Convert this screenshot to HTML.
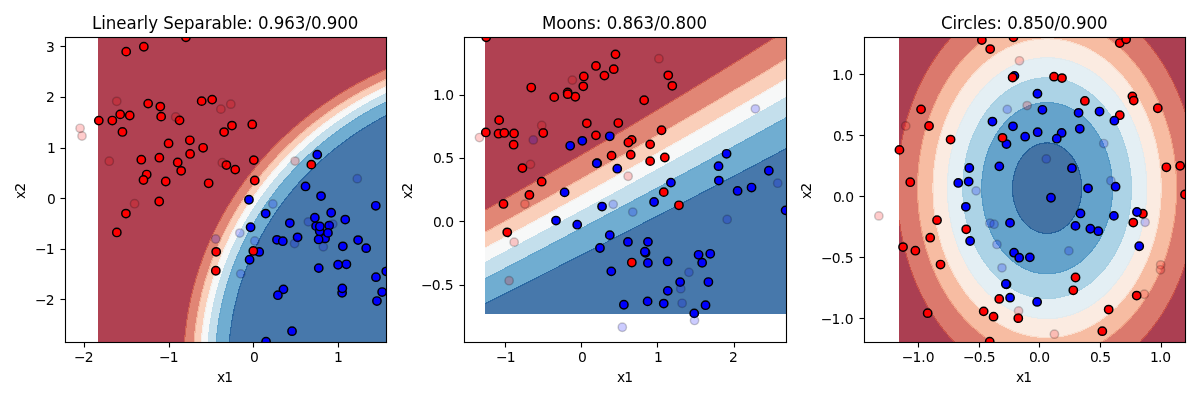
<!DOCTYPE html>
<html lang="en">
<head>
<meta charset="utf-8">
<title>Gaussian Naive Bayes decision boundaries</title>
<style>
html,body{margin:0;padding:0;background:#fff;overflow:hidden}
body{width:1200px;height:400px}
svg{display:block}
</style>
</head>
<body>
<svg width="1200" height="400" viewBox="0 0 1200 400">
<rect x="0" y="0" width="1200" height="400" fill="#fff"/>
<defs>
<clipPath id="c0"><rect x="65" y="37" width="321" height="305"/></clipPath>
<clipPath id="c1"><rect x="464" y="37" width="322" height="305"/></clipPath>
<clipPath id="c2"><rect x="864" y="37" width="321" height="305"/></clipPath>
</defs>
<g clip-path="url(#c0)">
<g shape-rendering="crispEdges" stroke-width="1.2" stroke-linejoin="round">
<path opacity=".8" fill="#9d1227" stroke="#9d1227" d="M100.25 341.72L101.7 341.72L103.14 341.72L104.58 341.72L106.03 341.72L107.47 341.72L108.92 341.72L110.36 341.72L111.81 341.72L113.25 341.72L114.7 341.72L116.14 341.72L117.58 341.72L119.03 341.72L120.47 341.72L121.92 341.72L123.36 341.72L124.81 341.72L126.25 341.72L127.7 341.72L129.14 341.72L130.58 341.72L132.03 341.72L133.47 341.72L134.92 341.72L136.36 341.72L137.81 341.72L139.25 341.72L140.7 341.72L142.14 341.72L143.58 341.72L145.03 341.72L146.47 341.72L147.92 341.72L149.36 341.72L150.81 341.72L152.25 341.72L153.7 341.72L155.14 341.72L156.58 341.72L158.03 341.72L159.47 341.72L160.92 341.72L162.36 341.72L163.81 341.72L165.25 341.72L166.7 341.72L168.14 341.72L169.58 341.72L171.03 341.72L172.47 341.72L173.92 341.72L175.36 341.72L176.81 341.72L178.25 341.72L179.7 341.72L181.14 341.72L182.58 341.72L184.03 341.72L184.54 341.72L184.65 340.19L184.78 338.66L184.91 337.13L185.05 335.6L185.2 334.07L185.36 332.54L185.47 331.5L185.52 331.02L185.69 329.49L185.86 327.96L186.04 326.43L186.24 324.9L186.44 323.37L186.66 321.84L186.88 320.31L186.92 320.09L187.11 318.78L187.33 317.25L187.57 315.72L187.83 314.19L188.09 312.66L188.36 311.16L188.37 311.13L188.63 309.6L188.91 308.07L189.2 306.54L189.51 305.01L189.81 303.59L189.83 303.48L190.13 301.95L190.45 300.42L190.79 298.89L191.14 297.36L191.25 296.9L191.49 295.83L191.84 294.3L192.21 292.78L192.59 291.25L192.7 290.84L192.97 289.72L193.36 288.19L193.76 286.66L194.14 285.29L194.18 285.13L194.59 283.6L195.01 282.07L195.46 280.54L195.58 280.12L195.9 279.01L196.34 277.48L196.81 275.95L197.03 275.27L197.28 274.42L197.76 272.89L198.25 271.36L198.47 270.7L198.75 269.83L199.25 268.3L199.77 266.77L199.92 266.36L200.29 265.24L200.82 263.71L201.36 262.23L201.38 262.18L201.91 260.65L202.48 259.12L202.81 258.27L203.05 257.59L203.62 256.07L204.23 254.54L204.25 254.48L204.81 253.01L205.42 251.48L205.7 250.82L206.04 249.95L206.66 248.42L207.14 247.3L207.31 246.89L207.94 245.36L208.58 243.9L208.61 243.83L209.26 242.3L209.95 240.77L210.03 240.6L210.62 239.24L211.33 237.71L211.47 237.4L212.03 236.18L212.75 234.65L212.92 234.3L213.47 233.12L214.21 231.59L214.36 231.28L214.95 230.06L215.71 228.53L215.81 228.35L216.47 227L217.25 225.49L217.26 225.47L218.03 223.94L218.7 222.7L218.84 222.41L219.64 220.88L220.14 219.97L220.46 219.35L221.3 217.83L221.58 217.31L222.13 216.3L223 214.77L223.03 214.71L223.85 213.24L224.47 212.16L224.73 211.71L225.62 210.18L225.92 209.67L226.51 208.65L227.36 207.23L227.43 207.12L228.34 205.59L228.81 204.84L229.27 204.06L230.23 202.53L230.25 202.5L231.17 201L231.7 200.19L232.14 199.47L233.14 197.94L233.14 197.94L234.12 196.41L234.58 195.71L235.12 194.88L236.03 193.54L236.15 193.35L237.18 191.82L237.47 191.39L238.21 190.29L238.92 189.28L239.27 188.76L240.35 187.23L240.36 187.22L241.43 185.7L241.81 185.18L242.52 184.17L243.25 183.17L243.63 182.64L244.69 181.21L244.76 181.12L245.9 179.59L246.14 179.26L247.04 178.06L247.58 177.35L248.21 176.53L249.03 175.47L249.39 175L250.47 173.62L250.59 173.47L251.8 171.94L251.92 171.79L253.02 170.41L253.36 169.98L254.25 168.88L254.81 168.2L255.5 167.35L256.25 166.45L256.77 165.82L257.69 164.73L258.06 164.29L259.14 163.02L259.36 162.76L260.58 161.35L260.68 161.23L262.02 159.7L262.03 159.69L263.37 158.17L263.47 158.05L264.73 156.64L264.92 156.43L266.11 155.11L266.36 154.84L267.51 153.58L267.81 153.26L268.93 152.05L269.25 151.71L270.36 150.52L270.69 150.17L271.82 148.99L272.14 148.66L273.29 147.46L273.58 147.16L274.78 145.93L275.03 145.68L276.29 144.4L276.47 144.22L277.82 142.88L277.92 142.78L279.36 141.36L279.38 141.35L280.81 139.95L280.94 139.82L282.25 138.55L282.53 138.29L283.69 137.17L284.13 136.76L285.14 135.81L285.76 135.23L286.58 134.46L287.42 133.7L288.03 133.13L289.09 132.17L289.47 131.82L290.8 130.64L290.92 130.53L292.36 129.24L292.52 129.11L293.81 127.97L294.25 127.58L295.25 126.71L296.02 126.05L296.69 125.47L297.81 124.52L298.14 124.24L299.58 123.03L299.64 122.99L301.03 121.82L301.47 121.46L302.47 120.63L303.34 119.93L303.92 119.46L305.24 118.4L305.36 118.3L306.81 117.15L307.16 116.87L308.25 116L309.1 115.34L309.69 114.88L311.09 113.81L311.14 113.78L312.58 112.66L313.09 112.28L314.03 111.57L315.13 110.75L315.47 110.5L316.92 109.43L317.2 109.22L318.36 108.37L319.3 107.69L319.81 107.33L321.25 106.3L321.44 106.16L322.69 105.26L323.6 104.64L324.14 104.26L325.58 103.26L325.81 103.11L327.03 102.26L328.05 101.58L328.47 101.28L329.92 100.31L330.32 100.05L331.36 99.35L332.64 98.52L332.81 98.41L334.25 97.46L334.99 96.99L335.69 96.53L337.14 95.61L337.39 95.46L338.58 94.69L339.82 93.93L340.03 93.8L341.47 92.9L342.3 92.4L342.92 92.02L344.36 91.14L344.83 90.87L345.81 90.27L347.25 89.43L347.41 89.34L348.69 88.57L350.03 87.81L350.14 87.75L351.58 86.9L352.7 86.28L353.03 86.09L354.47 85.27L355.43 84.75L355.92 84.47L357.36 83.68L358.21 83.22L358.81 82.89L360.25 82.11L361.06 81.69L361.69 81.34L363.14 80.58L363.96 80.16L364.58 79.83L366.03 79.08L366.93 78.63L367.47 78.35L368.92 77.61L369.96 77.1L370.36 76.9L371.81 76.18L373.07 75.57L373.25 75.49L374.69 74.77L376.14 74.1L376.26 74.04L377.58 73.4L379.03 72.73L379.52 72.51L380.47 72.06L381.92 71.4L382.86 70.98L383.36 70.75L384.81 70.1L386.25 69.48L386.25 69.45L386.25 67.93L386.25 66.4L386.25 64.87L386.25 63.34L386.25 61.81L386.25 60.28L386.25 58.75L386.25 57.22L386.25 55.69L386.25 54.16L386.25 52.63L386.25 51.1L386.25 49.57L386.25 48.04L386.25 46.51L386.25 44.98L386.25 43.45L386.25 41.92L386.25 40.39L386.25 38.86L386.25 37.33L384.81 37.33L383.36 37.33L381.92 37.33L380.47 37.33L379.03 37.33L377.58 37.33L376.14 37.33L374.69 37.33L373.25 37.33L371.81 37.33L370.36 37.33L368.92 37.33L367.47 37.33L366.03 37.33L364.58 37.33L363.14 37.33L361.69 37.33L360.25 37.33L358.81 37.33L357.36 37.33L355.92 37.33L354.47 37.33L353.03 37.33L351.58 37.33L350.14 37.33L348.69 37.33L347.25 37.33L345.81 37.33L344.36 37.33L342.92 37.33L341.47 37.33L340.03 37.33L338.58 37.33L337.14 37.33L335.69 37.33L334.25 37.33L332.81 37.33L331.36 37.33L329.92 37.33L328.47 37.33L327.03 37.33L325.58 37.33L324.14 37.33L322.69 37.33L321.25 37.33L319.81 37.33L318.36 37.33L316.92 37.33L315.47 37.33L314.03 37.33L312.58 37.33L311.14 37.33L309.69 37.33L308.25 37.33L306.81 37.33L305.36 37.33L303.92 37.33L302.47 37.33L301.03 37.33L299.58 37.33L298.14 37.33L296.69 37.33L295.25 37.33L293.81 37.33L292.36 37.33L290.92 37.33L289.47 37.33L288.03 37.33L286.58 37.33L285.14 37.33L283.69 37.33L282.25 37.33L280.81 37.33L279.36 37.33L277.92 37.33L276.47 37.33L275.03 37.33L273.58 37.33L272.14 37.33L270.69 37.33L269.25 37.33L267.81 37.33L266.36 37.33L264.92 37.33L263.47 37.33L262.03 37.33L260.58 37.33L259.14 37.33L257.69 37.33L256.25 37.33L254.81 37.33L253.36 37.33L251.92 37.33L250.47 37.33L249.03 37.33L247.58 37.33L246.14 37.33L244.69 37.33L243.25 37.33L241.81 37.33L240.36 37.33L238.92 37.33L237.47 37.33L236.03 37.33L234.58 37.33L233.14 37.33L231.7 37.33L230.25 37.33L228.81 37.33L227.36 37.33L225.92 37.33L224.47 37.33L223.03 37.33L221.58 37.33L220.14 37.33L218.7 37.33L217.25 37.33L215.81 37.33L214.36 37.33L212.92 37.33L211.47 37.33L210.03 37.33L208.58 37.33L207.14 37.33L205.7 37.33L204.25 37.33L202.81 37.33L201.36 37.33L199.92 37.33L198.47 37.33L197.03 37.33L195.58 37.33L194.14 37.33L192.7 37.33L191.25 37.33L189.81 37.33L188.36 37.33L186.92 37.33L185.47 37.33L184.03 37.33L182.58 37.33L181.14 37.33L179.7 37.33L178.25 37.33L176.81 37.33L175.36 37.33L173.92 37.33L172.47 37.33L171.03 37.33L169.58 37.33L168.14 37.33L166.7 37.33L165.25 37.33L163.81 37.33L162.36 37.33L160.92 37.33L159.47 37.33L158.03 37.33L156.58 37.33L155.14 37.33L153.7 37.33L152.25 37.33L150.81 37.33L149.36 37.33L147.92 37.33L146.47 37.33L145.03 37.33L143.58 37.33L142.14 37.33L140.7 37.33L139.25 37.33L137.81 37.33L136.36 37.33L134.92 37.33L133.47 37.33L132.03 37.33L130.58 37.33L129.14 37.33L127.7 37.33L126.25 37.33L124.81 37.33L123.36 37.33L121.92 37.33L120.47 37.33L119.03 37.33L117.58 37.33L116.14 37.33L114.7 37.33L113.25 37.33L111.81 37.33L110.36 37.33L108.92 37.33L107.47 37.33L106.03 37.33L104.58 37.33L103.14 37.33L101.7 37.33L100.25 37.33L98.81 37.33L98.81 38.86L98.81 40.39L98.81 41.92L98.81 43.45L98.81 44.98L98.81 46.51L98.81 48.04L98.81 49.57L98.81 51.1L98.81 52.63L98.81 54.16L98.81 55.69L98.81 57.22L98.81 58.75L98.81 60.28L98.81 61.81L98.81 63.34L98.81 64.87L98.81 66.4L98.81 67.93L98.81 69.45L98.81 70.98L98.81 72.51L98.81 74.04L98.81 75.57L98.81 77.1L98.81 78.63L98.81 80.16L98.81 81.69L98.81 83.22L98.81 84.75L98.81 86.28L98.81 87.81L98.81 89.34L98.81 90.87L98.81 92.4L98.81 93.93L98.81 95.46L98.81 96.99L98.81 98.52L98.81 100.05L98.81 101.58L98.81 103.11L98.81 104.64L98.81 106.16L98.81 107.69L98.81 109.22L98.81 110.75L98.81 112.28L98.81 113.81L98.81 115.34L98.81 116.87L98.81 118.4L98.81 119.93L98.81 121.46L98.81 122.99L98.81 124.52L98.81 126.05L98.81 127.58L98.81 129.11L98.81 130.64L98.81 132.17L98.81 133.7L98.81 135.23L98.81 136.76L98.81 138.29L98.81 139.82L98.81 141.35L98.81 142.88L98.81 144.4L98.81 145.93L98.81 147.46L98.81 148.99L98.81 150.52L98.81 152.05L98.81 153.58L98.81 155.11L98.81 156.64L98.81 158.17L98.81 159.7L98.81 161.23L98.81 162.76L98.81 164.29L98.81 165.82L98.81 167.35L98.81 168.88L98.81 170.41L98.81 171.94L98.81 173.47L98.81 175L98.81 176.53L98.81 178.06L98.81 179.59L98.81 181.12L98.81 182.64L98.81 184.17L98.81 185.7L98.81 187.23L98.81 188.76L98.81 190.29L98.81 191.82L98.81 193.35L98.81 194.88L98.81 196.41L98.81 197.94L98.81 199.47L98.81 201L98.81 202.53L98.81 204.06L98.81 205.59L98.81 207.12L98.81 208.65L98.81 210.18L98.81 211.71L98.81 213.24L98.81 214.77L98.81 216.3L98.81 217.83L98.81 219.35L98.81 220.88L98.81 222.41L98.81 223.94L98.81 225.47L98.81 227L98.81 228.53L98.81 230.06L98.81 231.59L98.81 233.12L98.81 234.65L98.81 236.18L98.81 237.71L98.81 239.24L98.81 240.77L98.81 242.3L98.81 243.83L98.81 245.36L98.81 246.89L98.81 248.42L98.81 249.95L98.81 251.48L98.81 253.01L98.81 254.54L98.81 256.07L98.81 257.59L98.81 259.12L98.81 260.65L98.81 262.18L98.81 263.71L98.81 265.24L98.81 266.77L98.81 268.3L98.81 269.83L98.81 271.36L98.81 272.89L98.81 274.42L98.81 275.95L98.81 277.48L98.81 279.01L98.81 280.54L98.81 282.07L98.81 283.6L98.81 285.13L98.81 286.66L98.81 288.19L98.81 289.72L98.81 291.25L98.81 292.78L98.81 294.3L98.81 295.83L98.81 297.36L98.81 298.89L98.81 300.42L98.81 301.95L98.81 303.48L98.81 305.01L98.81 306.54L98.81 308.07L98.81 309.6L98.81 311.13L98.81 312.66L98.81 314.19L98.81 315.72L98.81 317.25L98.81 318.78L98.81 320.31L98.81 321.84L98.81 323.37L98.81 324.9L98.81 326.43L98.81 327.96L98.81 329.49L98.81 331.02L98.81 332.54L98.81 334.07L98.81 335.6L98.81 337.13L98.81 338.66L98.81 340.19L98.81 341.72Z"/>
<path opacity=".8" fill="#da6853" stroke="#da6853" d="M185.47 341.72L186.92 341.72L188.36 341.72L189.81 341.72L191.25 341.72L192.7 341.72L194.14 341.72L194.17 341.72L194.28 340.19L194.41 338.66L194.54 337.13L194.68 335.6L194.83 334.07L194.99 332.54L195.16 331.02L195.34 329.49L195.52 327.96L195.58 327.47L195.71 326.43L195.91 324.9L196.12 323.37L196.33 321.84L196.56 320.31L196.79 318.78L197.03 317.31L197.04 317.25L197.28 315.72L197.54 314.19L197.8 312.66L198.08 311.13L198.37 309.6L198.47 309.06L198.66 308.07L198.96 306.54L199.26 305.01L199.58 303.48L199.91 301.95L199.92 301.94L200.24 300.42L200.58 298.89L200.94 297.36L201.3 295.83L201.36 295.59L201.67 294.3L202.04 292.78L202.43 291.25L202.81 289.81L202.83 289.72L203.23 288.19L203.64 286.66L204.07 285.13L204.25 284.48L204.5 283.6L204.93 282.07L205.38 280.54L205.7 279.51L205.84 279.01L206.3 277.48L206.78 275.95L207.14 274.83L207.27 274.42L207.76 272.89L208.26 271.36L208.58 270.41L208.78 269.83L209.29 268.3L209.83 266.77L210.03 266.21L210.37 265.24L210.91 263.71L211.47 262.2L211.48 262.18L212.04 260.65L212.62 259.12L212.92 258.36L213.21 257.59L213.8 256.07L214.36 254.68L214.42 254.54L215.03 253.01L215.66 251.48L215.81 251.13L216.29 249.95L216.94 248.42L217.25 247.7L217.6 246.89L218.26 245.36L218.7 244.39L218.94 243.83L219.62 242.3L220.14 241.18L220.32 240.77L221.03 239.24L221.58 238.06L221.75 237.71L222.47 236.18L223.03 235.04L223.21 234.65L223.96 233.12L224.47 232.1L224.72 231.59L225.49 230.06L225.92 229.23L226.27 228.53L227.07 227L227.36 226.44L227.87 225.47L228.69 223.94L228.81 223.72L229.51 222.41L230.25 221.06L230.35 220.88L231.19 219.35L231.7 218.47L232.05 217.83L232.93 216.3L233.14 215.93L233.8 214.77L234.58 213.44L234.7 213.24L235.61 211.71L236.03 211.01L236.52 210.18L237.46 208.65L237.47 208.63L238.4 207.12L238.92 206.29L239.35 205.59L240.32 204.06L240.36 204L241.3 202.53L241.81 201.75L242.29 201L243.25 199.54L243.3 199.47L244.31 197.94L244.69 197.37L245.34 196.41L246.14 195.25L246.39 194.88L247.45 193.35L247.58 193.16L248.51 191.82L249.03 191.1L249.6 190.29L250.47 189.08L250.7 188.76L251.81 187.23L251.92 187.09L252.93 185.7L253.36 185.13L254.07 184.17L254.81 183.2L255.23 182.64L256.25 181.31L256.4 181.12L257.58 179.59L257.69 179.44L258.78 178.06L259.14 177.6L259.99 176.53L260.58 175.79L261.22 175L262.03 174L262.47 173.47L263.47 172.25L263.73 171.94L264.92 170.51L265.01 170.41L266.3 168.88L266.36 168.8L267.61 167.35L267.81 167.12L268.93 165.82L269.25 165.45L270.27 164.29L270.69 163.81L271.63 162.76L272.14 162.19L273.01 161.23L273.58 160.59L274.4 159.7L275.03 159.02L275.81 158.17L276.47 157.46L277.24 156.64L277.92 155.93L278.69 155.11L279.36 154.41L280.16 153.58L280.81 152.91L281.65 152.05L282.25 151.44L283.15 150.52L283.69 149.98L284.68 148.99L285.14 148.54L286.23 147.46L286.58 147.11L287.79 145.93L288.03 145.71L289.38 144.4L289.47 144.32L290.92 142.95L290.99 142.88L292.36 141.59L292.62 141.35L293.81 140.24L294.27 139.82L295.25 138.92L295.95 138.29L296.69 137.61L297.65 136.76L298.14 136.31L299.37 135.23L299.58 135.04L301.03 133.78L301.12 133.7L302.47 132.52L302.88 132.17L303.92 131.28L304.68 130.64L305.36 130.06L306.5 129.11L306.81 128.86L308.25 127.66L308.35 127.58L309.69 126.48L310.22 126.05L311.14 125.31L312.13 124.52L312.58 124.15L314.03 123.02L314.06 122.99L315.47 121.88L316.02 121.46L316.92 120.76L318.01 119.93L318.36 119.66L319.81 118.57L320.03 118.4L321.25 117.48L322.08 116.87L322.69 116.41L324.14 115.36L324.17 115.34L325.58 114.31L326.28 113.81L327.03 113.27L328.43 112.28L328.47 112.26L329.92 111.24L330.62 110.75L331.36 110.23L332.81 109.25L332.84 109.22L334.25 108.26L335.1 107.69L335.69 107.29L337.14 106.34L337.4 106.16L338.58 105.38L339.74 104.64L340.03 104.45L341.47 103.51L342.12 103.11L342.92 102.59L344.36 101.69L344.54 101.58L345.81 100.78L347.01 100.05L347.25 99.9L348.69 99.01L349.53 98.52L350.14 98.14L351.58 97.28L352.09 96.99L353.03 96.43L354.47 95.59L354.7 95.46L355.92 94.75L357.36 93.93L357.37 93.93L358.81 93.11L360.09 92.4L360.25 92.31L361.69 91.5L362.87 90.87L363.14 90.72L364.58 89.93L365.71 89.34L366.03 89.17L367.47 88.4L368.61 87.81L368.92 87.65L370.36 86.89L371.57 86.28L371.81 86.16L373.25 85.42L374.61 84.75L374.69 84.71L376.14 83.98L377.58 83.29L377.72 83.22L379.03 82.58L380.47 81.89L380.9 81.69L381.92 81.21L383.36 80.53L384.17 80.16L384.81 79.87L386.25 79.2L386.25 78.63L386.25 77.1L386.25 75.57L386.25 74.04L386.25 72.51L386.25 70.98L386.25 69.48L384.81 70.1L383.36 70.75L382.86 70.98L381.92 71.4L380.47 72.06L379.52 72.51L379.03 72.73L377.58 73.4L376.26 74.04L376.14 74.1L374.69 74.77L373.25 75.49L373.07 75.57L371.81 76.18L370.36 76.9L369.96 77.1L368.92 77.61L367.47 78.35L366.93 78.63L366.03 79.08L364.58 79.83L363.96 80.16L363.14 80.58L361.69 81.34L361.06 81.69L360.25 82.11L358.81 82.89L358.21 83.22L357.36 83.68L355.92 84.47L355.43 84.75L354.47 85.27L353.03 86.09L352.7 86.28L351.58 86.9L350.14 87.75L350.03 87.81L348.69 88.57L347.41 89.34L347.25 89.43L345.81 90.27L344.83 90.87L344.36 91.14L342.92 92.02L342.3 92.4L341.47 92.9L340.03 93.8L339.82 93.93L338.58 94.69L337.39 95.46L337.14 95.61L335.69 96.53L334.99 96.99L334.25 97.46L332.81 98.41L332.64 98.52L331.36 99.35L330.32 100.05L329.92 100.31L328.47 101.28L328.05 101.58L327.03 102.26L325.81 103.11L325.58 103.26L324.14 104.26L323.6 104.64L322.69 105.26L321.44 106.16L321.25 106.3L319.81 107.33L319.3 107.69L318.36 108.37L317.2 109.22L316.92 109.43L315.47 110.5L315.13 110.75L314.03 111.57L313.09 112.28L312.58 112.66L311.14 113.78L311.09 113.81L309.69 114.88L309.1 115.34L308.25 116L307.16 116.87L306.81 117.15L305.36 118.3L305.24 118.4L303.92 119.46L303.34 119.93L302.47 120.63L301.47 121.46L301.03 121.82L299.64 122.99L299.58 123.03L298.14 124.24L297.81 124.52L296.69 125.47L296.02 126.05L295.25 126.71L294.25 127.58L293.81 127.97L292.52 129.11L292.36 129.24L290.92 130.53L290.8 130.64L289.47 131.82L289.09 132.17L288.03 133.13L287.42 133.7L286.58 134.46L285.76 135.23L285.14 135.81L284.13 136.76L283.69 137.17L282.53 138.29L282.25 138.55L280.94 139.82L280.81 139.95L279.38 141.35L279.36 141.36L277.92 142.78L277.82 142.88L276.47 144.22L276.29 144.4L275.03 145.68L274.78 145.93L273.58 147.16L273.29 147.46L272.14 148.66L271.82 148.99L270.69 150.17L270.36 150.52L269.25 151.71L268.93 152.05L267.81 153.26L267.51 153.58L266.36 154.84L266.11 155.11L264.92 156.43L264.73 156.64L263.47 158.05L263.37 158.17L262.03 159.69L262.02 159.7L260.68 161.23L260.58 161.35L259.36 162.76L259.14 163.02L258.06 164.29L257.69 164.73L256.77 165.82L256.25 166.45L255.5 167.35L254.81 168.2L254.25 168.88L253.36 169.98L253.02 170.41L251.92 171.79L251.8 171.94L250.59 173.47L250.47 173.62L249.39 175L249.03 175.47L248.21 176.53L247.58 177.35L247.04 178.06L246.14 179.26L245.9 179.59L244.76 181.12L244.69 181.21L243.63 182.64L243.25 183.17L242.52 184.17L241.81 185.18L241.43 185.7L240.36 187.22L240.35 187.23L239.27 188.76L238.92 189.28L238.21 190.29L237.47 191.39L237.18 191.82L236.15 193.35L236.03 193.54L235.12 194.88L234.58 195.71L234.12 196.41L233.14 197.94L233.14 197.94L232.14 199.47L231.7 200.19L231.17 201L230.25 202.5L230.23 202.53L229.27 204.06L228.81 204.84L228.34 205.59L227.43 207.12L227.36 207.23L226.51 208.65L225.92 209.67L225.62 210.18L224.73 211.71L224.47 212.16L223.85 213.24L223.03 214.71L223 214.77L222.13 216.3L221.58 217.31L221.3 217.83L220.46 219.35L220.14 219.97L219.64 220.88L218.84 222.41L218.7 222.7L218.03 223.94L217.26 225.47L217.25 225.49L216.47 227L215.81 228.35L215.71 228.53L214.95 230.06L214.36 231.28L214.21 231.59L213.47 233.12L212.92 234.3L212.75 234.65L212.03 236.18L211.47 237.4L211.33 237.71L210.62 239.24L210.03 240.6L209.95 240.77L209.26 242.3L208.61 243.83L208.58 243.9L207.94 245.36L207.31 246.89L207.14 247.3L206.66 248.42L206.04 249.95L205.7 250.82L205.42 251.48L204.81 253.01L204.25 254.48L204.23 254.54L203.62 256.07L203.05 257.59L202.81 258.27L202.48 259.12L201.91 260.65L201.38 262.18L201.36 262.23L200.82 263.71L200.29 265.24L199.92 266.36L199.77 266.77L199.25 268.3L198.75 269.83L198.47 270.7L198.25 271.36L197.76 272.89L197.28 274.42L197.03 275.27L196.81 275.95L196.34 277.48L195.9 279.01L195.58 280.12L195.46 280.54L195.01 282.07L194.59 283.6L194.18 285.13L194.14 285.29L193.76 286.66L193.36 288.19L192.97 289.72L192.7 290.84L192.59 291.25L192.21 292.78L191.84 294.3L191.49 295.83L191.25 296.9L191.14 297.36L190.79 298.89L190.45 300.42L190.13 301.95L189.83 303.48L189.81 303.59L189.51 305.01L189.2 306.54L188.91 308.07L188.63 309.6L188.37 311.13L188.36 311.16L188.09 312.66L187.83 314.19L187.57 315.72L187.33 317.25L187.11 318.78L186.92 320.09L186.88 320.31L186.66 321.84L186.44 323.37L186.24 324.9L186.04 326.43L185.86 327.96L185.69 329.49L185.52 331.02L185.47 331.5L185.36 332.54L185.2 334.07L185.05 335.6L184.91 337.13L184.78 338.66L184.65 340.19L184.54 341.72Z"/>
<path opacity=".8" fill="#f9c4a9" stroke="#f9c4a9" d="M195.58 341.72L197.03 341.72L198.47 341.72L199.92 341.72L201.35 341.72L201.36 341.53L201.47 340.19L201.59 338.66L201.73 337.13L201.88 335.6L202.03 334.07L202.19 332.54L202.36 331.02L202.54 329.49L202.73 327.96L202.81 327.35L202.92 326.43L203.13 324.9L203.34 323.37L203.56 321.84L203.79 320.31L204.03 318.78L204.25 317.41L204.28 317.25L204.53 315.72L204.79 314.19L205.07 312.66L205.35 311.13L205.64 309.6L205.7 309.31L205.94 308.07L206.24 306.54L206.56 305.01L206.88 303.48L207.14 302.3L207.21 301.95L207.56 300.42L207.91 298.89L208.27 297.36L208.58 296.04L208.63 295.83L209.01 294.3L209.4 292.78L209.79 291.25L210.03 290.35L210.2 289.72L210.61 288.19L211.03 286.66L211.46 285.13L211.47 285.09L211.9 283.6L212.35 282.07L212.81 280.54L212.92 280.19L213.28 279.01L213.75 277.48L214.24 275.95L214.36 275.57L214.74 274.42L215.24 272.89L215.76 271.36L215.81 271.21L216.28 269.83L216.81 268.3L217.25 267.07L217.36 266.77L217.91 265.24L218.47 263.71L218.7 263.11L219.04 262.18L219.62 260.65L220.14 259.32L220.22 259.12L220.82 257.59L221.43 256.07L221.58 255.68L222.05 254.54L222.68 253.01L223.03 252.18L223.32 251.48L223.97 249.95L224.47 248.79L224.64 248.42L225.31 246.89L225.92 245.52L225.99 245.36L226.68 243.83L227.36 242.36L227.39 242.3L228.1 240.77L228.81 239.28L228.83 239.24L229.56 237.71L230.25 236.3L230.31 236.18L231.06 234.65L231.7 233.4L231.83 233.12L232.61 231.59L233.14 230.57L233.4 230.06L234.2 228.53L234.58 227.82L235.02 227L235.84 225.47L236.03 225.13L236.68 223.94L237.47 222.51L237.52 222.41L238.38 220.88L238.92 219.94L239.25 219.35L240.13 217.83L240.36 217.44L241.03 216.3L241.81 214.98L241.94 214.77L242.85 213.24L243.25 212.58L243.78 211.71L244.69 210.23L244.73 210.18L245.68 208.65L246.14 207.93L246.65 207.12L247.58 205.67L247.63 205.59L248.63 204.06L249.03 203.45L249.64 202.53L250.47 201.27L250.66 201L251.69 199.47L251.92 199.14L252.74 197.94L253.36 197.04L253.8 196.41L254.81 194.98L254.87 194.88L255.96 193.35L256.25 192.95L257.06 191.82L257.69 190.96L258.18 190.29L259.14 188.99L259.31 188.76L260.46 187.23L260.58 187.07L261.62 185.7L262.03 185.17L262.79 184.17L263.47 183.3L263.98 182.64L264.92 181.46L265.19 181.12L266.36 179.65L266.41 179.59L267.65 178.06L267.81 177.86L268.9 176.53L269.25 176.1L270.17 175L270.69 174.37L271.46 173.47L272.14 172.66L272.76 171.94L273.58 170.98L274.08 170.41L275.03 169.32L275.41 168.88L276.47 167.68L276.77 167.35L277.92 166.07L278.14 165.82L279.36 164.47L279.53 164.29L280.81 162.9L280.94 162.76L282.25 161.35L282.36 161.23L283.69 159.82L283.81 159.7L285.14 158.31L285.27 158.17L286.58 156.82L286.75 156.64L288.03 155.34L288.26 155.11L289.47 153.89L289.78 153.58L290.92 152.45L291.32 152.05L292.36 151.04L292.89 150.52L293.81 149.64L294.47 148.99L295.25 148.25L296.08 147.46L296.69 146.89L297.71 145.93L298.14 145.54L299.37 144.4L299.58 144.2L301.03 142.89L301.04 142.88L302.47 141.59L302.74 141.35L303.92 140.3L304.46 139.82L305.36 139.03L306.21 138.29L306.81 137.77L307.98 136.76L308.25 136.53L309.69 135.3L309.78 135.23L311.14 134.09L311.61 133.7L312.58 132.89L313.46 132.17L314.03 131.7L315.34 130.64L315.47 130.53L316.92 129.37L317.25 129.11L318.36 128.23L319.18 127.58L319.81 127.09L321.15 126.05L321.25 125.97L322.69 124.87L323.15 124.52L324.14 123.77L325.18 122.99L325.58 122.69L327.03 121.62L327.24 121.46L328.47 120.56L329.33 119.93L329.92 119.51L331.36 118.47L331.46 118.4L332.81 117.45L333.63 116.87L334.25 116.43L335.69 115.43L335.83 115.34L337.14 114.44L338.06 113.81L338.58 113.46L340.03 112.49L340.34 112.28L341.47 111.53L342.66 110.75L342.92 110.58L344.36 109.65L345.02 109.22L345.81 108.72L347.25 107.8L347.42 107.69L348.69 106.89L349.87 106.16L350.14 106L351.58 105.11L352.36 104.64L353.03 104.23L354.47 103.36L354.9 103.11L355.92 102.5L357.36 101.65L357.49 101.58L358.81 100.81L360.14 100.05L360.25 99.98L361.69 99.16L362.84 98.52L363.14 98.35L364.58 97.54L365.59 96.99L366.03 96.75L367.47 95.96L368.41 95.46L368.92 95.19L370.36 94.42L371.29 93.93L371.81 93.66L373.25 92.91L374.24 92.4L374.69 92.16L376.14 91.43L377.25 90.87L377.58 90.7L379.03 89.99L380.35 89.34L380.47 89.28L381.92 88.57L383.36 87.88L383.51 87.81L384.81 87.2L386.25 86.52L386.25 86.28L386.25 84.75L386.25 83.22L386.25 81.69L386.25 80.16L386.25 79.2L384.81 79.87L384.17 80.16L383.36 80.53L381.92 81.21L380.9 81.69L380.47 81.89L379.03 82.58L377.72 83.22L377.58 83.29L376.14 83.98L374.69 84.71L374.61 84.75L373.25 85.42L371.81 86.16L371.57 86.28L370.36 86.89L368.92 87.65L368.61 87.81L367.47 88.4L366.03 89.17L365.71 89.34L364.58 89.93L363.14 90.72L362.87 90.87L361.69 91.5L360.25 92.31L360.09 92.4L358.81 93.11L357.37 93.93L357.36 93.93L355.92 94.75L354.7 95.46L354.47 95.59L353.03 96.43L352.09 96.99L351.58 97.28L350.14 98.14L349.53 98.52L348.69 99.01L347.25 99.9L347.01 100.05L345.81 100.78L344.54 101.58L344.36 101.69L342.92 102.59L342.12 103.11L341.47 103.51L340.03 104.45L339.74 104.64L338.58 105.38L337.4 106.16L337.14 106.34L335.69 107.29L335.1 107.69L334.25 108.26L332.84 109.22L332.81 109.25L331.36 110.23L330.62 110.75L329.92 111.24L328.47 112.26L328.43 112.28L327.03 113.27L326.28 113.81L325.58 114.31L324.17 115.34L324.14 115.36L322.69 116.41L322.08 116.87L321.25 117.48L320.03 118.4L319.81 118.57L318.36 119.66L318.01 119.93L316.92 120.76L316.02 121.46L315.47 121.88L314.06 122.99L314.03 123.02L312.58 124.15L312.13 124.52L311.14 125.31L310.22 126.05L309.69 126.48L308.35 127.58L308.25 127.66L306.81 128.86L306.5 129.11L305.36 130.06L304.68 130.64L303.92 131.28L302.88 132.17L302.47 132.52L301.12 133.7L301.03 133.78L299.58 135.04L299.37 135.23L298.14 136.31L297.65 136.76L296.69 137.61L295.95 138.29L295.25 138.92L294.27 139.82L293.81 140.24L292.62 141.35L292.36 141.59L290.99 142.88L290.92 142.95L289.47 144.32L289.38 144.4L288.03 145.71L287.79 145.93L286.58 147.11L286.23 147.46L285.14 148.54L284.68 148.99L283.69 149.98L283.15 150.52L282.25 151.44L281.65 152.05L280.81 152.91L280.16 153.58L279.36 154.41L278.69 155.11L277.92 155.93L277.24 156.64L276.47 157.46L275.81 158.17L275.03 159.02L274.4 159.7L273.58 160.59L273.01 161.23L272.14 162.19L271.63 162.76L270.69 163.81L270.27 164.29L269.25 165.45L268.93 165.82L267.81 167.12L267.61 167.35L266.36 168.8L266.3 168.88L265.01 170.41L264.92 170.51L263.73 171.94L263.47 172.25L262.47 173.47L262.03 174L261.22 175L260.58 175.79L259.99 176.53L259.14 177.6L258.78 178.06L257.69 179.44L257.58 179.59L256.4 181.12L256.25 181.31L255.23 182.64L254.81 183.2L254.07 184.17L253.36 185.13L252.93 185.7L251.92 187.09L251.81 187.23L250.7 188.76L250.47 189.08L249.6 190.29L249.03 191.1L248.51 191.82L247.58 193.16L247.45 193.35L246.39 194.88L246.14 195.25L245.34 196.41L244.69 197.37L244.31 197.94L243.3 199.47L243.25 199.54L242.29 201L241.81 201.75L241.3 202.53L240.36 204L240.32 204.06L239.35 205.59L238.92 206.29L238.4 207.12L237.47 208.63L237.46 208.65L236.52 210.18L236.03 211.01L235.61 211.71L234.7 213.24L234.58 213.44L233.8 214.77L233.14 215.93L232.93 216.3L232.05 217.83L231.7 218.47L231.19 219.35L230.35 220.88L230.25 221.06L229.51 222.41L228.81 223.72L228.69 223.94L227.87 225.47L227.36 226.44L227.07 227L226.27 228.53L225.92 229.23L225.49 230.06L224.72 231.59L224.47 232.1L223.96 233.12L223.21 234.65L223.03 235.04L222.47 236.18L221.75 237.71L221.58 238.06L221.03 239.24L220.32 240.77L220.14 241.18L219.62 242.3L218.94 243.83L218.7 244.39L218.26 245.36L217.6 246.89L217.25 247.7L216.94 248.42L216.29 249.95L215.81 251.13L215.66 251.48L215.03 253.01L214.42 254.54L214.36 254.68L213.8 256.07L213.21 257.59L212.92 258.36L212.62 259.12L212.04 260.65L211.48 262.18L211.47 262.2L210.91 263.71L210.37 265.24L210.03 266.21L209.83 266.77L209.29 268.3L208.78 269.83L208.58 270.41L208.26 271.36L207.76 272.89L207.27 274.42L207.14 274.83L206.78 275.95L206.3 277.48L205.84 279.01L205.7 279.51L205.38 280.54L204.93 282.07L204.5 283.6L204.25 284.48L204.07 285.13L203.64 286.66L203.23 288.19L202.83 289.72L202.81 289.81L202.43 291.25L202.04 292.78L201.67 294.3L201.36 295.59L201.3 295.83L200.94 297.36L200.58 298.89L200.24 300.42L199.92 301.94L199.91 301.95L199.58 303.48L199.26 305.01L198.96 306.54L198.66 308.07L198.47 309.06L198.37 309.6L198.08 311.13L197.8 312.66L197.54 314.19L197.28 315.72L197.04 317.25L197.03 317.31L196.79 318.78L196.56 320.31L196.33 321.84L196.12 323.37L195.91 324.9L195.71 326.43L195.58 327.47L195.52 327.96L195.34 329.49L195.16 331.02L194.99 332.54L194.83 334.07L194.68 335.6L194.54 337.13L194.41 338.66L194.28 340.19L194.17 341.72Z"/>
<path opacity=".8" fill="#f6f7f7" stroke="#f6f7f7" d="M201.36 341.72L202.81 341.72L204.25 341.72L205.7 341.72L207.14 341.72L208.22 341.72L208.34 340.19L208.47 338.66L208.58 337.39L208.61 337.13L208.76 335.6L208.92 334.07L209.08 332.54L209.26 331.02L209.44 329.49L209.63 327.96L209.83 326.43L210.03 324.94L210.03 324.9L210.25 323.37L210.48 321.84L210.72 320.31L210.96 318.78L211.21 317.25L211.47 315.72L211.47 315.68L211.74 314.19L212.02 312.66L212.3 311.13L212.6 309.6L212.9 308.07L212.92 307.98L213.22 306.54L213.54 305.01L213.87 303.48L214.21 301.95L214.36 301.27L214.56 300.42L214.92 298.89L215.28 297.36L215.66 295.83L215.81 295.24L216.04 294.3L216.44 292.78L216.84 291.25L217.25 289.72L217.25 289.72L217.68 288.19L218.11 286.66L218.55 285.13L218.7 284.62L219 283.6L219.46 282.07L219.92 280.54L220.14 279.84L220.4 279.01L220.89 277.48L221.39 275.95L221.58 275.35L221.9 274.42L222.41 272.89L222.93 271.36L223.03 271.09L223.47 269.83L224.02 268.3L224.47 267.04L224.57 266.77L225.14 265.24L225.71 263.71L225.92 263.17L226.3 262.18L226.9 260.65L227.36 259.46L227.5 259.12L228.12 257.59L228.74 256.07L228.81 255.9L229.38 254.54L230.02 253.01L230.25 252.47L230.68 251.48L231.35 249.95L231.7 249.15L232.02 248.42L232.71 246.89L233.14 245.95L233.41 245.36L234.12 243.83L234.58 242.84L234.84 242.3L235.57 240.77L236.03 239.83L236.32 239.24L237.07 237.71L237.47 236.9L237.83 236.18L238.61 234.65L238.92 234.05L239.4 233.12L240.19 231.59L240.36 231.27L241.01 230.06L241.81 228.57L241.82 228.53L242.66 227L243.25 225.93L243.51 225.47L244.36 223.94L244.69 223.35L245.23 222.41L246.11 220.88L246.14 220.83L247.01 219.35L247.58 218.38L247.91 217.83L248.83 216.3L249.03 215.97L249.76 214.77L250.47 213.61L250.7 213.24L251.66 211.71L251.92 211.3L252.63 210.18L253.36 209.03L253.61 208.65L254.61 207.12L254.81 206.81L255.62 205.59L256.25 204.63L256.64 204.06L257.67 202.53L257.69 202.49L258.72 201L259.14 200.4L259.79 199.47L260.58 198.33L260.86 197.94L261.95 196.41L262.03 196.3L263.06 194.88L263.47 194.32L264.18 193.35L264.92 192.36L265.32 191.82L266.36 190.43L266.46 190.29L267.63 188.76L267.81 188.53L268.81 187.23L269.25 186.67L270.01 185.7L270.69 184.84L271.22 184.17L272.14 183.03L272.45 182.64L273.58 181.25L273.69 181.12L274.95 179.59L275.03 179.49L276.23 178.06L276.47 177.77L277.52 176.53L277.92 176.06L278.83 175L279.36 174.39L280.16 173.47L280.81 172.73L281.51 171.94L282.25 171.1L282.87 170.41L283.69 169.5L284.25 168.88L285.14 167.91L285.66 167.35L286.58 166.35L287.07 165.82L288.03 164.8L288.51 164.29L289.47 163.28L289.97 162.76L290.92 161.78L291.45 161.23L292.36 160.3L292.95 159.7L293.81 158.83L294.46 158.17L295.25 157.39L296 156.64L296.69 155.96L297.56 155.11L298.14 154.55L299.14 153.58L299.58 153.16L300.75 152.05L301.03 151.79L302.37 150.52L302.47 150.43L303.92 149.09L304.02 148.99L305.36 147.77L305.7 147.46L306.81 146.46L307.39 145.93L308.25 145.17L309.11 144.4L309.69 143.9L310.86 142.88L311.14 142.63L312.58 141.39L312.63 141.35L314.03 140.16L314.43 139.82L315.47 138.94L316.26 138.29L316.92 137.74L318.11 136.76L318.36 136.55L319.81 135.37L319.99 135.23L321.25 134.22L321.9 133.7L322.69 133.07L323.84 132.17L324.14 131.93L325.58 130.81L325.81 130.64L327.03 129.71L327.81 129.11L328.47 128.61L329.84 127.58L329.92 127.52L331.36 126.46L331.91 126.05L332.81 125.4L334.01 124.52L334.25 124.35L335.69 123.31L336.15 122.99L337.14 122.29L338.32 121.46L338.58 121.28L340.03 120.28L340.53 119.93L341.47 119.29L342.77 118.4L342.92 118.31L344.36 117.34L345.07 116.87L345.81 116.39L347.25 115.44L347.39 115.34L348.69 114.51L349.77 113.81L350.14 113.58L351.58 112.66L352.19 112.28L353.03 111.76L354.47 110.86L354.65 110.75L355.92 109.98L357.16 109.22L357.36 109.1L358.81 108.24L359.72 107.69L360.25 107.39L361.69 106.54L362.34 106.16L363.14 105.71L364.58 104.88L365.01 104.64L366.03 104.06L367.47 103.25L367.73 103.11L368.92 102.46L370.36 101.66L370.52 101.58L371.81 100.89L373.25 100.11L373.37 100.05L374.69 99.35L376.14 98.59L376.28 98.52L377.58 97.85L379.03 97.11L379.27 96.99L380.47 96.39L381.92 95.66L382.33 95.46L383.36 94.95L384.81 94.25L385.47 93.93L386.25 93.55L386.25 92.4L386.25 90.87L386.25 89.34L386.25 87.81L386.25 86.52L384.81 87.2L383.51 87.81L383.36 87.88L381.92 88.57L380.47 89.28L380.35 89.34L379.03 89.99L377.58 90.7L377.25 90.87L376.14 91.43L374.69 92.16L374.24 92.4L373.25 92.91L371.81 93.66L371.29 93.93L370.36 94.42L368.92 95.19L368.41 95.46L367.47 95.96L366.03 96.75L365.59 96.99L364.58 97.54L363.14 98.35L362.84 98.52L361.69 99.16L360.25 99.98L360.14 100.05L358.81 100.81L357.49 101.58L357.36 101.65L355.92 102.5L354.9 103.11L354.47 103.36L353.03 104.23L352.36 104.64L351.58 105.11L350.14 106L349.87 106.16L348.69 106.89L347.42 107.69L347.25 107.8L345.81 108.72L345.02 109.22L344.36 109.65L342.92 110.58L342.66 110.75L341.47 111.53L340.34 112.28L340.03 112.49L338.58 113.46L338.06 113.81L337.14 114.44L335.83 115.34L335.69 115.43L334.25 116.43L333.63 116.87L332.81 117.45L331.46 118.4L331.36 118.47L329.92 119.51L329.33 119.93L328.47 120.56L327.24 121.46L327.03 121.62L325.58 122.69L325.18 122.99L324.14 123.77L323.15 124.52L322.69 124.87L321.25 125.97L321.15 126.05L319.81 127.09L319.18 127.58L318.36 128.23L317.25 129.11L316.92 129.37L315.47 130.53L315.34 130.64L314.03 131.7L313.46 132.17L312.58 132.89L311.61 133.7L311.14 134.09L309.78 135.23L309.69 135.3L308.25 136.53L307.98 136.76L306.81 137.77L306.21 138.29L305.36 139.03L304.46 139.82L303.92 140.3L302.74 141.35L302.47 141.59L301.04 142.88L301.03 142.89L299.58 144.2L299.37 144.4L298.14 145.54L297.71 145.93L296.69 146.89L296.08 147.46L295.25 148.25L294.47 148.99L293.81 149.64L292.89 150.52L292.36 151.04L291.32 152.05L290.92 152.45L289.78 153.58L289.47 153.89L288.26 155.11L288.03 155.34L286.75 156.64L286.58 156.82L285.27 158.17L285.14 158.31L283.81 159.7L283.69 159.82L282.36 161.23L282.25 161.35L280.94 162.76L280.81 162.9L279.53 164.29L279.36 164.47L278.14 165.82L277.92 166.07L276.77 167.35L276.47 167.68L275.41 168.88L275.03 169.32L274.08 170.41L273.58 170.98L272.76 171.94L272.14 172.66L271.46 173.47L270.69 174.37L270.17 175L269.25 176.1L268.9 176.53L267.81 177.86L267.65 178.06L266.41 179.59L266.36 179.65L265.19 181.12L264.92 181.46L263.98 182.64L263.47 183.3L262.79 184.17L262.03 185.17L261.62 185.7L260.58 187.07L260.46 187.23L259.31 188.76L259.14 188.99L258.18 190.29L257.69 190.96L257.06 191.82L256.25 192.95L255.96 193.35L254.87 194.88L254.81 194.98L253.8 196.41L253.36 197.04L252.74 197.94L251.92 199.14L251.69 199.47L250.66 201L250.47 201.27L249.64 202.53L249.03 203.45L248.63 204.06L247.63 205.59L247.58 205.67L246.65 207.12L246.14 207.93L245.68 208.65L244.73 210.18L244.69 210.23L243.78 211.71L243.25 212.58L242.85 213.24L241.94 214.77L241.81 214.98L241.03 216.3L240.36 217.44L240.13 217.83L239.25 219.35L238.92 219.94L238.38 220.88L237.52 222.41L237.47 222.51L236.68 223.94L236.03 225.13L235.84 225.47L235.02 227L234.58 227.82L234.2 228.53L233.4 230.06L233.14 230.57L232.61 231.59L231.83 233.12L231.7 233.4L231.06 234.65L230.31 236.18L230.25 236.3L229.56 237.71L228.83 239.24L228.81 239.28L228.1 240.77L227.39 242.3L227.36 242.36L226.68 243.83L225.99 245.36L225.92 245.52L225.31 246.89L224.64 248.42L224.47 248.79L223.97 249.95L223.32 251.48L223.03 252.18L222.68 253.01L222.05 254.54L221.58 255.68L221.43 256.07L220.82 257.59L220.22 259.12L220.14 259.32L219.62 260.65L219.04 262.18L218.7 263.11L218.47 263.71L217.91 265.24L217.36 266.77L217.25 267.07L216.81 268.3L216.28 269.83L215.81 271.21L215.76 271.36L215.24 272.89L214.74 274.42L214.36 275.57L214.24 275.95L213.75 277.48L213.28 279.01L212.92 280.19L212.81 280.54L212.35 282.07L211.9 283.6L211.47 285.09L211.46 285.13L211.03 286.66L210.61 288.19L210.2 289.72L210.03 290.35L209.79 291.25L209.4 292.78L209.01 294.3L208.63 295.83L208.58 296.04L208.27 297.36L207.91 298.89L207.56 300.42L207.21 301.95L207.14 302.3L206.88 303.48L206.56 305.01L206.24 306.54L205.94 308.07L205.7 309.31L205.64 309.6L205.35 311.13L205.07 312.66L204.79 314.19L204.53 315.72L204.28 317.25L204.25 317.41L204.03 318.78L203.79 320.31L203.56 321.84L203.34 323.37L203.13 324.9L202.92 326.43L202.81 327.35L202.73 327.96L202.54 329.49L202.36 331.02L202.19 332.54L202.03 334.07L201.88 335.6L201.73 337.13L201.59 338.66L201.47 340.19L201.36 341.53L201.35 341.72Z"/>
<path opacity=".8" fill="#b6d8e8" stroke="#b6d8e8" d="M208.58 341.72L210.03 341.72L211.47 341.72L212.92 341.72L214.36 341.72L215.81 341.72L216.26 341.72L216.38 340.19L216.52 338.66L216.66 337.13L216.81 335.6L216.97 334.07L217.13 332.54L217.25 331.52L217.31 331.02L217.5 329.49L217.7 327.96L217.91 326.43L218.12 324.9L218.34 323.37L218.57 321.84L218.7 321L218.81 320.31L219.06 318.78L219.32 317.25L219.59 315.72L219.86 314.19L220.14 312.66L220.14 312.66L220.44 311.13L220.75 309.6L221.06 308.07L221.37 306.54L221.58 305.55L221.7 305.01L222.05 303.48L222.4 301.95L222.75 300.42L223.03 299.25L223.12 298.89L223.5 297.36L223.89 295.83L224.28 294.3L224.47 293.54L224.68 292.78L225.1 291.25L225.52 289.72L225.92 288.28L225.95 288.19L226.4 286.66L226.85 285.13L227.3 283.6L227.36 283.4L227.78 282.07L228.26 280.54L228.75 279.01L228.81 278.82L229.25 277.48L229.77 275.95L230.25 274.49L230.28 274.42L230.82 272.89L231.35 271.36L231.7 270.39L231.9 269.83L232.47 268.3L233.03 266.77L233.14 266.48L233.62 265.24L234.21 263.71L234.58 262.74L234.81 262.18L235.42 260.65L236.03 259.14L236.03 259.12L236.68 257.59L237.31 256.07L237.47 255.69L237.97 254.54L238.63 253.01L238.92 252.35L239.31 251.48L240 249.95L240.36 249.13L240.69 248.42L241.4 246.89L241.81 246.02L242.12 245.36L242.85 243.83L243.25 243L243.59 242.3L244.35 240.77L244.69 240.06L245.11 239.24L245.89 237.71L246.14 237.21L246.68 236.18L247.47 234.65L247.58 234.43L248.29 233.12L249.03 231.73L249.1 231.59L249.94 230.06L250.47 229.1L250.79 228.53L251.65 227L251.92 226.52L252.52 225.47L253.36 224L253.4 223.94L254.3 222.41L254.81 221.56L255.21 220.88L256.13 219.35L256.25 219.15L257.07 217.83L257.69 216.8L258.01 216.3L258.97 214.77L259.14 214.5L259.95 213.24L260.58 212.25L260.94 211.71L261.93 210.18L262.03 210.03L262.95 208.65L263.47 207.87L263.98 207.12L264.92 205.74L265.02 205.59L266.08 204.06L266.36 203.65L267.15 202.53L267.81 201.6L268.24 201L269.25 199.58L269.33 199.47L270.45 197.94L270.69 197.61L271.59 196.41L272.14 195.67L272.73 194.88L273.58 193.75L273.89 193.35L275.03 191.86L275.06 191.82L276.26 190.29L276.47 190.02L277.47 188.76L277.92 188.2L278.69 187.23L279.36 186.41L279.94 185.7L280.81 184.64L281.19 184.17L282.25 182.9L282.46 182.64L283.69 181.18L283.75 181.12L285.06 179.59L285.14 179.5L286.39 178.06L286.58 177.84L287.74 176.53L288.03 176.2L289.11 175L289.47 174.59L290.49 173.47L290.92 173L291.89 171.94L292.36 171.43L293.31 170.41L293.81 169.88L294.75 168.88L295.25 168.35L296.21 167.35L296.69 166.85L297.69 165.82L298.14 165.36L299.19 164.29L299.58 163.89L300.71 162.76L301.03 162.45L302.26 161.23L302.47 161.02L303.82 159.7L303.92 159.61L305.36 158.21L305.41 158.17L306.81 156.84L307.02 156.64L308.25 155.49L308.66 155.11L309.69 154.15L310.32 153.58L311.14 152.83L312 152.05L312.58 151.53L313.7 150.52L314.03 150.23L315.43 148.99L315.47 148.95L316.92 147.7L317.19 147.46L318.36 146.46L318.98 145.93L319.81 145.24L320.79 144.4L321.25 144.02L322.62 142.88L322.69 142.82L324.14 141.64L324.49 141.35L325.58 140.47L326.39 139.82L327.03 139.31L328.32 138.29L328.47 138.16L329.92 137.04L330.28 136.76L331.36 135.93L332.27 135.23L332.81 134.82L334.25 133.72L334.28 133.7L335.69 132.66L336.35 132.17L337.14 131.59L338.43 130.64L338.58 130.53L340.03 129.5L340.57 129.11L341.47 128.47L342.73 127.58L342.92 127.45L344.36 126.45L344.93 126.05L345.81 125.46L347.17 124.52L347.25 124.46L348.69 123.5L349.46 122.99L350.14 122.54L351.58 121.59L351.78 121.46L353.03 120.66L354.15 119.93L354.47 119.72L355.92 118.81L356.56 118.4L357.36 117.91L358.81 117.01L359.02 116.87L360.25 116.13L361.53 115.34L361.69 115.24L363.14 114.39L364.09 113.81L364.58 113.53L366.03 112.68L366.71 112.28L367.47 111.85L368.92 111.02L369.38 110.75L370.36 110.21L371.81 109.39L372.11 109.22L373.25 108.6L374.69 107.81L374.9 107.69L376.14 107.04L377.58 106.26L377.76 106.16L379.03 105.51L380.47 104.74L380.68 104.64L381.92 104.01L383.36 103.27L383.68 103.11L384.81 102.55L386.25 101.83L386.25 101.58L386.25 100.05L386.25 98.52L386.25 96.99L386.25 95.46L386.25 93.93L386.25 93.55L385.47 93.93L384.81 94.25L383.36 94.95L382.33 95.46L381.92 95.66L380.47 96.39L379.27 96.99L379.03 97.11L377.58 97.85L376.28 98.52L376.14 98.59L374.69 99.35L373.37 100.05L373.25 100.11L371.81 100.89L370.52 101.58L370.36 101.66L368.92 102.46L367.73 103.11L367.47 103.25L366.03 104.06L365.01 104.64L364.58 104.88L363.14 105.71L362.34 106.16L361.69 106.54L360.25 107.39L359.72 107.69L358.81 108.24L357.36 109.1L357.16 109.22L355.92 109.98L354.65 110.75L354.47 110.86L353.03 111.76L352.19 112.28L351.58 112.66L350.14 113.58L349.77 113.81L348.69 114.51L347.39 115.34L347.25 115.44L345.81 116.39L345.07 116.87L344.36 117.34L342.92 118.31L342.77 118.4L341.47 119.29L340.53 119.93L340.03 120.28L338.58 121.28L338.32 121.46L337.14 122.29L336.15 122.99L335.69 123.31L334.25 124.35L334.01 124.52L332.81 125.4L331.91 126.05L331.36 126.46L329.92 127.52L329.84 127.58L328.47 128.61L327.81 129.11L327.03 129.71L325.81 130.64L325.58 130.81L324.14 131.93L323.84 132.17L322.69 133.07L321.9 133.7L321.25 134.22L319.99 135.23L319.81 135.37L318.36 136.55L318.11 136.76L316.92 137.74L316.26 138.29L315.47 138.94L314.43 139.82L314.03 140.16L312.63 141.35L312.58 141.39L311.14 142.63L310.86 142.88L309.69 143.9L309.11 144.4L308.25 145.17L307.39 145.93L306.81 146.46L305.7 147.46L305.36 147.77L304.02 148.99L303.92 149.09L302.47 150.43L302.37 150.52L301.03 151.79L300.75 152.05L299.58 153.16L299.14 153.58L298.14 154.55L297.56 155.11L296.69 155.96L296 156.64L295.25 157.39L294.46 158.17L293.81 158.83L292.95 159.7L292.36 160.3L291.45 161.23L290.92 161.78L289.97 162.76L289.47 163.28L288.51 164.29L288.03 164.8L287.07 165.82L286.58 166.35L285.66 167.35L285.14 167.91L284.25 168.88L283.69 169.5L282.87 170.41L282.25 171.1L281.51 171.94L280.81 172.73L280.16 173.47L279.36 174.39L278.83 175L277.92 176.06L277.52 176.53L276.47 177.77L276.23 178.06L275.03 179.49L274.95 179.59L273.69 181.12L273.58 181.25L272.45 182.64L272.14 183.03L271.22 184.17L270.69 184.84L270.01 185.7L269.25 186.67L268.81 187.23L267.81 188.53L267.63 188.76L266.46 190.29L266.36 190.43L265.32 191.82L264.92 192.36L264.18 193.35L263.47 194.32L263.06 194.88L262.03 196.3L261.95 196.41L260.86 197.94L260.58 198.33L259.79 199.47L259.14 200.4L258.72 201L257.69 202.49L257.67 202.53L256.64 204.06L256.25 204.63L255.62 205.59L254.81 206.81L254.61 207.12L253.61 208.65L253.36 209.03L252.63 210.18L251.92 211.3L251.66 211.71L250.7 213.24L250.47 213.61L249.76 214.77L249.03 215.97L248.83 216.3L247.91 217.83L247.58 218.38L247.01 219.35L246.14 220.83L246.11 220.88L245.23 222.41L244.69 223.35L244.36 223.94L243.51 225.47L243.25 225.93L242.66 227L241.82 228.53L241.81 228.57L241.01 230.06L240.36 231.27L240.19 231.59L239.4 233.12L238.92 234.05L238.61 234.65L237.83 236.18L237.47 236.9L237.07 237.71L236.32 239.24L236.03 239.83L235.57 240.77L234.84 242.3L234.58 242.84L234.12 243.83L233.41 245.36L233.14 245.95L232.71 246.89L232.02 248.42L231.7 249.15L231.35 249.95L230.68 251.48L230.25 252.47L230.02 253.01L229.38 254.54L228.81 255.9L228.74 256.07L228.12 257.59L227.5 259.12L227.36 259.46L226.9 260.65L226.3 262.18L225.92 263.17L225.71 263.71L225.14 265.24L224.57 266.77L224.47 267.04L224.02 268.3L223.47 269.83L223.03 271.09L222.93 271.36L222.41 272.89L221.9 274.42L221.58 275.35L221.39 275.95L220.89 277.48L220.4 279.01L220.14 279.84L219.92 280.54L219.46 282.07L219 283.6L218.7 284.62L218.55 285.13L218.11 286.66L217.68 288.19L217.25 289.72L217.25 289.72L216.84 291.25L216.44 292.78L216.04 294.3L215.81 295.24L215.66 295.83L215.28 297.36L214.92 298.89L214.56 300.42L214.36 301.27L214.21 301.95L213.87 303.48L213.54 305.01L213.22 306.54L212.92 307.98L212.9 308.07L212.6 309.6L212.3 311.13L212.02 312.66L211.74 314.19L211.47 315.68L211.47 315.72L211.21 317.25L210.96 318.78L210.72 320.31L210.48 321.84L210.25 323.37L210.03 324.9L210.03 324.94L209.83 326.43L209.63 327.96L209.44 329.49L209.26 331.02L209.08 332.54L208.92 334.07L208.76 335.6L208.61 337.13L208.58 337.39L208.47 338.66L208.34 340.19L208.22 341.72Z"/>
<path opacity=".8" fill="#4d99c6" stroke="#4d99c6" d="M217.25 341.72L218.7 341.72L220.14 341.72L221.58 341.72L223.03 341.72L224.47 341.72L225.92 341.72L227.36 341.72L228.81 341.72L229.41 341.72L229.55 340.19L229.69 338.66L229.83 337.13L229.99 335.6L230.15 334.07L230.25 333.15L230.32 332.54L230.52 331.02L230.72 329.49L230.92 327.96L231.14 326.43L231.35 324.9L231.58 323.37L231.7 322.6L231.82 321.84L232.08 320.31L232.34 318.78L232.61 317.25L232.88 315.72L233.14 314.3L233.16 314.19L233.47 312.66L233.78 311.13L234.1 309.6L234.41 308.07L234.58 307.26L234.75 306.54L235.1 305.01L235.46 303.48L235.81 301.95L236.03 301.04L236.18 300.42L236.58 298.89L236.97 297.36L237.36 295.83L237.47 295.41L237.78 294.3L238.21 292.78L238.64 291.25L238.92 290.24L239.07 289.72L239.54 288.19L239.99 286.66L240.36 285.43L240.46 285.13L240.95 283.6L241.44 282.07L241.81 280.93L241.94 280.54L242.46 279.01L242.98 277.48L243.25 276.68L243.51 275.95L244.06 274.42L244.61 272.89L244.69 272.64L245.18 271.36L245.76 269.83L246.14 268.8L246.34 268.3L246.94 266.77L247.54 265.24L247.58 265.12L248.17 263.71L248.79 262.18L249.03 261.61L249.44 260.65L250.09 259.12L250.47 258.22L250.75 257.59L251.43 256.07L251.92 254.95L252.11 254.54L252.81 253.01L253.36 251.79L253.51 251.48L254.24 249.95L254.81 248.74L254.96 248.42L255.72 246.89L256.25 245.78L256.46 245.36L257.24 243.83L257.69 242.91L258.01 242.3L258.81 240.77L259.14 240.12L259.61 239.24L260.42 237.71L260.58 237.4L261.26 236.18L262.03 234.75L262.09 234.65L262.95 233.12L263.47 232.18L263.81 231.59L264.69 230.06L264.92 229.67L265.59 228.53L266.36 227.21L266.48 227L267.41 225.47L267.81 224.81L268.34 223.94L269.25 222.46L269.28 222.41L270.25 220.88L270.69 220.17L271.22 219.35L272.14 217.91L272.2 217.83L273.21 216.3L273.58 215.72L274.23 214.77L275.03 213.56L275.25 213.24L276.29 211.71L276.47 211.44L277.36 210.18L277.92 209.37L278.43 208.65L279.36 207.33L279.51 207.12L280.62 205.59L280.81 205.33L281.75 204.06L282.25 203.37L282.88 202.53L283.69 201.44L284.03 201L285.14 199.54L285.19 199.47L286.38 197.94L286.58 197.68L287.59 196.41L288.03 195.85L288.81 194.88L289.47 194.05L290.04 193.35L290.92 192.28L291.29 191.82L292.36 190.53L292.56 190.29L293.81 188.8L293.84 188.76L295.15 187.23L295.25 187.12L296.48 185.7L296.69 185.46L297.82 184.17L298.14 183.82L299.19 182.64L299.58 182.2L300.57 181.12L301.03 180.61L301.97 179.59L302.47 179.05L303.39 178.06L303.92 177.5L304.84 176.53L305.36 175.98L306.3 175L306.81 174.47L307.78 173.47L308.25 172.99L309.29 171.94L309.69 171.53L310.81 170.41L311.14 170.09L312.36 168.88L312.58 168.66L313.93 167.35L314.03 167.26L315.47 165.87L315.53 165.82L316.92 164.51L317.15 164.29L318.36 163.17L318.8 162.76L319.81 161.84L320.47 161.23L321.25 160.53L322.17 159.7L322.69 159.23L323.88 158.17L324.14 157.95L325.58 156.68L325.63 156.64L327.03 155.44L327.41 155.11L328.47 154.22L329.22 153.58L329.92 153L331.05 152.05L331.36 151.79L332.81 150.6L332.9 150.52L334.25 149.44L334.8 148.99L335.69 148.29L336.73 147.46L337.14 147.14L338.58 146.01L338.67 145.93L340.03 144.9L340.67 144.4L341.47 143.8L342.69 142.88L342.92 142.71L344.36 141.64L344.75 141.35L345.81 140.58L346.85 139.82L347.25 139.53L348.69 138.49L348.98 138.29L350.14 137.48L351.15 136.76L351.58 136.46L353.03 135.46L353.36 135.23L354.47 134.48L355.61 133.7L355.92 133.49L357.36 132.54L357.91 132.17L358.81 131.59L360.24 130.64L360.25 130.63L361.69 129.72L362.63 129.11L363.14 128.79L364.58 127.89L365.07 127.58L366.03 126.99L367.47 126.09L367.54 126.05L368.92 125.23L370.08 124.52L370.36 124.36L371.81 123.51L372.68 122.99L373.25 122.66L374.69 121.83L375.33 121.46L376.14 121.01L377.58 120.19L378.03 119.93L379.03 119.39L380.47 118.59L380.8 118.4L381.92 117.81L383.36 117.02L383.64 116.87L384.81 116.27L386.25 115.5L386.25 115.34L386.25 113.81L386.25 112.28L386.25 110.75L386.25 109.22L386.25 107.69L386.25 106.16L386.25 104.64L386.25 103.11L386.25 101.83L384.81 102.55L383.68 103.11L383.36 103.27L381.92 104.01L380.68 104.64L380.47 104.74L379.03 105.51L377.76 106.16L377.58 106.26L376.14 107.04L374.9 107.69L374.69 107.81L373.25 108.6L372.11 109.22L371.81 109.39L370.36 110.21L369.38 110.75L368.92 111.02L367.47 111.85L366.71 112.28L366.03 112.68L364.58 113.53L364.09 113.81L363.14 114.39L361.69 115.24L361.53 115.34L360.25 116.13L359.02 116.87L358.81 117.01L357.36 117.91L356.56 118.4L355.92 118.81L354.47 119.72L354.15 119.93L353.03 120.66L351.78 121.46L351.58 121.59L350.14 122.54L349.46 122.99L348.69 123.5L347.25 124.46L347.17 124.52L345.81 125.46L344.93 126.05L344.36 126.45L342.92 127.45L342.73 127.58L341.47 128.47L340.57 129.11L340.03 129.5L338.58 130.53L338.43 130.64L337.14 131.59L336.35 132.17L335.69 132.66L334.28 133.7L334.25 133.72L332.81 134.82L332.27 135.23L331.36 135.93L330.28 136.76L329.92 137.04L328.47 138.16L328.32 138.29L327.03 139.31L326.39 139.82L325.58 140.47L324.49 141.35L324.14 141.64L322.69 142.82L322.62 142.88L321.25 144.02L320.79 144.4L319.81 145.24L318.98 145.93L318.36 146.46L317.19 147.46L316.92 147.7L315.47 148.95L315.43 148.99L314.03 150.23L313.7 150.52L312.58 151.53L312 152.05L311.14 152.83L310.32 153.58L309.69 154.15L308.66 155.11L308.25 155.49L307.02 156.64L306.81 156.84L305.41 158.17L305.36 158.21L303.92 159.61L303.82 159.7L302.47 161.02L302.26 161.23L301.03 162.45L300.71 162.76L299.58 163.89L299.19 164.29L298.14 165.36L297.69 165.82L296.69 166.85L296.21 167.35L295.25 168.35L294.75 168.88L293.81 169.88L293.31 170.41L292.36 171.43L291.89 171.94L290.92 173L290.49 173.47L289.47 174.59L289.11 175L288.03 176.2L287.74 176.53L286.58 177.84L286.39 178.06L285.14 179.5L285.06 179.59L283.75 181.12L283.69 181.18L282.46 182.64L282.25 182.9L281.19 184.17L280.81 184.64L279.94 185.7L279.36 186.41L278.69 187.23L277.92 188.2L277.47 188.76L276.47 190.02L276.26 190.29L275.06 191.82L275.03 191.86L273.89 193.35L273.58 193.75L272.73 194.88L272.14 195.67L271.59 196.41L270.69 197.61L270.45 197.94L269.33 199.47L269.25 199.58L268.24 201L267.81 201.6L267.15 202.53L266.36 203.65L266.08 204.06L265.02 205.59L264.92 205.74L263.98 207.12L263.47 207.87L262.95 208.65L262.03 210.03L261.93 210.18L260.94 211.71L260.58 212.25L259.95 213.24L259.14 214.5L258.97 214.77L258.01 216.3L257.69 216.8L257.07 217.83L256.25 219.15L256.13 219.35L255.21 220.88L254.81 221.56L254.3 222.41L253.4 223.94L253.36 224L252.52 225.47L251.92 226.52L251.65 227L250.79 228.53L250.47 229.1L249.94 230.06L249.1 231.59L249.03 231.73L248.29 233.12L247.58 234.43L247.47 234.65L246.68 236.18L246.14 237.21L245.89 237.71L245.11 239.24L244.69 240.06L244.35 240.77L243.59 242.3L243.25 243L242.85 243.83L242.12 245.36L241.81 246.02L241.4 246.89L240.69 248.42L240.36 249.13L240 249.95L239.31 251.48L238.92 252.35L238.63 253.01L237.97 254.54L237.47 255.69L237.31 256.07L236.68 257.59L236.03 259.12L236.03 259.14L235.42 260.65L234.81 262.18L234.58 262.74L234.21 263.71L233.62 265.24L233.14 266.48L233.03 266.77L232.47 268.3L231.9 269.83L231.7 270.39L231.35 271.36L230.82 272.89L230.28 274.42L230.25 274.49L229.77 275.95L229.25 277.48L228.81 278.82L228.75 279.01L228.26 280.54L227.78 282.07L227.36 283.4L227.3 283.6L226.85 285.13L226.4 286.66L225.95 288.19L225.92 288.28L225.52 289.72L225.1 291.25L224.68 292.78L224.47 293.54L224.28 294.3L223.89 295.83L223.5 297.36L223.12 298.89L223.03 299.25L222.75 300.42L222.4 301.95L222.05 303.48L221.7 305.01L221.58 305.55L221.37 306.54L221.06 308.07L220.75 309.6L220.44 311.13L220.14 312.66L220.14 312.66L219.86 314.19L219.59 315.72L219.32 317.25L219.06 318.78L218.81 320.31L218.7 321L218.57 321.84L218.34 323.37L218.12 324.9L217.91 326.43L217.7 327.96L217.5 329.49L217.31 331.02L217.25 331.52L217.13 332.54L216.97 334.07L216.81 335.6L216.66 337.13L216.52 338.66L216.38 340.19L216.26 341.72Z"/>
<path opacity=".8" fill="#1a5797" stroke="#1a5797" d="M230.25 341.72L231.7 341.72L233.14 341.72L234.58 341.72L236.03 341.72L237.47 341.72L238.92 341.72L240.36 341.72L241.81 341.72L243.25 341.72L244.69 341.72L246.14 341.72L247.58 341.72L249.03 341.72L250.47 341.72L251.92 341.72L253.36 341.72L254.81 341.72L256.25 341.72L257.69 341.72L259.14 341.72L260.58 341.72L262.03 341.72L263.47 341.72L264.92 341.72L266.36 341.72L267.81 341.72L269.25 341.72L270.69 341.72L272.14 341.72L273.58 341.72L275.03 341.72L276.47 341.72L277.92 341.72L279.36 341.72L280.81 341.72L282.25 341.72L283.69 341.72L285.14 341.72L286.58 341.72L288.03 341.72L289.47 341.72L290.92 341.72L292.36 341.72L293.81 341.72L295.25 341.72L296.69 341.72L298.14 341.72L299.58 341.72L301.03 341.72L302.47 341.72L303.92 341.72L305.36 341.72L306.81 341.72L308.25 341.72L309.69 341.72L311.14 341.72L312.58 341.72L314.03 341.72L315.47 341.72L316.92 341.72L318.36 341.72L319.81 341.72L321.25 341.72L322.69 341.72L324.14 341.72L325.58 341.72L327.03 341.72L328.47 341.72L329.92 341.72L331.36 341.72L332.81 341.72L334.25 341.72L335.69 341.72L337.14 341.72L338.58 341.72L340.03 341.72L341.47 341.72L342.92 341.72L344.36 341.72L345.81 341.72L347.25 341.72L348.69 341.72L350.14 341.72L351.58 341.72L353.03 341.72L354.47 341.72L355.92 341.72L357.36 341.72L358.81 341.72L360.25 341.72L361.69 341.72L363.14 341.72L364.58 341.72L366.03 341.72L367.47 341.72L368.92 341.72L370.36 341.72L371.81 341.72L373.25 341.72L374.69 341.72L376.14 341.72L377.58 341.72L379.03 341.72L380.47 341.72L381.92 341.72L383.36 341.72L384.81 341.72L386.25 341.72L386.25 340.19L386.25 338.66L386.25 337.13L386.25 335.6L386.25 334.07L386.25 332.54L386.25 331.02L386.25 329.49L386.25 327.96L386.25 326.43L386.25 324.9L386.25 323.37L386.25 321.84L386.25 320.31L386.25 318.78L386.25 317.25L386.25 315.72L386.25 314.19L386.25 312.66L386.25 311.13L386.25 309.6L386.25 308.07L386.25 306.54L386.25 305.01L386.25 303.48L386.25 301.95L386.25 300.42L386.25 298.89L386.25 297.36L386.25 295.83L386.25 294.3L386.25 292.78L386.25 291.25L386.25 289.72L386.25 288.19L386.25 286.66L386.25 285.13L386.25 283.6L386.25 282.07L386.25 280.54L386.25 279.01L386.25 277.48L386.25 275.95L386.25 274.42L386.25 272.89L386.25 271.36L386.25 269.83L386.25 268.3L386.25 266.77L386.25 265.24L386.25 263.71L386.25 262.18L386.25 260.65L386.25 259.12L386.25 257.59L386.25 256.07L386.25 254.54L386.25 253.01L386.25 251.48L386.25 249.95L386.25 248.42L386.25 246.89L386.25 245.36L386.25 243.83L386.25 242.3L386.25 240.77L386.25 239.24L386.25 237.71L386.25 236.18L386.25 234.65L386.25 233.12L386.25 231.59L386.25 230.06L386.25 228.53L386.25 227L386.25 225.47L386.25 223.94L386.25 222.41L386.25 220.88L386.25 219.35L386.25 217.83L386.25 216.3L386.25 214.77L386.25 213.24L386.25 211.71L386.25 210.18L386.25 208.65L386.25 207.12L386.25 205.59L386.25 204.06L386.25 202.53L386.25 201L386.25 199.47L386.25 197.94L386.25 196.41L386.25 194.88L386.25 193.35L386.25 191.82L386.25 190.29L386.25 188.76L386.25 187.23L386.25 185.7L386.25 184.17L386.25 182.64L386.25 181.12L386.25 179.59L386.25 178.06L386.25 176.53L386.25 175L386.25 173.47L386.25 171.94L386.25 170.41L386.25 168.88L386.25 167.35L386.25 165.82L386.25 164.29L386.25 162.76L386.25 161.23L386.25 159.7L386.25 158.17L386.25 156.64L386.25 155.11L386.25 153.58L386.25 152.05L386.25 150.52L386.25 148.99L386.25 147.46L386.25 145.93L386.25 144.4L386.25 142.88L386.25 141.35L386.25 139.82L386.25 138.29L386.25 136.76L386.25 135.23L386.25 133.7L386.25 132.17L386.25 130.64L386.25 129.11L386.25 127.58L386.25 126.05L386.25 124.52L386.25 122.99L386.25 121.46L386.25 119.93L386.25 118.4L386.25 116.87L386.25 115.5L384.81 116.27L383.64 116.87L383.36 117.02L381.92 117.81L380.8 118.4L380.47 118.59L379.03 119.39L378.03 119.93L377.58 120.19L376.14 121.01L375.33 121.46L374.69 121.83L373.25 122.66L372.68 122.99L371.81 123.51L370.36 124.36L370.08 124.52L368.92 125.23L367.54 126.05L367.47 126.09L366.03 126.99L365.07 127.58L364.58 127.89L363.14 128.79L362.63 129.11L361.69 129.72L360.25 130.63L360.24 130.64L358.81 131.59L357.91 132.17L357.36 132.54L355.92 133.49L355.61 133.7L354.47 134.48L353.36 135.23L353.03 135.46L351.58 136.46L351.15 136.76L350.14 137.48L348.98 138.29L348.69 138.49L347.25 139.53L346.85 139.82L345.81 140.58L344.75 141.35L344.36 141.64L342.92 142.71L342.69 142.88L341.47 143.8L340.67 144.4L340.03 144.9L338.67 145.93L338.58 146.01L337.14 147.14L336.73 147.46L335.69 148.29L334.8 148.99L334.25 149.44L332.9 150.52L332.81 150.6L331.36 151.79L331.05 152.05L329.92 153L329.22 153.58L328.47 154.22L327.41 155.11L327.03 155.44L325.63 156.64L325.58 156.68L324.14 157.95L323.88 158.17L322.69 159.23L322.17 159.7L321.25 160.53L320.47 161.23L319.81 161.84L318.8 162.76L318.36 163.17L317.15 164.29L316.92 164.51L315.53 165.82L315.47 165.87L314.03 167.26L313.93 167.35L312.58 168.66L312.36 168.88L311.14 170.09L310.81 170.41L309.69 171.53L309.29 171.94L308.25 172.99L307.78 173.47L306.81 174.47L306.3 175L305.36 175.98L304.84 176.53L303.92 177.5L303.39 178.06L302.47 179.05L301.97 179.59L301.03 180.61L300.57 181.12L299.58 182.2L299.19 182.64L298.14 183.82L297.82 184.17L296.69 185.46L296.48 185.7L295.25 187.12L295.15 187.23L293.84 188.76L293.81 188.8L292.56 190.29L292.36 190.53L291.29 191.82L290.92 192.28L290.04 193.35L289.47 194.05L288.81 194.88L288.03 195.85L287.59 196.41L286.58 197.68L286.38 197.94L285.19 199.47L285.14 199.54L284.03 201L283.69 201.44L282.88 202.53L282.25 203.37L281.75 204.06L280.81 205.33L280.62 205.59L279.51 207.12L279.36 207.33L278.43 208.65L277.92 209.37L277.36 210.18L276.47 211.44L276.29 211.71L275.25 213.24L275.03 213.56L274.23 214.77L273.58 215.72L273.21 216.3L272.2 217.83L272.14 217.91L271.22 219.35L270.69 220.17L270.25 220.88L269.28 222.41L269.25 222.46L268.34 223.94L267.81 224.81L267.41 225.47L266.48 227L266.36 227.21L265.59 228.53L264.92 229.67L264.69 230.06L263.81 231.59L263.47 232.18L262.95 233.12L262.09 234.65L262.03 234.75L261.26 236.18L260.58 237.4L260.42 237.71L259.61 239.24L259.14 240.12L258.81 240.77L258.01 242.3L257.69 242.91L257.24 243.83L256.46 245.36L256.25 245.78L255.72 246.89L254.96 248.42L254.81 248.74L254.24 249.95L253.51 251.48L253.36 251.79L252.81 253.01L252.11 254.54L251.92 254.95L251.43 256.07L250.75 257.59L250.47 258.22L250.09 259.12L249.44 260.65L249.03 261.61L248.79 262.18L248.17 263.71L247.58 265.12L247.54 265.24L246.94 266.77L246.34 268.3L246.14 268.8L245.76 269.83L245.18 271.36L244.69 272.64L244.61 272.89L244.06 274.42L243.51 275.95L243.25 276.68L242.98 277.48L242.46 279.01L241.94 280.54L241.81 280.93L241.44 282.07L240.95 283.6L240.46 285.13L240.36 285.43L239.99 286.66L239.54 288.19L239.07 289.72L238.92 290.24L238.64 291.25L238.21 292.78L237.78 294.3L237.47 295.41L237.36 295.83L236.97 297.36L236.58 298.89L236.18 300.42L236.03 301.04L235.81 301.95L235.46 303.48L235.1 305.01L234.75 306.54L234.58 307.26L234.41 308.07L234.1 309.6L233.78 311.13L233.47 312.66L233.16 314.19L233.14 314.3L232.88 315.72L232.61 317.25L232.34 318.78L232.08 320.31L231.82 321.84L231.7 322.6L231.58 323.37L231.35 324.9L231.14 326.43L230.92 327.96L230.72 329.49L230.52 331.02L230.32 332.54L230.25 333.15L230.15 334.07L229.99 335.6L229.83 337.13L229.69 338.66L229.55 340.19L229.41 341.72Z"/>
</g>
<g stroke="#000" stroke-width="1.47">
<ellipse cx="159.21" cy="201.5" rx="4.167" ry="4.167" fill="#f00"/>
<ellipse cx="148.16" cy="103.6" rx="4.167" ry="4.167" fill="#f00"/>
<ellipse cx="324.33" cy="238.13" rx="4.167" ry="4.167" fill="#00f"/>
<ellipse cx="231.97" cy="125.57" rx="4.167" ry="4.167" fill="#f00"/>
<ellipse cx="289.82" cy="223.06" rx="4.167" ry="4.167" fill="#00f"/>
<ellipse cx="305.52" cy="186.47" rx="4.167" ry="4.167" fill="#00f"/>
<ellipse cx="325.08" cy="238.42" rx="4.167" ry="4.167" fill="#00f"/>
<ellipse cx="177.71" cy="162.46" rx="4.167" ry="4.167" fill="#f00"/>
<ellipse cx="321.04" cy="196.08" rx="4.167" ry="4.167" fill="#00f"/>
<ellipse cx="318.63" cy="239.46" rx="4.167" ry="4.167" fill="#00f"/>
<ellipse cx="329.18" cy="225.59" rx="4.167" ry="4.167" fill="#00f"/>
<ellipse cx="346.41" cy="264.29" rx="4.167" ry="4.167" fill="#00f"/>
<ellipse cx="386.25" cy="271.31" rx="4.167" ry="4.167" fill="#00f"/>
<ellipse cx="316.1" cy="226.13" rx="4.167" ry="4.167" fill="#00f"/>
<ellipse cx="125.92" cy="213.59" rx="4.167" ry="4.167" fill="#f00"/>
<ellipse cx="98.81" cy="120.62" rx="4.167" ry="4.167" fill="#f00"/>
<ellipse cx="276.95" cy="239.81" rx="4.167" ry="4.167" fill="#00f"/>
<ellipse cx="345.23" cy="219.57" rx="4.167" ry="4.167" fill="#00f"/>
<ellipse cx="215.81" cy="270.77" rx="4.167" ry="4.167" fill="#f00"/>
<ellipse cx="318.75" cy="268.12" rx="4.167" ry="4.167" fill="#00f"/>
<ellipse cx="112.31" cy="120.55" rx="4.167" ry="4.167" fill="#f00"/>
<ellipse cx="331.18" cy="212.77" rx="4.167" ry="4.167" fill="#00f"/>
<ellipse cx="126.19" cy="51.63" rx="4.167" ry="4.167" fill="#f00"/>
<ellipse cx="342.11" cy="292.86" rx="4.167" ry="4.167" fill="#00f"/>
<ellipse cx="208.65" cy="183.28" rx="4.167" ry="4.167" fill="#f00"/>
<ellipse cx="259.22" cy="251.91" rx="4.167" ry="4.167" fill="#00f"/>
<ellipse cx="265.7" cy="213.59" rx="4.167" ry="4.167" fill="#00f"/>
<ellipse cx="168.59" cy="143.42" rx="4.167" ry="4.167" fill="#f00"/>
<ellipse cx="311.33" cy="164.63" rx="4.167" ry="4.167" fill="#f00"/>
<ellipse cx="317.27" cy="154.72" rx="4.167" ry="4.167" fill="#00f"/>
<ellipse cx="319.74" cy="231.2" rx="4.167" ry="4.167" fill="#00f"/>
<ellipse cx="319.87" cy="226.46" rx="4.167" ry="4.167" fill="#00f"/>
<ellipse cx="254.77" cy="180.48" rx="4.167" ry="4.167" fill="#f00"/>
<ellipse cx="292.03" cy="331.19" rx="4.167" ry="4.167" fill="#00f"/>
<ellipse cx="129.73" cy="115.49" rx="4.167" ry="4.167" fill="#f00"/>
<ellipse cx="143.83" cy="46.74" rx="4.167" ry="4.167" fill="#f00"/>
<ellipse cx="248.96" cy="199.76" rx="4.167" ry="4.167" fill="#00f"/>
<ellipse cx="342.33" cy="288.35" rx="4.167" ry="4.167" fill="#00f"/>
<ellipse cx="253.32" cy="250.96" rx="4.167" ry="4.167" fill="#f00"/>
<ellipse cx="116.83" cy="232.45" rx="4.167" ry="4.167" fill="#f00"/>
<ellipse cx="160.32" cy="106.56" rx="4.167" ry="4.167" fill="#f00"/>
<ellipse cx="338.09" cy="264.75" rx="4.167" ry="4.167" fill="#00f"/>
<ellipse cx="146.7" cy="174.54" rx="4.167" ry="4.167" fill="#f00"/>
<ellipse cx="143.49" cy="180.01" rx="4.167" ry="4.167" fill="#f00"/>
<ellipse cx="185.94" cy="37.33" rx="4.167" ry="4.167" fill="#f00"/>
<ellipse cx="189.82" cy="140.3" rx="4.167" ry="4.167" fill="#f00"/>
<ellipse cx="226.41" cy="165.06" rx="4.167" ry="4.167" fill="#f00"/>
<ellipse cx="266.07" cy="341.72" rx="4.167" ry="4.167" fill="#00f"/>
<ellipse cx="181.17" cy="170.83" rx="4.167" ry="4.167" fill="#f00"/>
<ellipse cx="122.44" cy="131.95" rx="4.167" ry="4.167" fill="#f00"/>
<ellipse cx="190.1" cy="153.95" rx="4.167" ry="4.167" fill="#f00"/>
<ellipse cx="342.85" cy="246.32" rx="4.167" ry="4.167" fill="#00f"/>
<ellipse cx="159.35" cy="157.71" rx="4.167" ry="4.167" fill="#f00"/>
<ellipse cx="297.58" cy="237.32" rx="4.167" ry="4.167" fill="#00f"/>
<ellipse cx="327.96" cy="232.88" rx="4.167" ry="4.167" fill="#00f"/>
<ellipse cx="161.16" cy="116.65" rx="4.167" ry="4.167" fill="#f00"/>
<ellipse cx="212.17" cy="99.61" rx="4.167" ry="4.167" fill="#f00"/>
<ellipse cx="283.46" cy="289.35" rx="4.167" ry="4.167" fill="#00f"/>
<ellipse cx="366.19" cy="248.16" rx="4.167" ry="4.167" fill="#00f"/>
<ellipse cx="120.21" cy="114.4" rx="4.167" ry="4.167" fill="#f00"/>
<ellipse cx="179.55" cy="120.37" rx="4.167" ry="4.167" fill="#f00"/>
<ellipse cx="277.9" cy="295.22" rx="4.167" ry="4.167" fill="#00f"/>
<ellipse cx="253.84" cy="160.12" rx="4.167" ry="4.167" fill="#f00"/>
<ellipse cx="314.86" cy="217.74" rx="4.167" ry="4.167" fill="#00f"/>
<ellipse cx="224.12" cy="132.06" rx="4.167" ry="4.167" fill="#f00"/>
<ellipse cx="165.72" cy="181.52" rx="4.167" ry="4.167" fill="#f00"/>
<ellipse cx="203.13" cy="147.78" rx="4.167" ry="4.167" fill="#f00"/>
<ellipse cx="358.1" cy="240.07" rx="4.167" ry="4.167" fill="#00f"/>
<ellipse cx="201.67" cy="101.13" rx="4.167" ry="4.167" fill="#f00"/>
<ellipse cx="249.59" cy="259.77" rx="4.167" ry="4.167" fill="#00f"/>
<ellipse cx="376.94" cy="301.03" rx="4.167" ry="4.167" fill="#00f"/>
<ellipse cx="375.77" cy="205.8" rx="4.167" ry="4.167" fill="#00f"/>
<ellipse cx="250.6" cy="227.25" rx="4.167" ry="4.167" fill="#00f"/>
<ellipse cx="252.25" cy="124.44" rx="4.167" ry="4.167" fill="#f00"/>
<ellipse cx="141.32" cy="159.72" rx="4.167" ry="4.167" fill="#f00"/>
<ellipse cx="235.23" cy="169.6" rx="4.167" ry="4.167" fill="#f00"/>
<ellipse cx="382.13" cy="292.04" rx="4.167" ry="4.167" fill="#00f"/>
<ellipse cx="216.17" cy="251.81" rx="4.167" ry="4.167" fill="#f00"/>
<ellipse cx="282.8" cy="241.2" rx="4.167" ry="4.167" fill="#00f"/>
<ellipse cx="375.97" cy="277.17" rx="4.167" ry="4.167" fill="#00f"/>
</g>
<g stroke="#000" stroke-width="1.47" fill-opacity="0.2" stroke-opacity="0.2">
<ellipse cx="220.89" cy="109.14" rx="4.167" ry="4.167" fill="#f00"/>
<ellipse cx="134.58" cy="203.72" rx="4.167" ry="4.167" fill="#f00"/>
<ellipse cx="116.73" cy="101.33" rx="4.167" ry="4.167" fill="#f00"/>
<ellipse cx="308.38" cy="221.81" rx="4.167" ry="4.167" fill="#00f"/>
<ellipse cx="240.72" cy="273.85" rx="4.167" ry="4.167" fill="#00f"/>
<ellipse cx="323.31" cy="246.86" rx="4.167" ry="4.167" fill="#00f"/>
<ellipse cx="357.29" cy="178.67" rx="4.167" ry="4.167" fill="#00f"/>
<ellipse cx="272.88" cy="204.02" rx="4.167" ry="4.167" fill="#00f"/>
<ellipse cx="222.33" cy="162.66" rx="4.167" ry="4.167" fill="#f00"/>
<ellipse cx="175.73" cy="116.91" rx="4.167" ry="4.167" fill="#f00"/>
<ellipse cx="254.8" cy="241.01" rx="4.167" ry="4.167" fill="#00f"/>
<ellipse cx="294.56" cy="243.51" rx="4.167" ry="4.167" fill="#00f"/>
<ellipse cx="239.8" cy="233.09" rx="4.167" ry="4.167" fill="#00f"/>
<ellipse cx="295.06" cy="161.08" rx="4.167" ry="4.167" fill="#f00"/>
<ellipse cx="82" cy="135.99" rx="4.167" ry="4.167" fill="#f00"/>
<ellipse cx="332.74" cy="224.06" rx="4.167" ry="4.167" fill="#00f"/>
<ellipse cx="80.09" cy="128.3" rx="4.167" ry="4.167" fill="#f00"/>
<ellipse cx="109.27" cy="161.2" rx="4.167" ry="4.167" fill="#f00"/>
<ellipse cx="215.68" cy="239" rx="4.167" ry="4.167" fill="#00f"/>
<ellipse cx="230.8" cy="104.17" rx="4.167" ry="4.167" fill="#f00"/>
</g>
</g>
<g fill="#000">
<rect x="83.944" y="342.5" width="1.111" height="5"/>
<rect x="168.944" y="342.5" width="1.111" height="5"/>
<rect x="252.944" y="342.5" width="1.111" height="5"/>
<rect x="337.944" y="342.5" width="1.111" height="5"/>
<rect x="60.5" y="298.944" width="5" height="1.111"/>
<rect x="60.5" y="248.944" width="5" height="1.111"/>
<rect x="60.5" y="197.944" width="5" height="1.111"/>
<rect x="60.5" y="147.944" width="5" height="1.111"/>
<rect x="60.5" y="96.944" width="5" height="1.111"/>
<rect x="60.5" y="45.944" width="5" height="1.111"/>
<rect x="64.944" y="36.944" width="1.111" height="306.111"/>
<rect x="385.944" y="36.944" width="1.111" height="306.111"/>
<rect x="64.944" y="36.944" width="322.111" height="1.111"/>
<rect x="64.944" y="341.944" width="322.111" height="1.111"/>
</g>
<g clip-path="url(#c1)">
<g shape-rendering="crispEdges" stroke-width="1.2" stroke-linejoin="round">
<path opacity=".8" fill="#9d1227" stroke="#9d1227" d="M486.73 209.34L487.32 209.01L488.83 208.16L489.18 207.96L490.33 207.3L491.63 206.57L491.84 206.45L493.35 205.59L494.07 205.18L494.85 204.74L496.36 203.89L496.52 203.79L497.87 203.03L498.96 202.41L499.37 202.17L500.88 201.32L501.4 201.02L502.39 200.46L503.85 199.63L503.89 199.61L505.4 198.74L506.28 198.25L506.91 197.89L508.41 197.03L508.72 196.86L509.92 196.17L511.15 195.47L511.43 195.31L512.93 194.45L513.58 194.08L514.44 193.59L515.95 192.74L516.01 192.7L517.45 191.87L518.44 191.31L518.96 191.01L520.46 190.15L520.87 189.92L521.97 189.29L523.29 188.54L523.48 188.43L524.98 187.56L525.71 187.15L526.49 186.7L528 185.84L528.14 185.76L529.5 184.97L530.56 184.37L531.01 184.11L532.52 183.25L532.97 182.99L534.02 182.38L535.39 181.6L535.53 181.52L537.04 180.65L537.8 180.21L538.54 179.78L540.05 178.92L540.22 178.83L541.56 178.05L542.63 177.44L543.06 177.18L544.57 176.32L545.03 176.05L546.08 175.45L547.44 174.66L547.58 174.58L549.09 173.71L549.84 173.28L550.6 172.84L552.1 171.97L552.25 171.89L553.61 171.1L554.65 170.5L555.12 170.23L556.62 169.36L557.05 169.12L558.13 168.49L559.45 167.73L559.64 167.62L561.14 166.74L561.84 166.34L562.65 165.87L564.16 165L564.24 164.95L565.66 164.12L566.63 163.57L567.17 163.25L568.68 162.38L569.02 162.18L570.18 161.5L571.4 160.79L571.69 160.63L573.2 159.75L573.79 159.41L574.7 158.87L576.18 158.02L576.21 158L577.72 157.12L578.55 156.63L579.22 156.24L580.73 155.36L580.94 155.24L582.24 154.48L583.31 153.86L583.74 153.6L585.25 152.72L585.69 152.47L586.75 151.84L588.06 151.08L588.26 150.97L589.77 150.08L590.43 149.69L591.27 149.2L592.78 148.32L592.81 148.31L594.29 147.43L595.17 146.92L595.79 146.55L597.3 145.67L597.54 145.53L598.81 144.78L599.9 144.15L600.31 143.9L601.82 143.02L602.26 142.76L603.33 142.13L604.62 141.37L604.83 141.25L606.34 140.36L606.98 139.98L607.85 139.47L609.34 138.6L609.35 138.59L610.86 137.7L611.69 137.21L612.37 136.81L613.87 135.92L614.04 135.82L615.38 135.03L616.39 134.44L616.89 134.14L618.39 133.25L618.74 133.05L619.9 132.36L621.09 131.66L621.41 131.47L622.91 130.58L623.43 130.27L624.42 129.68L625.77 128.89L625.93 128.8L627.43 127.9L628.11 127.5L628.94 127L630.45 126.12L630.45 126.11L631.95 125.21L632.78 124.73L633.46 124.32L634.97 123.43L635.12 123.34L636.47 122.53L637.45 121.95L637.98 121.63L639.49 120.74L639.78 120.56L640.99 119.83L642.1 119.18L642.5 118.94L644.01 118.04L644.43 117.79L645.51 117.14L646.75 116.4L647.02 116.24L648.53 115.34L649.07 115.02L650.03 114.43L651.39 113.63L651.54 113.54L653.04 112.63L653.7 112.24L654.55 111.73L656.02 110.85L656.06 110.83L657.56 109.92L658.33 109.47L659.07 109.02L660.58 108.12L660.64 108.08L662.08 107.2L662.94 106.69L663.59 106.3L665.1 105.4L665.25 105.31L666.6 104.48L667.55 103.92L668.11 103.58L669.62 102.67L669.85 102.53L671.12 101.76L672.15 101.14L672.63 100.85L674.14 99.94L674.44 99.76L675.64 99.03L676.74 98.37L677.15 98.12L678.66 97.21L679.03 96.98L680.16 96.29L681.32 95.59L681.67 95.38L683.18 94.47L683.6 94.21L684.68 93.55L685.89 92.82L686.19 92.64L687.7 91.72L688.17 91.43L689.2 90.8L690.45 90.05L690.71 89.89L692.22 88.97L692.73 88.66L693.72 88.05L695.01 87.27L695.23 87.13L696.74 86.21L697.28 85.88L698.24 85.29L699.55 84.5L699.75 84.37L701.26 83.45L701.82 83.11L702.76 82.53L704.08 81.72L704.27 81.61L705.78 80.68L706.34 80.34L707.28 79.76L708.61 78.95L708.79 78.84L710.3 77.91L710.86 77.56L711.8 76.98L713.12 76.17L713.31 76.06L714.82 75.13L715.38 74.79L716.32 74.2L717.63 73.4L717.83 73.28L719.33 72.34L719.88 72.01L720.84 71.41L722.12 70.63L722.35 70.49L723.85 69.55L724.37 69.24L725.36 68.62L726.61 67.85L726.87 67.69L728.37 66.76L728.85 66.46L729.88 65.82L731.09 65.08L731.39 64.89L732.89 63.95L733.32 63.69L734.4 63.01L735.55 62.3L735.91 62.08L737.41 61.14L737.78 60.92L738.92 60.2L740.01 59.53L740.43 59.27L741.93 58.33L742.24 58.14L743.44 57.38L744.46 56.75L744.95 56.45L746.45 55.51L746.68 55.37L747.96 54.56L748.89 53.98L749.47 53.62L750.97 52.68L751.11 52.59L752.48 51.73L753.32 51.21L753.99 50.78L755.49 49.84L755.53 49.82L757 48.89L757.74 48.43L758.51 47.94L759.94 47.04L760.01 47L761.52 46.05L762.14 45.66L763.03 45.1L764.34 44.27L764.53 44.15L766.04 43.2L766.54 42.88L767.55 42.24L768.73 41.49L769.05 41.29L770.56 40.34L770.92 40.11L772.07 39.38L773.11 38.72L773.57 38.43L775.08 37.47L775.3 37.33L775.08 37.33L773.57 37.33L772.07 37.33L770.56 37.33L769.05 37.33L767.55 37.33L766.04 37.33L764.53 37.33L763.03 37.33L761.52 37.33L760.01 37.33L758.51 37.33L757 37.33L755.49 37.33L753.99 37.33L752.48 37.33L750.97 37.33L749.47 37.33L747.96 37.33L746.45 37.33L744.95 37.33L743.44 37.33L741.93 37.33L740.43 37.33L738.92 37.33L737.41 37.33L735.91 37.33L734.4 37.33L732.89 37.33L731.39 37.33L729.88 37.33L728.37 37.33L726.87 37.33L725.36 37.33L723.85 37.33L722.35 37.33L720.84 37.33L719.33 37.33L717.83 37.33L716.32 37.33L714.82 37.33L713.31 37.33L711.8 37.33L710.3 37.33L708.79 37.33L707.28 37.33L705.78 37.33L704.27 37.33L702.76 37.33L701.26 37.33L699.75 37.33L698.24 37.33L696.74 37.33L695.23 37.33L693.72 37.33L692.22 37.33L690.71 37.33L689.2 37.33L687.7 37.33L686.19 37.33L684.68 37.33L683.18 37.33L681.67 37.33L680.16 37.33L678.66 37.33L677.15 37.33L675.64 37.33L674.14 37.33L672.63 37.33L671.12 37.33L669.62 37.33L668.11 37.33L666.6 37.33L665.1 37.33L663.59 37.33L662.08 37.33L660.58 37.33L659.07 37.33L657.56 37.33L656.06 37.33L654.55 37.33L653.04 37.33L651.54 37.33L650.03 37.33L648.53 37.33L647.02 37.33L645.51 37.33L644.01 37.33L642.5 37.33L640.99 37.33L639.49 37.33L637.98 37.33L636.47 37.33L634.97 37.33L633.46 37.33L631.95 37.33L630.45 37.33L628.94 37.33L627.43 37.33L625.93 37.33L624.42 37.33L622.91 37.33L621.41 37.33L619.9 37.33L618.39 37.33L616.89 37.33L615.38 37.33L613.87 37.33L612.37 37.33L610.86 37.33L609.35 37.33L607.85 37.33L606.34 37.33L604.83 37.33L603.33 37.33L601.82 37.33L600.31 37.33L598.81 37.33L597.3 37.33L595.79 37.33L594.29 37.33L592.78 37.33L591.27 37.33L589.77 37.33L588.26 37.33L586.75 37.33L585.25 37.33L583.74 37.33L582.24 37.33L580.73 37.33L579.22 37.33L577.72 37.33L576.21 37.33L574.7 37.33L573.2 37.33L571.69 37.33L570.18 37.33L568.68 37.33L567.17 37.33L565.66 37.33L564.16 37.33L562.65 37.33L561.14 37.33L559.64 37.33L558.13 37.33L556.62 37.33L555.12 37.33L553.61 37.33L552.1 37.33L550.6 37.33L549.09 37.33L547.58 37.33L546.08 37.33L544.57 37.33L543.06 37.33L541.56 37.33L540.05 37.33L538.54 37.33L537.04 37.33L535.53 37.33L534.02 37.33L532.52 37.33L531.01 37.33L529.5 37.33L528 37.33L526.49 37.33L524.98 37.33L523.48 37.33L521.97 37.33L520.46 37.33L518.96 37.33L517.45 37.33L515.95 37.33L514.44 37.33L512.93 37.33L511.43 37.33L509.92 37.33L508.41 37.33L506.91 37.33L505.4 37.33L503.89 37.33L502.39 37.33L500.88 37.33L499.37 37.33L497.87 37.33L496.36 37.33L494.85 37.33L493.35 37.33L491.84 37.33L490.33 37.33L488.83 37.33L487.32 37.33L485.81 37.33L485.81 38.72L485.81 40.11L485.81 41.49L485.81 42.88L485.81 44.27L485.81 45.66L485.81 47.04L485.81 48.43L485.81 49.82L485.81 51.21L485.81 52.59L485.81 53.98L485.81 55.37L485.81 56.75L485.81 58.14L485.81 59.53L485.81 60.92L485.81 62.3L485.81 63.69L485.81 65.08L485.81 66.46L485.81 67.85L485.81 69.24L485.81 70.63L485.81 72.01L485.81 73.4L485.81 74.79L485.81 76.17L485.81 77.56L485.81 78.95L485.81 80.34L485.81 81.72L485.81 83.11L485.81 84.5L485.81 85.88L485.81 87.27L485.81 88.66L485.81 90.05L485.81 91.43L485.81 92.82L485.81 94.21L485.81 95.59L485.81 96.98L485.81 98.37L485.81 99.76L485.81 101.14L485.81 102.53L485.81 103.92L485.81 105.31L485.81 106.69L485.81 108.08L485.81 109.47L485.81 110.85L485.81 112.24L485.81 113.63L485.81 115.02L485.81 116.4L485.81 117.79L485.81 119.18L485.81 120.56L485.81 121.95L485.81 123.34L485.81 124.73L485.81 126.11L485.81 127.5L485.81 128.89L485.81 130.27L485.81 131.66L485.81 133.05L485.81 134.44L485.81 135.82L485.81 137.21L485.81 138.6L485.81 139.98L485.81 141.37L485.81 142.76L485.81 144.15L485.81 145.53L485.81 146.92L485.81 148.31L485.81 149.69L485.81 151.08L485.81 152.47L485.81 153.86L485.81 155.24L485.81 156.63L485.81 158.02L485.81 159.41L485.81 160.79L485.81 162.18L485.81 163.57L485.81 164.95L485.81 166.34L485.81 167.73L485.81 169.12L485.81 170.5L485.81 171.89L485.81 173.28L485.81 174.66L485.81 176.05L485.81 177.44L485.81 178.83L485.81 180.21L485.81 181.6L485.81 182.99L485.81 184.37L485.81 185.76L485.81 187.15L485.81 188.54L485.81 189.92L485.81 191.31L485.81 192.7L485.81 194.08L485.81 195.47L485.81 196.86L485.81 198.25L485.81 199.63L485.81 201.02L485.81 202.41L485.81 203.79L485.81 205.18L485.81 206.57L485.81 207.96L485.81 209.34L485.81 209.86Z"/>
<path opacity=".8" fill="#da6853" stroke="#da6853" d="M486.6 231.54L487.32 231.14L488.83 230.32L489.13 230.15L490.33 229.48L491.65 228.76L491.84 228.66L493.35 227.82L494.16 227.38L494.85 226.99L496.36 226.17L496.68 225.99L497.87 225.33L499.2 224.6L499.37 224.51L500.88 223.67L501.71 223.22L502.39 222.84L503.89 222.01L504.22 221.83L505.4 221.17L506.73 220.44L506.91 220.35L508.41 219.51L509.24 219.05L509.92 218.68L511.43 217.84L511.75 217.67L512.93 217.01L514.25 216.28L514.44 216.18L515.95 215.34L516.76 214.89L517.45 214.51L518.96 213.67L519.26 213.51L520.46 212.83L521.76 212.12L521.97 212L523.48 211.16L524.26 210.73L524.98 210.33L526.49 209.49L526.76 209.34L528 208.65L529.25 207.96L529.5 207.82L531.01 206.98L531.75 206.57L532.52 206.14L534.02 205.3L534.24 205.18L535.53 204.46L536.73 203.79L537.04 203.62L538.54 202.78L539.22 202.41L540.05 201.94L541.56 201.11L541.71 201.02L543.06 200.26L544.2 199.63L544.57 199.42L546.08 198.58L546.68 198.25L547.58 197.74L549.09 196.9L549.16 196.86L550.6 196.05L551.64 195.47L552.1 195.21L553.61 194.37L554.12 194.08L555.12 193.53L556.6 192.7L556.62 192.69L558.13 191.84L559.08 191.31L559.64 190.99L561.14 190.15L561.55 189.92L562.65 189.3L564.02 188.54L564.16 188.46L565.66 187.61L566.49 187.15L567.17 186.77L568.68 185.92L568.96 185.76L570.18 185.07L571.43 184.37L571.69 184.23L573.2 183.38L573.89 182.99L574.7 182.53L576.21 181.68L576.36 181.6L577.72 180.83L578.82 180.21L579.22 179.99L580.73 179.14L581.28 178.83L582.24 178.28L583.74 177.44L583.74 177.44L585.25 176.58L586.19 176.05L586.75 175.73L588.26 174.88L588.65 174.66L589.77 174.03L591.1 173.28L591.27 173.18L592.78 172.32L593.55 171.89L594.29 171.47L595.79 170.62L596 170.5L597.3 169.76L598.45 169.12L598.81 168.91L600.31 168.06L600.9 167.73L601.82 167.2L603.33 166.35L603.34 166.34L604.83 165.49L605.78 164.95L606.34 164.64L607.85 163.78L608.22 163.57L609.35 162.92L610.66 162.18L610.86 162.07L612.37 161.21L613.1 160.79L613.87 160.35L615.38 159.49L615.53 159.41L616.89 158.63L617.97 158.02L618.39 157.77L619.9 156.91L620.4 156.63L621.41 156.05L622.83 155.24L622.91 155.19L624.42 154.33L625.25 153.86L625.93 153.47L627.43 152.61L627.68 152.47L628.94 151.74L630.1 151.08L630.45 150.88L631.95 150.02L632.52 149.69L633.46 149.16L634.95 148.31L634.97 148.3L636.47 147.43L637.36 146.92L637.98 146.56L639.49 145.7L639.78 145.53L640.99 144.83L642.19 144.15L642.5 143.97L644.01 143.1L644.6 142.76L645.51 142.23L647.01 141.37L647.02 141.37L648.53 140.5L649.42 139.98L650.03 139.63L651.54 138.76L651.83 138.6L653.04 137.89L654.23 137.21L654.55 137.02L656.06 136.15L656.63 135.82L657.56 135.28L659.03 134.44L659.07 134.41L660.58 133.54L661.43 133.05L662.08 132.67L663.59 131.8L663.83 131.66L665.1 130.92L666.22 130.27L666.6 130.05L668.11 129.18L668.61 128.89L669.62 128.3L671.01 127.5L671.12 127.43L672.63 126.55L673.39 126.11L674.14 125.68L675.64 124.8L675.78 124.73L677.15 123.92L678.16 123.34L678.66 123.05L680.16 122.17L680.54 121.95L681.67 121.29L682.92 120.56L683.18 120.42L684.68 119.54L685.3 119.18L686.19 118.66L687.68 117.79L687.7 117.78L689.2 116.9L690.05 116.4L690.71 116.02L692.22 115.14L692.42 115.02L693.72 114.25L694.79 113.63L695.23 113.37L696.74 112.49L697.16 112.24L698.24 111.6L699.53 110.85L699.75 110.72L701.26 109.84L701.89 109.47L702.76 108.95L704.25 108.08L704.27 108.07L705.78 107.18L706.61 106.69L707.28 106.29L708.79 105.41L708.97 105.31L710.3 104.52L711.32 103.92L711.8 103.63L713.31 102.74L713.67 102.53L714.82 101.85L716.02 101.14L716.32 100.97L717.83 100.08L718.37 99.76L719.33 99.18L720.72 98.37L720.84 98.3L722.35 97.4L723.06 96.98L723.85 96.51L725.36 95.62L725.4 95.59L726.87 94.72L727.74 94.21L728.37 93.83L729.88 92.94L730.08 92.82L731.39 92.04L732.41 91.43L732.89 91.15L734.4 90.25L734.75 90.05L735.91 89.35L737.08 88.66L737.41 88.46L738.92 87.56L739.41 87.27L740.43 86.66L741.73 85.88L741.93 85.76L743.44 84.86L744.05 84.5L744.95 83.96L746.38 83.11L746.45 83.06L747.96 82.16L748.7 81.72L749.47 81.26L750.97 80.36L751.01 80.34L752.48 79.45L753.33 78.95L753.99 78.55L755.49 77.65L755.64 77.56L757 76.74L757.95 76.17L758.51 75.84L760.01 74.93L760.26 74.79L761.52 74.03L762.56 73.4L763.03 73.12L764.53 72.21L764.87 72.01L766.04 71.3L767.17 70.63L767.55 70.4L769.05 69.49L769.46 69.24L770.56 68.58L771.76 67.85L772.07 67.67L773.57 66.75L774.05 66.46L775.08 65.84L776.35 65.08L776.59 64.93L778.09 64.02L778.63 63.69L779.6 63.1L780.92 62.3L781.11 62.19L782.61 61.27L783.2 60.92L784.12 60.36L785.49 59.53L785.62 59.44L785.62 58.14L785.62 56.75L785.62 55.37L785.62 53.98L785.62 52.59L785.62 51.21L785.62 49.82L785.62 48.43L785.62 47.04L785.62 45.66L785.62 44.27L785.62 42.88L785.62 41.49L785.62 40.11L785.62 38.72L785.62 37.33L784.12 37.33L782.61 37.33L781.11 37.33L779.6 37.33L778.09 37.33L776.59 37.33L775.3 37.33L775.08 37.47L773.57 38.43L773.11 38.72L772.07 39.38L770.92 40.11L770.56 40.34L769.05 41.29L768.73 41.49L767.55 42.24L766.54 42.88L766.04 43.2L764.53 44.15L764.34 44.27L763.03 45.1L762.14 45.66L761.52 46.05L760.01 47L759.94 47.04L758.51 47.94L757.74 48.43L757 48.89L755.53 49.82L755.49 49.84L753.99 50.78L753.32 51.21L752.48 51.73L751.11 52.59L750.97 52.68L749.47 53.62L748.89 53.98L747.96 54.56L746.68 55.37L746.45 55.51L744.95 56.45L744.46 56.75L743.44 57.38L742.24 58.14L741.93 58.33L740.43 59.27L740.01 59.53L738.92 60.2L737.78 60.92L737.41 61.14L735.91 62.08L735.55 62.3L734.4 63.01L733.32 63.69L732.89 63.95L731.39 64.89L731.09 65.08L729.88 65.82L728.85 66.46L728.37 66.76L726.87 67.69L726.61 67.85L725.36 68.62L724.37 69.24L723.85 69.55L722.35 70.49L722.12 70.63L720.84 71.41L719.88 72.01L719.33 72.34L717.83 73.28L717.63 73.4L716.32 74.2L715.38 74.79L714.82 75.13L713.31 76.06L713.12 76.17L711.8 76.98L710.86 77.56L710.3 77.91L708.79 78.84L708.61 78.95L707.28 79.76L706.34 80.34L705.78 80.68L704.27 81.61L704.08 81.72L702.76 82.53L701.82 83.11L701.26 83.45L699.75 84.37L699.55 84.5L698.24 85.29L697.28 85.88L696.74 86.21L695.23 87.13L695.01 87.27L693.72 88.05L692.73 88.66L692.22 88.97L690.71 89.89L690.45 90.05L689.2 90.8L688.17 91.43L687.7 91.72L686.19 92.64L685.89 92.82L684.68 93.55L683.6 94.21L683.18 94.47L681.67 95.38L681.32 95.59L680.16 96.29L679.03 96.98L678.66 97.21L677.15 98.12L676.74 98.37L675.64 99.03L674.44 99.76L674.14 99.94L672.63 100.85L672.15 101.14L671.12 101.76L669.85 102.53L669.62 102.67L668.11 103.58L667.55 103.92L666.6 104.48L665.25 105.31L665.1 105.4L663.59 106.3L662.94 106.69L662.08 107.2L660.64 108.08L660.58 108.12L659.07 109.02L658.33 109.47L657.56 109.92L656.06 110.83L656.02 110.85L654.55 111.73L653.7 112.24L653.04 112.63L651.54 113.54L651.39 113.63L650.03 114.43L649.07 115.02L648.53 115.34L647.02 116.24L646.75 116.4L645.51 117.14L644.43 117.79L644.01 118.04L642.5 118.94L642.1 119.18L640.99 119.83L639.78 120.56L639.49 120.74L637.98 121.63L637.45 121.95L636.47 122.53L635.12 123.34L634.97 123.43L633.46 124.32L632.78 124.73L631.95 125.21L630.45 126.11L630.45 126.12L628.94 127L628.11 127.5L627.43 127.9L625.93 128.8L625.77 128.89L624.42 129.68L623.43 130.27L622.91 130.58L621.41 131.47L621.09 131.66L619.9 132.36L618.74 133.05L618.39 133.25L616.89 134.14L616.39 134.44L615.38 135.03L614.04 135.82L613.87 135.92L612.37 136.81L611.69 137.21L610.86 137.7L609.35 138.59L609.34 138.6L607.85 139.47L606.98 139.98L606.34 140.36L604.83 141.25L604.62 141.37L603.33 142.13L602.26 142.76L601.82 143.02L600.31 143.9L599.9 144.15L598.81 144.78L597.54 145.53L597.3 145.67L595.79 146.55L595.17 146.92L594.29 147.43L592.81 148.31L592.78 148.32L591.27 149.2L590.43 149.69L589.77 150.08L588.26 150.97L588.06 151.08L586.75 151.84L585.69 152.47L585.25 152.72L583.74 153.6L583.31 153.86L582.24 154.48L580.94 155.24L580.73 155.36L579.22 156.24L578.55 156.63L577.72 157.12L576.21 158L576.18 158.02L574.7 158.87L573.79 159.41L573.2 159.75L571.69 160.63L571.4 160.79L570.18 161.5L569.02 162.18L568.68 162.38L567.17 163.25L566.63 163.57L565.66 164.12L564.24 164.95L564.16 165L562.65 165.87L561.84 166.34L561.14 166.74L559.64 167.62L559.45 167.73L558.13 168.49L557.05 169.12L556.62 169.36L555.12 170.23L554.65 170.5L553.61 171.1L552.25 171.89L552.1 171.97L550.6 172.84L549.84 173.28L549.09 173.71L547.58 174.58L547.44 174.66L546.08 175.45L545.03 176.05L544.57 176.32L543.06 177.18L542.63 177.44L541.56 178.05L540.22 178.83L540.05 178.92L538.54 179.78L537.8 180.21L537.04 180.65L535.53 181.52L535.39 181.6L534.02 182.38L532.97 182.99L532.52 183.25L531.01 184.11L530.56 184.37L529.5 184.97L528.14 185.76L528 185.84L526.49 186.7L525.71 187.15L524.98 187.56L523.48 188.43L523.29 188.54L521.97 189.29L520.87 189.92L520.46 190.15L518.96 191.01L518.44 191.31L517.45 191.87L516.01 192.7L515.95 192.74L514.44 193.59L513.58 194.08L512.93 194.45L511.43 195.31L511.15 195.47L509.92 196.17L508.72 196.86L508.41 197.03L506.91 197.89L506.28 198.25L505.4 198.74L503.89 199.61L503.85 199.63L502.39 200.46L501.4 201.02L500.88 201.32L499.37 202.17L498.96 202.41L497.87 203.03L496.52 203.79L496.36 203.89L494.85 204.74L494.07 205.18L493.35 205.59L491.84 206.45L491.63 206.57L490.33 207.3L489.18 207.96L488.83 208.16L487.32 209.01L486.73 209.34L485.81 209.86L485.81 210.73L485.81 212.12L485.81 213.51L485.81 214.89L485.81 216.28L485.81 217.67L485.81 219.05L485.81 220.44L485.81 221.83L485.81 223.22L485.81 224.6L485.81 225.99L485.81 227.38L485.81 228.76L485.81 230.15L485.81 231.54L485.81 231.97Z"/>
<path opacity=".8" fill="#f9c4a9" stroke="#f9c4a9" d="M487.32 246.89L487.48 246.8L488.83 246.07L490.06 245.41L490.33 245.26L491.84 244.45L492.63 244.02L493.35 243.63L494.85 242.82L495.2 242.64L496.36 242.01L497.76 241.25L497.87 241.19L499.37 240.38L500.33 239.86L500.88 239.56L502.39 238.75L502.9 238.47L503.89 237.93L505.4 237.12L505.46 237.09L506.91 236.3L508.02 235.7L508.41 235.49L509.92 234.67L510.58 234.31L511.43 233.85L512.93 233.04L513.14 232.93L514.44 232.22L515.7 231.54L515.95 231.4L517.45 230.59L518.25 230.15L518.96 229.77L520.46 228.95L520.81 228.76L521.97 228.13L523.36 227.38L523.48 227.31L524.98 226.49L525.91 225.99L526.49 225.67L528 224.86L528.46 224.6L529.5 224.03L531.01 223.22L531.01 223.22L532.52 222.39L533.56 221.83L534.02 221.57L535.53 220.75L536.1 220.44L537.04 219.93L538.54 219.11L538.65 219.05L540.05 218.29L541.19 217.67L541.56 217.47L543.06 216.64L543.73 216.28L544.57 215.82L546.08 215L546.27 214.89L547.58 214.17L548.81 213.51L549.09 213.35L550.6 212.53L551.34 212.12L552.1 211.7L553.61 210.88L553.88 210.73L555.12 210.05L556.41 209.34L556.62 209.23L558.13 208.4L558.94 207.96L559.64 207.58L561.14 206.75L561.47 206.57L562.65 205.92L564 205.18L564.16 205.1L565.66 204.27L566.53 203.79L567.17 203.44L568.68 202.61L569.05 202.41L570.18 201.79L571.58 201.02L571.69 200.96L573.2 200.13L574.1 199.63L574.7 199.3L576.21 198.47L576.62 198.25L577.72 197.64L579.14 196.86L579.22 196.81L580.73 195.98L581.65 195.47L582.24 195.15L583.74 194.32L584.17 194.08L585.25 193.49L586.68 192.7L586.75 192.66L588.26 191.83L589.2 191.31L589.77 190.99L591.27 190.16L591.71 189.92L592.78 189.33L594.22 188.54L594.29 188.5L595.79 187.66L596.72 187.15L597.3 186.83L598.81 185.99L599.23 185.76L600.31 185.16L601.73 184.37L601.82 184.32L603.33 183.49L604.23 182.99L604.83 182.65L606.34 181.82L606.73 181.6L607.85 180.98L609.23 180.21L609.35 180.15L610.86 179.31L611.73 178.83L612.37 178.47L613.87 177.63L614.22 177.44L615.38 176.79L616.72 176.05L616.89 175.96L618.39 175.12L619.21 174.66L619.9 174.28L621.41 173.44L621.7 173.28L622.91 172.6L624.19 171.89L624.42 171.76L625.93 170.92L626.68 170.5L627.43 170.08L628.94 169.24L629.16 169.12L630.45 168.4L631.64 167.73L631.95 167.55L633.46 166.71L634.12 166.34L634.97 165.87L636.47 165.03L636.6 164.95L637.98 164.18L639.08 163.57L639.49 163.34L640.99 162.5L641.56 162.18L642.5 161.65L644.01 160.81L644.03 160.79L645.51 159.96L646.5 159.41L647.02 159.12L648.53 158.27L648.98 158.02L650.03 157.42L651.44 156.63L651.54 156.58L653.04 155.73L653.91 155.24L654.55 154.88L656.06 154.04L656.38 153.86L657.56 153.19L658.84 152.47L659.07 152.34L660.58 151.49L661.3 151.08L662.08 150.64L663.59 149.79L663.76 149.69L665.1 148.94L666.22 148.31L666.6 148.09L668.11 147.24L668.68 146.92L669.62 146.39L671.12 145.54L671.13 145.53L672.63 144.68L673.58 144.15L674.14 143.83L675.64 142.98L676.03 142.76L677.15 142.12L678.48 141.37L678.66 141.27L680.16 140.42L680.93 139.98L681.67 139.56L683.18 138.71L683.37 138.6L684.68 137.85L685.81 137.21L686.19 137L687.7 136.14L688.26 135.82L689.2 135.28L690.7 134.44L690.71 134.43L692.22 133.57L693.13 133.05L693.72 132.71L695.23 131.85L695.57 131.66L696.74 130.99L698 130.27L698.24 130.14L699.75 129.28L700.43 128.89L701.26 128.42L702.76 127.56L702.86 127.5L704.27 126.69L705.29 126.11L705.78 125.83L707.28 124.97L707.71 124.73L708.79 124.11L710.14 123.34L710.3 123.25L711.8 122.38L712.56 121.95L713.31 121.52L714.82 120.66L714.98 120.56L716.32 119.79L717.4 119.18L717.83 118.93L719.33 118.06L719.81 117.79L720.84 117.2L722.22 116.4L722.35 116.33L723.85 115.46L724.64 115.02L725.36 114.6L726.87 113.73L727.05 113.63L728.37 112.86L729.45 112.24L729.88 111.99L731.39 111.12L731.86 110.85L732.89 110.25L734.26 109.47L734.4 109.39L735.91 108.51L736.66 108.08L737.41 107.64L738.92 106.77L739.06 106.69L740.43 105.9L741.46 105.31L741.93 105.03L743.44 104.16L743.85 103.92L744.95 103.28L746.25 102.53L746.45 102.41L747.96 101.54L748.64 101.14L749.47 100.66L750.97 99.79L751.03 99.76L752.48 98.91L753.41 98.37L753.99 98.03L755.49 97.16L755.8 96.98L757 96.28L758.18 95.59L758.51 95.4L760.01 94.53L760.56 94.21L761.52 93.65L762.94 92.82L763.03 92.77L764.53 91.89L765.31 91.43L766.04 91.01L767.55 90.13L767.69 90.05L769.05 89.25L770.06 88.66L770.56 88.36L772.07 87.48L772.43 87.27L773.57 86.6L774.79 85.88L775.08 85.72L776.59 84.83L777.16 84.5L778.09 83.95L779.52 83.11L779.6 83.07L781.11 82.18L781.88 81.72L782.61 81.29L784.12 80.41L784.24 80.34L785.62 79.52L785.62 78.95L785.62 77.56L785.62 76.17L785.62 74.79L785.62 73.4L785.62 72.01L785.62 70.63L785.62 69.24L785.62 67.85L785.62 66.46L785.62 65.08L785.62 63.69L785.62 62.3L785.62 60.92L785.62 59.53L785.62 59.44L785.49 59.53L784.12 60.36L783.2 60.92L782.61 61.27L781.11 62.19L780.92 62.3L779.6 63.1L778.63 63.69L778.09 64.02L776.59 64.93L776.35 65.08L775.08 65.84L774.05 66.46L773.57 66.75L772.07 67.67L771.76 67.85L770.56 68.58L769.46 69.24L769.05 69.49L767.55 70.4L767.17 70.63L766.04 71.3L764.87 72.01L764.53 72.21L763.03 73.12L762.56 73.4L761.52 74.03L760.26 74.79L760.01 74.93L758.51 75.84L757.95 76.17L757 76.74L755.64 77.56L755.49 77.65L753.99 78.55L753.33 78.95L752.48 79.45L751.01 80.34L750.97 80.36L749.47 81.26L748.7 81.72L747.96 82.16L746.45 83.06L746.38 83.11L744.95 83.96L744.05 84.5L743.44 84.86L741.93 85.76L741.73 85.88L740.43 86.66L739.41 87.27L738.92 87.56L737.41 88.46L737.08 88.66L735.91 89.35L734.75 90.05L734.4 90.25L732.89 91.15L732.41 91.43L731.39 92.04L730.08 92.82L729.88 92.94L728.37 93.83L727.74 94.21L726.87 94.72L725.4 95.59L725.36 95.62L723.85 96.51L723.06 96.98L722.35 97.4L720.84 98.3L720.72 98.37L719.33 99.18L718.37 99.76L717.83 100.08L716.32 100.97L716.02 101.14L714.82 101.85L713.67 102.53L713.31 102.74L711.8 103.63L711.32 103.92L710.3 104.52L708.97 105.31L708.79 105.41L707.28 106.29L706.61 106.69L705.78 107.18L704.27 108.07L704.25 108.08L702.76 108.95L701.89 109.47L701.26 109.84L699.75 110.72L699.53 110.85L698.24 111.6L697.16 112.24L696.74 112.49L695.23 113.37L694.79 113.63L693.72 114.25L692.42 115.02L692.22 115.14L690.71 116.02L690.05 116.4L689.2 116.9L687.7 117.78L687.68 117.79L686.19 118.66L685.3 119.18L684.68 119.54L683.18 120.42L682.92 120.56L681.67 121.29L680.54 121.95L680.16 122.17L678.66 123.05L678.16 123.34L677.15 123.92L675.78 124.73L675.64 124.8L674.14 125.68L673.39 126.11L672.63 126.55L671.12 127.43L671.01 127.5L669.62 128.3L668.61 128.89L668.11 129.18L666.6 130.05L666.22 130.27L665.1 130.92L663.83 131.66L663.59 131.8L662.08 132.67L661.43 133.05L660.58 133.54L659.07 134.41L659.03 134.44L657.56 135.28L656.63 135.82L656.06 136.15L654.55 137.02L654.23 137.21L653.04 137.89L651.83 138.6L651.54 138.76L650.03 139.63L649.42 139.98L648.53 140.5L647.02 141.37L647.01 141.37L645.51 142.23L644.6 142.76L644.01 143.1L642.5 143.97L642.19 144.15L640.99 144.83L639.78 145.53L639.49 145.7L637.98 146.56L637.36 146.92L636.47 147.43L634.97 148.3L634.95 148.31L633.46 149.16L632.52 149.69L631.95 150.02L630.45 150.88L630.1 151.08L628.94 151.74L627.68 152.47L627.43 152.61L625.93 153.47L625.25 153.86L624.42 154.33L622.91 155.19L622.83 155.24L621.41 156.05L620.4 156.63L619.9 156.91L618.39 157.77L617.97 158.02L616.89 158.63L615.53 159.41L615.38 159.49L613.87 160.35L613.1 160.79L612.37 161.21L610.86 162.07L610.66 162.18L609.35 162.92L608.22 163.57L607.85 163.78L606.34 164.64L605.78 164.95L604.83 165.49L603.34 166.34L603.33 166.35L601.82 167.2L600.9 167.73L600.31 168.06L598.81 168.91L598.45 169.12L597.3 169.76L596 170.5L595.79 170.62L594.29 171.47L593.55 171.89L592.78 172.32L591.27 173.18L591.1 173.28L589.77 174.03L588.65 174.66L588.26 174.88L586.75 175.73L586.19 176.05L585.25 176.58L583.74 177.44L583.74 177.44L582.24 178.28L581.28 178.83L580.73 179.14L579.22 179.99L578.82 180.21L577.72 180.83L576.36 181.6L576.21 181.68L574.7 182.53L573.89 182.99L573.2 183.38L571.69 184.23L571.43 184.37L570.18 185.07L568.96 185.76L568.68 185.92L567.17 186.77L566.49 187.15L565.66 187.61L564.16 188.46L564.02 188.54L562.65 189.3L561.55 189.92L561.14 190.15L559.64 190.99L559.08 191.31L558.13 191.84L556.62 192.69L556.6 192.7L555.12 193.53L554.12 194.08L553.61 194.37L552.1 195.21L551.64 195.47L550.6 196.05L549.16 196.86L549.09 196.9L547.58 197.74L546.68 198.25L546.08 198.58L544.57 199.42L544.2 199.63L543.06 200.26L541.71 201.02L541.56 201.11L540.05 201.94L539.22 202.41L538.54 202.78L537.04 203.62L536.73 203.79L535.53 204.46L534.24 205.18L534.02 205.3L532.52 206.14L531.75 206.57L531.01 206.98L529.5 207.82L529.25 207.96L528 208.65L526.76 209.34L526.49 209.49L524.98 210.33L524.26 210.73L523.48 211.16L521.97 212L521.76 212.12L520.46 212.83L519.26 213.51L518.96 213.67L517.45 214.51L516.76 214.89L515.95 215.34L514.44 216.18L514.25 216.28L512.93 217.01L511.75 217.67L511.43 217.84L509.92 218.68L509.24 219.05L508.41 219.51L506.91 220.35L506.73 220.44L505.4 221.17L504.22 221.83L503.89 222.01L502.39 222.84L501.71 223.22L500.88 223.67L499.37 224.51L499.2 224.6L497.87 225.33L496.68 225.99L496.36 226.17L494.85 226.99L494.16 227.38L493.35 227.82L491.84 228.66L491.65 228.76L490.33 229.48L489.13 230.15L488.83 230.32L487.32 231.14L486.6 231.54L485.81 231.97L485.81 232.93L485.81 234.31L485.81 235.7L485.81 237.09L485.81 238.47L485.81 239.86L485.81 241.25L485.81 242.64L485.81 244.02L485.81 245.41L485.81 246.8L485.81 247.7Z"/>
<path opacity=".8" fill="#f6f7f7" stroke="#f6f7f7" d="M486.01 262.06L487.32 261.36L488.63 260.67L488.83 260.57L490.33 259.77L491.25 259.28L491.84 258.97L493.35 258.17L493.87 257.89L494.85 257.37L496.36 256.57L496.48 256.51L497.87 255.77L499.1 255.12L499.37 254.97L500.88 254.18L501.71 253.73L502.39 253.38L503.89 252.57L504.32 252.35L505.4 251.78L506.91 250.97L506.93 250.96L508.41 250.17L509.54 249.57L509.92 249.37L511.43 248.57L512.15 248.18L512.93 247.77L514.44 246.97L514.76 246.8L515.95 246.17L517.36 245.41L517.45 245.36L518.96 244.56L519.96 244.02L520.46 243.76L521.97 242.95L522.57 242.64L523.48 242.15L524.98 241.35L525.17 241.25L526.49 240.54L527.77 239.86L528 239.74L529.5 238.94L530.37 238.47L531.01 238.13L532.52 237.33L532.96 237.09L534.02 236.52L535.53 235.71L535.56 235.7L537.04 234.91L538.15 234.31L538.54 234.1L540.05 233.3L540.74 232.93L541.56 232.49L543.06 231.68L543.34 231.54L544.57 230.88L545.92 230.15L546.08 230.07L547.58 229.26L548.51 228.76L549.09 228.46L550.6 227.65L551.1 227.38L552.1 226.84L553.61 226.03L553.69 225.99L555.12 225.22L556.27 224.6L556.62 224.41L558.13 223.6L558.85 223.22L559.64 222.8L561.14 221.98L561.43 221.83L562.65 221.18L564.01 220.44L564.16 220.36L565.66 219.55L566.59 219.05L567.17 218.74L568.68 217.93L569.17 217.67L570.18 217.12L571.69 216.31L571.74 216.28L573.2 215.5L574.32 214.89L574.7 214.68L576.21 213.87L576.89 213.51L577.72 213.06L579.22 212.25L579.46 212.12L580.73 211.43L582.03 210.73L582.24 210.62L583.74 209.81L584.6 209.34L585.25 208.99L586.75 208.18L587.16 207.96L588.26 207.36L589.73 206.57L589.77 206.55L591.27 205.73L592.29 205.18L592.78 204.92L594.29 204.1L594.85 203.79L595.79 203.29L597.3 202.47L597.41 202.41L598.81 201.65L599.97 201.02L600.31 200.83L601.82 200.02L602.53 199.63L603.33 199.2L604.83 198.38L605.08 198.25L606.34 197.56L607.64 196.86L607.85 196.74L609.35 195.93L610.19 195.47L610.86 195.11L612.37 194.29L612.74 194.08L613.87 193.47L615.29 192.7L615.38 192.65L616.89 191.83L617.84 191.31L618.39 191.01L619.9 190.19L620.38 189.92L621.41 189.37L622.91 188.54L622.93 188.54L624.42 187.72L625.47 187.15L625.93 186.9L627.43 186.08L628.01 185.76L628.94 185.26L630.45 184.43L630.55 184.37L631.95 183.61L633.09 182.99L633.46 182.78L634.97 181.96L635.63 181.6L636.47 181.14L637.98 180.31L638.16 180.21L639.49 179.49L640.69 178.83L640.99 178.66L642.5 177.84L643.22 177.44L644.01 177.01L645.51 176.18L645.75 176.05L647.02 175.36L648.28 174.66L648.53 174.53L650.03 173.7L650.81 173.28L651.54 172.88L653.04 172.05L653.33 171.89L654.55 171.22L655.86 170.5L656.06 170.39L657.56 169.56L658.38 169.12L659.07 168.73L660.58 167.9L660.9 167.73L662.08 167.08L663.41 166.34L663.59 166.24L665.1 165.41L665.93 164.95L666.6 164.58L668.11 163.75L668.45 163.57L669.62 162.92L670.96 162.18L671.12 162.09L672.63 161.26L673.47 160.79L674.14 160.42L675.64 159.59L675.98 159.41L677.15 158.76L678.49 158.02L678.66 157.92L680.16 157.09L680.99 156.63L681.67 156.26L683.18 155.42L683.5 155.24L684.68 154.59L686 153.86L686.19 153.75L687.7 152.92L688.5 152.47L689.2 152.08L690.71 151.24L691 151.08L692.22 150.41L693.5 149.69L693.72 149.57L695.23 148.73L695.99 148.31L696.74 147.89L698.24 147.06L698.49 146.92L699.75 146.22L700.98 145.53L701.26 145.38L702.76 144.54L703.47 144.15L704.27 143.7L705.78 142.86L705.96 142.76L707.28 142.02L708.44 141.37L708.79 141.18L710.3 140.34L710.93 139.98L711.8 139.5L713.31 138.65L713.41 138.6L714.82 137.81L715.89 137.21L716.32 136.97L717.83 136.13L718.37 135.82L719.33 135.28L720.84 134.44L720.85 134.44L722.35 133.6L723.32 133.05L723.85 132.75L725.36 131.91L725.8 131.66L726.87 131.06L728.27 130.27L728.37 130.21L729.88 129.37L730.74 128.89L731.39 128.52L732.89 127.68L733.21 127.5L734.4 126.83L735.67 126.11L735.91 125.98L737.41 125.13L738.14 124.73L738.92 124.28L740.43 123.43L740.6 123.34L741.93 122.59L743.06 121.95L743.44 121.74L744.95 120.89L745.52 120.56L746.45 120.04L747.96 119.18L747.97 119.18L749.47 118.33L750.43 117.79L750.97 117.48L752.48 116.63L752.88 116.4L753.99 115.78L755.33 115.02L755.49 114.92L757 114.07L757.78 113.63L758.51 113.22L760.01 112.36L760.23 112.24L761.52 111.51L762.67 110.85L763.03 110.65L764.53 109.8L765.11 109.47L766.04 108.94L767.55 108.08L767.55 108.08L769.05 107.23L769.99 106.69L770.56 106.37L772.07 105.51L772.43 105.31L773.57 104.65L774.86 103.92L775.08 103.8L776.59 102.94L777.3 102.53L778.09 102.08L779.6 101.22L779.73 101.14L781.11 100.36L782.16 99.76L782.61 99.5L784.12 98.63L784.58 98.37L785.62 97.77L785.62 96.98L785.62 95.59L785.62 94.21L785.62 92.82L785.62 91.43L785.62 90.05L785.62 88.66L785.62 87.27L785.62 85.88L785.62 84.5L785.62 83.11L785.62 81.72L785.62 80.34L785.62 79.52L784.24 80.34L784.12 80.41L782.61 81.29L781.88 81.72L781.11 82.18L779.6 83.07L779.52 83.11L778.09 83.95L777.16 84.5L776.59 84.83L775.08 85.72L774.79 85.88L773.57 86.6L772.43 87.27L772.07 87.48L770.56 88.36L770.06 88.66L769.05 89.25L767.69 90.05L767.55 90.13L766.04 91.01L765.31 91.43L764.53 91.89L763.03 92.77L762.94 92.82L761.52 93.65L760.56 94.21L760.01 94.53L758.51 95.4L758.18 95.59L757 96.28L755.8 96.98L755.49 97.16L753.99 98.03L753.41 98.37L752.48 98.91L751.03 99.76L750.97 99.79L749.47 100.66L748.64 101.14L747.96 101.54L746.45 102.41L746.25 102.53L744.95 103.28L743.85 103.92L743.44 104.16L741.93 105.03L741.46 105.31L740.43 105.9L739.06 106.69L738.92 106.77L737.41 107.64L736.66 108.08L735.91 108.51L734.4 109.39L734.26 109.47L732.89 110.25L731.86 110.85L731.39 111.12L729.88 111.99L729.45 112.24L728.37 112.86L727.05 113.63L726.87 113.73L725.36 114.6L724.64 115.02L723.85 115.46L722.35 116.33L722.22 116.4L720.84 117.2L719.81 117.79L719.33 118.06L717.83 118.93L717.4 119.18L716.32 119.79L714.98 120.56L714.82 120.66L713.31 121.52L712.56 121.95L711.8 122.38L710.3 123.25L710.14 123.34L708.79 124.11L707.71 124.73L707.28 124.97L705.78 125.83L705.29 126.11L704.27 126.69L702.86 127.5L702.76 127.56L701.26 128.42L700.43 128.89L699.75 129.28L698.24 130.14L698 130.27L696.74 130.99L695.57 131.66L695.23 131.85L693.72 132.71L693.13 133.05L692.22 133.57L690.71 134.43L690.7 134.44L689.2 135.28L688.26 135.82L687.7 136.14L686.19 137L685.81 137.21L684.68 137.85L683.37 138.6L683.18 138.71L681.67 139.56L680.93 139.98L680.16 140.42L678.66 141.27L678.48 141.37L677.15 142.12L676.03 142.76L675.64 142.98L674.14 143.83L673.58 144.15L672.63 144.68L671.13 145.53L671.12 145.54L669.62 146.39L668.68 146.92L668.11 147.24L666.6 148.09L666.22 148.31L665.1 148.94L663.76 149.69L663.59 149.79L662.08 150.64L661.3 151.08L660.58 151.49L659.07 152.34L658.84 152.47L657.56 153.19L656.38 153.86L656.06 154.04L654.55 154.88L653.91 155.24L653.04 155.73L651.54 156.58L651.44 156.63L650.03 157.42L648.98 158.02L648.53 158.27L647.02 159.12L646.5 159.41L645.51 159.96L644.03 160.79L644.01 160.81L642.5 161.65L641.56 162.18L640.99 162.5L639.49 163.34L639.08 163.57L637.98 164.18L636.6 164.95L636.47 165.03L634.97 165.87L634.12 166.34L633.46 166.71L631.95 167.55L631.64 167.73L630.45 168.4L629.16 169.12L628.94 169.24L627.43 170.08L626.68 170.5L625.93 170.92L624.42 171.76L624.19 171.89L622.91 172.6L621.7 173.28L621.41 173.44L619.9 174.28L619.21 174.66L618.39 175.12L616.89 175.96L616.72 176.05L615.38 176.79L614.22 177.44L613.87 177.63L612.37 178.47L611.73 178.83L610.86 179.31L609.35 180.15L609.23 180.21L607.85 180.98L606.73 181.6L606.34 181.82L604.83 182.65L604.23 182.99L603.33 183.49L601.82 184.32L601.73 184.37L600.31 185.16L599.23 185.76L598.81 185.99L597.3 186.83L596.72 187.15L595.79 187.66L594.29 188.5L594.22 188.54L592.78 189.33L591.71 189.92L591.27 190.16L589.77 190.99L589.2 191.31L588.26 191.83L586.75 192.66L586.68 192.7L585.25 193.49L584.17 194.08L583.74 194.32L582.24 195.15L581.65 195.47L580.73 195.98L579.22 196.81L579.14 196.86L577.72 197.64L576.62 198.25L576.21 198.47L574.7 199.3L574.1 199.63L573.2 200.13L571.69 200.96L571.58 201.02L570.18 201.79L569.05 202.41L568.68 202.61L567.17 203.44L566.53 203.79L565.66 204.27L564.16 205.1L564 205.18L562.65 205.92L561.47 206.57L561.14 206.75L559.64 207.58L558.94 207.96L558.13 208.4L556.62 209.23L556.41 209.34L555.12 210.05L553.88 210.73L553.61 210.88L552.1 211.7L551.34 212.12L550.6 212.53L549.09 213.35L548.81 213.51L547.58 214.17L546.27 214.89L546.08 215L544.57 215.82L543.73 216.28L543.06 216.64L541.56 217.47L541.19 217.67L540.05 218.29L538.65 219.05L538.54 219.11L537.04 219.93L536.1 220.44L535.53 220.75L534.02 221.57L533.56 221.83L532.52 222.39L531.01 223.22L531.01 223.22L529.5 224.03L528.46 224.6L528 224.86L526.49 225.67L525.91 225.99L524.98 226.49L523.48 227.31L523.36 227.38L521.97 228.13L520.81 228.76L520.46 228.95L518.96 229.77L518.25 230.15L517.45 230.59L515.95 231.4L515.7 231.54L514.44 232.22L513.14 232.93L512.93 233.04L511.43 233.85L510.58 234.31L509.92 234.67L508.41 235.49L508.02 235.7L506.91 236.3L505.46 237.09L505.4 237.12L503.89 237.93L502.9 238.47L502.39 238.75L500.88 239.56L500.33 239.86L499.37 240.38L497.87 241.19L497.76 241.25L496.36 242.01L495.2 242.64L494.85 242.82L493.35 243.63L492.63 244.02L491.84 244.45L490.33 245.26L490.06 245.41L488.83 246.07L487.48 246.8L487.32 246.89L485.81 247.7L485.81 248.18L485.81 249.57L485.81 250.96L485.81 252.35L485.81 253.73L485.81 255.12L485.81 256.51L485.81 257.89L485.81 259.28L485.81 260.67L485.81 262.06L485.81 262.16Z"/>
<path opacity=".8" fill="#b6d8e8" stroke="#b6d8e8" d="M487.32 277.61L487.88 277.32L488.83 276.83L490.33 276.04L490.55 275.93L491.84 275.26L493.22 274.54L493.35 274.48L494.85 273.7L495.89 273.15L496.36 272.91L497.87 272.13L498.56 271.77L499.37 271.35L500.88 270.56L501.23 270.38L502.39 269.78L503.89 268.99L503.89 268.99L505.4 268.21L506.56 267.61L506.91 267.43L508.41 266.64L509.22 266.22L509.92 265.86L511.43 265.07L511.88 264.83L512.93 264.29L514.44 263.5L514.54 263.44L515.95 262.72L517.2 262.06L517.45 261.93L518.96 261.14L519.86 260.67L520.46 260.36L521.97 259.57L522.52 259.28L523.48 258.78L524.98 257.99L525.17 257.89L526.49 257.21L527.83 256.51L528 256.42L529.5 255.64L530.48 255.12L531.01 254.85L532.52 254.06L533.14 253.73L534.02 253.27L535.53 252.48L535.79 252.35L537.04 251.69L538.43 250.96L538.54 250.9L540.05 250.12L541.08 249.57L541.56 249.33L543.06 248.54L543.73 248.18L544.57 247.75L546.08 246.96L546.38 246.8L547.58 246.17L549.02 245.41L549.09 245.37L550.6 244.59L551.66 244.02L552.1 243.79L553.61 243L554.31 242.64L555.12 242.21L556.62 241.42L556.95 241.25L558.13 240.63L559.58 239.86L559.64 239.83L561.14 239.05L562.22 238.47L562.65 238.25L564.16 237.46L564.86 237.09L565.66 236.67L567.17 235.87L567.5 235.7L568.68 235.08L570.13 234.31L570.18 234.28L571.69 233.49L572.76 232.93L573.2 232.7L574.7 231.91L575.39 231.54L576.21 231.11L577.72 230.31L578.02 230.15L579.22 229.52L580.65 228.76L580.73 228.72L582.24 227.93L583.28 227.38L583.74 227.13L585.25 226.34L585.91 225.99L586.75 225.54L588.26 224.74L588.53 224.6L589.77 223.95L591.15 223.22L591.27 223.15L592.78 222.36L593.77 221.83L594.29 221.56L595.79 220.76L596.4 220.44L597.3 219.96L598.81 219.16L599.01 219.05L600.31 218.37L601.63 217.67L601.82 217.57L603.33 216.77L604.25 216.28L604.83 215.97L606.34 215.17L606.86 214.89L607.85 214.37L609.35 213.57L609.47 213.51L610.86 212.77L612.09 212.12L612.37 211.97L613.87 211.17L614.7 210.73L615.38 210.37L616.89 209.57L617.31 209.34L618.39 208.77L619.9 207.96L619.91 207.96L621.41 207.17L622.52 206.57L622.91 206.36L624.42 205.56L625.13 205.18L625.93 204.76L627.43 203.95L627.73 203.79L628.94 203.15L630.33 202.41L630.45 202.35L631.95 201.55L632.93 201.02L633.46 200.74L634.97 199.94L635.53 199.63L636.47 199.13L637.98 198.33L638.13 198.25L639.49 197.52L640.72 196.86L640.99 196.72L642.5 195.91L643.32 195.47L644.01 195.11L645.51 194.3L645.91 194.08L647.02 193.5L648.5 192.7L648.53 192.68L650.03 191.88L651.09 191.31L651.54 191.07L653.04 190.27L653.68 189.92L654.55 189.46L656.06 188.65L656.27 188.54L657.56 187.84L658.85 187.15L659.07 187.03L660.58 186.23L661.44 185.76L662.08 185.42L663.59 184.61L664.02 184.37L665.1 183.8L666.6 182.99L666.6 182.98L668.11 182.18L669.18 181.6L669.62 181.37L671.12 180.56L671.76 180.21L672.63 179.75L674.14 178.93L674.33 178.83L675.64 178.12L676.91 177.44L677.15 177.31L678.66 176.5L679.48 176.05L680.16 175.69L681.67 174.87L682.05 174.66L683.18 174.06L684.62 173.28L684.68 173.24L686.19 172.43L687.19 171.89L687.7 171.62L689.2 170.81L689.76 170.5L690.71 169.99L692.22 169.17L692.32 169.12L693.72 168.36L694.89 167.73L695.23 167.54L696.74 166.73L697.45 166.34L698.24 165.91L699.75 165.1L700.01 164.95L701.26 164.28L702.57 163.57L702.76 163.46L704.27 162.65L705.13 162.18L705.78 161.83L707.28 161.01L707.68 160.79L708.79 160.19L710.23 159.41L710.3 159.37L711.8 158.56L712.79 158.02L713.31 157.74L714.82 156.92L715.34 156.63L716.32 156.1L717.83 155.28L717.89 155.24L719.33 154.46L720.44 153.86L720.84 153.64L722.35 152.82L722.98 152.47L723.85 152L725.36 151.17L725.52 151.08L726.87 150.35L728.07 149.69L728.37 149.53L729.88 148.71L730.61 148.31L731.39 147.88L732.89 147.06L733.15 146.92L734.4 146.24L735.68 145.53L735.91 145.41L737.41 144.59L738.22 144.15L738.92 143.76L740.43 142.94L740.75 142.76L741.93 142.11L743.28 141.37L743.44 141.29L744.95 140.46L745.82 139.98L746.45 139.64L747.96 138.81L748.34 138.6L749.47 137.98L750.87 137.21L750.97 137.15L752.48 136.33L753.4 135.82L753.99 135.5L755.49 134.67L755.92 134.44L757 133.84L758.44 133.05L758.51 133.01L760.01 132.19L760.96 131.66L761.52 131.35L763.03 130.52L763.48 130.27L764.53 129.7L765.99 128.89L766.04 128.86L767.55 128.03L768.51 127.5L769.05 127.2L770.56 126.37L771.02 126.11L772.07 125.54L773.53 124.73L773.57 124.7L775.08 123.87L776.04 123.34L776.59 123.04L778.09 122.2L778.55 121.95L779.6 121.37L781.05 120.56L781.11 120.53L782.61 119.7L783.56 119.18L784.12 118.87L785.62 118.03L785.62 117.79L785.62 116.4L785.62 115.02L785.62 113.63L785.62 112.24L785.62 110.85L785.62 109.47L785.62 108.08L785.62 106.69L785.62 105.31L785.62 103.92L785.62 102.53L785.62 101.14L785.62 99.76L785.62 98.37L785.62 97.77L784.58 98.37L784.12 98.63L782.61 99.5L782.16 99.76L781.11 100.36L779.73 101.14L779.6 101.22L778.09 102.08L777.3 102.53L776.59 102.94L775.08 103.8L774.86 103.92L773.57 104.65L772.43 105.31L772.07 105.51L770.56 106.37L769.99 106.69L769.05 107.23L767.55 108.08L767.55 108.08L766.04 108.94L765.11 109.47L764.53 109.8L763.03 110.65L762.67 110.85L761.52 111.51L760.23 112.24L760.01 112.36L758.51 113.22L757.78 113.63L757 114.07L755.49 114.92L755.33 115.02L753.99 115.78L752.88 116.4L752.48 116.63L750.97 117.48L750.43 117.79L749.47 118.33L747.97 119.18L747.96 119.18L746.45 120.04L745.52 120.56L744.95 120.89L743.44 121.74L743.06 121.95L741.93 122.59L740.6 123.34L740.43 123.43L738.92 124.28L738.14 124.73L737.41 125.13L735.91 125.98L735.67 126.11L734.4 126.83L733.21 127.5L732.89 127.68L731.39 128.52L730.74 128.89L729.88 129.37L728.37 130.21L728.27 130.27L726.87 131.06L725.8 131.66L725.36 131.91L723.85 132.75L723.32 133.05L722.35 133.6L720.85 134.44L720.84 134.44L719.33 135.28L718.37 135.82L717.83 136.13L716.32 136.97L715.89 137.21L714.82 137.81L713.41 138.6L713.31 138.65L711.8 139.5L710.93 139.98L710.3 140.34L708.79 141.18L708.44 141.37L707.28 142.02L705.96 142.76L705.78 142.86L704.27 143.7L703.47 144.15L702.76 144.54L701.26 145.38L700.98 145.53L699.75 146.22L698.49 146.92L698.24 147.06L696.74 147.89L695.99 148.31L695.23 148.73L693.72 149.57L693.5 149.69L692.22 150.41L691 151.08L690.71 151.24L689.2 152.08L688.5 152.47L687.7 152.92L686.19 153.75L686 153.86L684.68 154.59L683.5 155.24L683.18 155.42L681.67 156.26L680.99 156.63L680.16 157.09L678.66 157.92L678.49 158.02L677.15 158.76L675.98 159.41L675.64 159.59L674.14 160.42L673.47 160.79L672.63 161.26L671.12 162.09L670.96 162.18L669.62 162.92L668.45 163.57L668.11 163.75L666.6 164.58L665.93 164.95L665.1 165.41L663.59 166.24L663.41 166.34L662.08 167.08L660.9 167.73L660.58 167.9L659.07 168.73L658.38 169.12L657.56 169.56L656.06 170.39L655.86 170.5L654.55 171.22L653.33 171.89L653.04 172.05L651.54 172.88L650.81 173.28L650.03 173.7L648.53 174.53L648.28 174.66L647.02 175.36L645.75 176.05L645.51 176.18L644.01 177.01L643.22 177.44L642.5 177.84L640.99 178.66L640.69 178.83L639.49 179.49L638.16 180.21L637.98 180.31L636.47 181.14L635.63 181.6L634.97 181.96L633.46 182.78L633.09 182.99L631.95 183.61L630.55 184.37L630.45 184.43L628.94 185.26L628.01 185.76L627.43 186.08L625.93 186.9L625.47 187.15L624.42 187.72L622.93 188.54L622.91 188.54L621.41 189.37L620.38 189.92L619.9 190.19L618.39 191.01L617.84 191.31L616.89 191.83L615.38 192.65L615.29 192.7L613.87 193.47L612.74 194.08L612.37 194.29L610.86 195.11L610.19 195.47L609.35 195.93L607.85 196.74L607.64 196.86L606.34 197.56L605.08 198.25L604.83 198.38L603.33 199.2L602.53 199.63L601.82 200.02L600.31 200.83L599.97 201.02L598.81 201.65L597.41 202.41L597.3 202.47L595.79 203.29L594.85 203.79L594.29 204.1L592.78 204.92L592.29 205.18L591.27 205.73L589.77 206.55L589.73 206.57L588.26 207.36L587.16 207.96L586.75 208.18L585.25 208.99L584.6 209.34L583.74 209.81L582.24 210.62L582.03 210.73L580.73 211.43L579.46 212.12L579.22 212.25L577.72 213.06L576.89 213.51L576.21 213.87L574.7 214.68L574.32 214.89L573.2 215.5L571.74 216.28L571.69 216.31L570.18 217.12L569.17 217.67L568.68 217.93L567.17 218.74L566.59 219.05L565.66 219.55L564.16 220.36L564.01 220.44L562.65 221.18L561.43 221.83L561.14 221.98L559.64 222.8L558.85 223.22L558.13 223.6L556.62 224.41L556.27 224.6L555.12 225.22L553.69 225.99L553.61 226.03L552.1 226.84L551.1 227.38L550.6 227.65L549.09 228.46L548.51 228.76L547.58 229.26L546.08 230.07L545.92 230.15L544.57 230.88L543.34 231.54L543.06 231.68L541.56 232.49L540.74 232.93L540.05 233.3L538.54 234.1L538.15 234.31L537.04 234.91L535.56 235.7L535.53 235.71L534.02 236.52L532.96 237.09L532.52 237.33L531.01 238.13L530.37 238.47L529.5 238.94L528 239.74L527.77 239.86L526.49 240.54L525.17 241.25L524.98 241.35L523.48 242.15L522.57 242.64L521.97 242.95L520.46 243.76L519.96 244.02L518.96 244.56L517.45 245.36L517.36 245.41L515.95 246.17L514.76 246.8L514.44 246.97L512.93 247.77L512.15 248.18L511.43 248.57L509.92 249.37L509.54 249.57L508.41 250.17L506.93 250.96L506.91 250.97L505.4 251.78L504.32 252.35L503.89 252.57L502.39 253.38L501.71 253.73L500.88 254.18L499.37 254.97L499.1 255.12L497.87 255.77L496.48 256.51L496.36 256.57L494.85 257.37L493.87 257.89L493.35 258.17L491.84 258.97L491.25 259.28L490.33 259.77L488.83 260.57L488.63 260.67L487.32 261.36L486.01 262.06L485.81 262.16L485.81 263.44L485.81 264.83L485.81 266.22L485.81 267.61L485.81 268.99L485.81 270.38L485.81 271.77L485.81 273.15L485.81 274.54L485.81 275.93L485.81 277.32L485.81 278.39Z"/>
<path opacity=".8" fill="#4d99c6" stroke="#4d99c6" d="M487.32 302.72L488.17 302.28L488.83 301.96L490.33 301.2L490.93 300.9L491.84 300.44L493.35 299.68L493.68 299.51L494.85 298.92L496.36 298.16L496.43 298.12L497.87 297.41L499.18 296.74L499.37 296.64L500.88 295.88L501.93 295.35L502.39 295.12L503.89 294.36L504.68 293.96L505.4 293.6L506.91 292.84L507.43 292.57L508.41 292.08L509.92 291.32L510.17 291.19L511.43 290.56L512.91 289.8L512.93 289.79L514.44 289.04L515.66 288.41L515.95 288.27L517.45 287.51L518.41 287.03L518.96 286.75L520.46 285.99L521.15 285.64L521.97 285.23L523.48 284.46L523.89 284.25L524.98 283.7L526.49 282.93L526.63 282.86L528 282.18L529.37 281.48L529.5 281.41L531.01 280.65L532.11 280.09L532.52 279.88L534.02 279.12L534.84 278.7L535.53 278.36L537.04 277.59L537.58 277.32L538.54 276.83L540.05 276.06L540.31 275.93L541.56 275.3L543.04 274.54L543.06 274.53L544.57 273.77L545.78 273.15L546.08 273L547.58 272.24L548.51 271.77L549.09 271.48L550.6 270.71L551.24 270.38L552.1 269.95L553.61 269.18L553.97 268.99L555.12 268.42L556.62 267.64L556.7 267.61L558.13 266.88L559.43 266.22L559.64 266.11L561.14 265.35L562.15 264.83L562.65 264.58L564.16 263.82L564.88 263.44L565.66 263.05L567.17 262.28L567.6 262.06L568.68 261.52L570.18 260.74L570.32 260.67L571.69 259.98L573.05 259.28L573.2 259.21L574.7 258.44L575.77 257.89L576.21 257.67L577.72 256.91L578.49 256.51L579.22 256.14L580.73 255.37L581.21 255.12L582.24 254.6L583.74 253.83L583.92 253.73L585.25 253.06L586.64 252.35L586.75 252.29L588.26 251.52L589.36 250.96L589.77 250.75L591.27 249.98L592.07 249.57L592.78 249.21L594.29 248.44L594.78 248.18L595.79 247.67L597.3 246.9L597.49 246.8L598.81 246.13L600.2 245.41L600.31 245.35L601.82 244.59L602.92 244.02L603.33 243.81L604.83 243.04L605.62 242.64L606.34 242.27L607.85 241.5L608.33 241.25L609.35 240.73L610.86 239.95L611.03 239.86L612.37 239.18L613.74 238.47L613.87 238.41L615.38 237.64L616.45 237.09L616.89 236.86L618.39 236.09L619.15 235.7L619.9 235.32L621.41 234.54L621.85 234.31L622.91 233.77L624.42 232.99L624.55 232.93L625.93 232.22L627.25 231.54L627.43 231.44L628.94 230.67L629.95 230.15L630.45 229.9L631.95 229.12L632.64 228.76L633.46 228.35L634.97 227.57L635.34 227.38L636.47 226.8L637.98 226.02L638.03 225.99L639.49 225.25L640.72 224.6L640.99 224.47L642.5 223.69L643.42 223.22L644.01 222.91L645.51 222.14L646.11 221.83L647.02 221.36L648.53 220.58L648.79 220.44L650.03 219.81L651.48 219.05L651.54 219.02L653.04 218.25L654.17 217.67L654.55 217.47L656.06 216.7L656.86 216.28L657.56 215.92L659.07 215.14L659.54 214.89L660.58 214.36L662.08 213.58L662.22 213.51L663.59 212.8L664.9 212.12L665.1 212.02L666.6 211.24L667.58 210.73L668.11 210.46L669.62 209.68L670.26 209.34L671.12 208.9L672.63 208.12L672.94 207.96L674.14 207.34L675.61 206.57L675.64 206.55L677.15 205.78L678.29 205.18L678.66 204.99L680.16 204.22L680.97 203.79L681.67 203.43L683.18 202.65L683.64 202.41L684.68 201.87L686.19 201.08L686.31 201.02L687.7 200.31L688.98 199.63L689.2 199.52L690.71 198.74L691.65 198.25L692.22 197.95L693.72 197.17L694.32 196.86L695.23 196.39L696.74 195.6L696.98 195.47L698.24 194.82L699.64 194.08L699.75 194.03L701.26 193.25L702.31 192.7L702.76 192.46L704.27 191.68L704.97 191.31L705.78 190.9L707.28 190.11L707.63 189.92L708.79 189.32L710.29 188.54L710.3 188.53L711.8 187.75L712.95 187.15L713.31 186.96L714.82 186.18L715.61 185.76L716.32 185.39L717.83 184.6L718.26 184.37L719.33 183.82L720.84 183.02L720.91 182.99L722.35 182.24L723.57 181.6L723.85 181.45L725.36 180.67L726.22 180.21L726.87 179.88L728.37 179.09L728.87 178.83L729.88 178.3L731.39 177.51L731.51 177.44L732.89 176.72L734.16 176.05L734.4 175.93L735.91 175.14L736.81 174.66L737.41 174.35L738.92 173.56L739.45 173.28L740.43 172.77L741.93 171.97L742.09 171.89L743.44 171.19L744.73 170.5L744.95 170.39L746.45 169.6L747.38 169.12L747.96 168.81L749.47 168.02L750.01 167.73L750.97 167.23L752.48 166.43L752.65 166.34L753.99 165.64L755.28 164.95L755.49 164.84L757 164.06L757.92 163.57L758.51 163.26L760.01 162.47L760.55 162.18L761.52 161.67L763.03 160.87L763.18 160.79L764.53 160.09L765.81 159.41L766.04 159.29L767.55 158.49L768.44 158.02L769.05 157.7L770.56 156.9L771.07 156.63L772.07 156.11L773.57 155.31L773.69 155.24L775.08 154.51L776.31 153.86L776.59 153.71L778.09 152.92L778.94 152.47L779.6 152.12L781.11 151.32L781.56 151.08L782.61 150.53L784.12 149.72L784.17 149.69L785.62 148.93L785.62 148.31L785.62 146.92L785.62 145.53L785.62 144.15L785.62 142.76L785.62 141.37L785.62 139.98L785.62 138.6L785.62 137.21L785.62 135.82L785.62 134.44L785.62 133.05L785.62 131.66L785.62 130.27L785.62 128.89L785.62 127.5L785.62 126.11L785.62 124.73L785.62 123.34L785.62 121.95L785.62 120.56L785.62 119.18L785.62 118.03L784.12 118.87L783.56 119.18L782.61 119.7L781.11 120.53L781.05 120.56L779.6 121.37L778.55 121.95L778.09 122.2L776.59 123.04L776.04 123.34L775.08 123.87L773.57 124.7L773.53 124.73L772.07 125.54L771.02 126.11L770.56 126.37L769.05 127.2L768.51 127.5L767.55 128.03L766.04 128.86L765.99 128.89L764.53 129.7L763.48 130.27L763.03 130.52L761.52 131.35L760.96 131.66L760.01 132.19L758.51 133.01L758.44 133.05L757 133.84L755.92 134.44L755.49 134.67L753.99 135.5L753.4 135.82L752.48 136.33L750.97 137.15L750.87 137.21L749.47 137.98L748.34 138.6L747.96 138.81L746.45 139.64L745.82 139.98L744.95 140.46L743.44 141.29L743.28 141.37L741.93 142.11L740.75 142.76L740.43 142.94L738.92 143.76L738.22 144.15L737.41 144.59L735.91 145.41L735.68 145.53L734.4 146.24L733.15 146.92L732.89 147.06L731.39 147.88L730.61 148.31L729.88 148.71L728.37 149.53L728.07 149.69L726.87 150.35L725.52 151.08L725.36 151.17L723.85 152L722.98 152.47L722.35 152.82L720.84 153.64L720.44 153.86L719.33 154.46L717.89 155.24L717.83 155.28L716.32 156.1L715.34 156.63L714.82 156.92L713.31 157.74L712.79 158.02L711.8 158.56L710.3 159.37L710.23 159.41L708.79 160.19L707.68 160.79L707.28 161.01L705.78 161.83L705.13 162.18L704.27 162.65L702.76 163.46L702.57 163.57L701.26 164.28L700.01 164.95L699.75 165.1L698.24 165.91L697.45 166.34L696.74 166.73L695.23 167.54L694.89 167.73L693.72 168.36L692.32 169.12L692.22 169.17L690.71 169.99L689.76 170.5L689.2 170.81L687.7 171.62L687.19 171.89L686.19 172.43L684.68 173.24L684.62 173.28L683.18 174.06L682.05 174.66L681.67 174.87L680.16 175.69L679.48 176.05L678.66 176.5L677.15 177.31L676.91 177.44L675.64 178.12L674.33 178.83L674.14 178.93L672.63 179.75L671.76 180.21L671.12 180.56L669.62 181.37L669.18 181.6L668.11 182.18L666.6 182.98L666.6 182.99L665.1 183.8L664.02 184.37L663.59 184.61L662.08 185.42L661.44 185.76L660.58 186.23L659.07 187.03L658.85 187.15L657.56 187.84L656.27 188.54L656.06 188.65L654.55 189.46L653.68 189.92L653.04 190.27L651.54 191.07L651.09 191.31L650.03 191.88L648.53 192.68L648.5 192.7L647.02 193.5L645.91 194.08L645.51 194.3L644.01 195.11L643.32 195.47L642.5 195.91L640.99 196.72L640.72 196.86L639.49 197.52L638.13 198.25L637.98 198.33L636.47 199.13L635.53 199.63L634.97 199.94L633.46 200.74L632.93 201.02L631.95 201.55L630.45 202.35L630.33 202.41L628.94 203.15L627.73 203.79L627.43 203.95L625.93 204.76L625.13 205.18L624.42 205.56L622.91 206.36L622.52 206.57L621.41 207.17L619.91 207.96L619.9 207.96L618.39 208.77L617.31 209.34L616.89 209.57L615.38 210.37L614.7 210.73L613.87 211.17L612.37 211.97L612.09 212.12L610.86 212.77L609.47 213.51L609.35 213.57L607.85 214.37L606.86 214.89L606.34 215.17L604.83 215.97L604.25 216.28L603.33 216.77L601.82 217.57L601.63 217.67L600.31 218.37L599.01 219.05L598.81 219.16L597.3 219.96L596.4 220.44L595.79 220.76L594.29 221.56L593.77 221.83L592.78 222.36L591.27 223.15L591.15 223.22L589.77 223.95L588.53 224.6L588.26 224.74L586.75 225.54L585.91 225.99L585.25 226.34L583.74 227.13L583.28 227.38L582.24 227.93L580.73 228.72L580.65 228.76L579.22 229.52L578.02 230.15L577.72 230.31L576.21 231.11L575.39 231.54L574.7 231.91L573.2 232.7L572.76 232.93L571.69 233.49L570.18 234.28L570.13 234.31L568.68 235.08L567.5 235.7L567.17 235.87L565.66 236.67L564.86 237.09L564.16 237.46L562.65 238.25L562.22 238.47L561.14 239.05L559.64 239.83L559.58 239.86L558.13 240.63L556.95 241.25L556.62 241.42L555.12 242.21L554.31 242.64L553.61 243L552.1 243.79L551.66 244.02L550.6 244.59L549.09 245.37L549.02 245.41L547.58 246.17L546.38 246.8L546.08 246.96L544.57 247.75L543.73 248.18L543.06 248.54L541.56 249.33L541.08 249.57L540.05 250.12L538.54 250.9L538.43 250.96L537.04 251.69L535.79 252.35L535.53 252.48L534.02 253.27L533.14 253.73L532.52 254.06L531.01 254.85L530.48 255.12L529.5 255.64L528 256.42L527.83 256.51L526.49 257.21L525.17 257.89L524.98 257.99L523.48 258.78L522.52 259.28L521.97 259.57L520.46 260.36L519.86 260.67L518.96 261.14L517.45 261.93L517.2 262.06L515.95 262.72L514.54 263.44L514.44 263.5L512.93 264.29L511.88 264.83L511.43 265.07L509.92 265.86L509.22 266.22L508.41 266.64L506.91 267.43L506.56 267.61L505.4 268.21L503.89 268.99L503.89 268.99L502.39 269.78L501.23 270.38L500.88 270.56L499.37 271.35L498.56 271.77L497.87 272.13L496.36 272.91L495.89 273.15L494.85 273.7L493.35 274.48L493.22 274.54L491.84 275.26L490.55 275.93L490.33 276.04L488.83 276.83L487.88 277.32L487.32 277.61L485.81 278.39L485.81 278.7L485.81 280.09L485.81 281.48L485.81 282.86L485.81 284.25L485.81 285.64L485.81 287.03L485.81 288.41L485.81 289.8L485.81 291.19L485.81 292.57L485.81 293.96L485.81 295.35L485.81 296.74L485.81 298.12L485.81 299.51L485.81 300.9L485.81 302.28L485.81 303.48Z"/>
<path opacity=".8" fill="#1a5797" stroke="#1a5797" d="M487.32 313.38L488.83 313.38L490.33 313.38L491.84 313.38L493.35 313.38L494.85 313.38L496.36 313.38L497.87 313.38L499.37 313.38L500.88 313.38L502.39 313.38L503.89 313.38L505.4 313.38L506.91 313.38L508.41 313.38L509.92 313.38L511.43 313.38L512.93 313.38L514.44 313.38L515.95 313.38L517.45 313.38L518.96 313.38L520.46 313.38L521.97 313.38L523.48 313.38L524.98 313.38L526.49 313.38L528 313.38L529.5 313.38L531.01 313.38L532.52 313.38L534.02 313.38L535.53 313.38L537.04 313.38L538.54 313.38L540.05 313.38L541.56 313.38L543.06 313.38L544.57 313.38L546.08 313.38L547.58 313.38L549.09 313.38L550.6 313.38L552.1 313.38L553.61 313.38L555.12 313.38L556.62 313.38L558.13 313.38L559.64 313.38L561.14 313.38L562.65 313.38L564.16 313.38L565.66 313.38L567.17 313.38L568.68 313.38L570.18 313.38L571.69 313.38L573.2 313.38L574.7 313.38L576.21 313.38L577.72 313.38L579.22 313.38L580.73 313.38L582.24 313.38L583.74 313.38L585.25 313.38L586.75 313.38L588.26 313.38L589.77 313.38L591.27 313.38L592.78 313.38L594.29 313.38L595.79 313.38L597.3 313.38L598.81 313.38L600.31 313.38L601.82 313.38L603.33 313.38L604.83 313.38L606.34 313.38L607.85 313.38L609.35 313.38L610.86 313.38L612.37 313.38L613.87 313.38L615.38 313.38L616.89 313.38L618.39 313.38L619.9 313.38L621.41 313.38L622.91 313.38L624.42 313.38L625.93 313.38L627.43 313.38L628.94 313.38L630.45 313.38L631.95 313.38L633.46 313.38L634.97 313.38L636.47 313.38L637.98 313.38L639.49 313.38L640.99 313.38L642.5 313.38L644.01 313.38L645.51 313.38L647.02 313.38L648.53 313.38L650.03 313.38L651.54 313.38L653.04 313.38L654.55 313.38L656.06 313.38L657.56 313.38L659.07 313.38L660.58 313.38L662.08 313.38L663.59 313.38L665.1 313.38L666.6 313.38L668.11 313.38L669.62 313.38L671.12 313.38L672.63 313.38L674.14 313.38L675.64 313.38L677.15 313.38L678.66 313.38L680.16 313.38L681.67 313.38L683.18 313.38L684.68 313.38L686.19 313.38L687.7 313.38L689.2 313.38L690.71 313.38L692.22 313.38L693.72 313.38L695.23 313.38L696.74 313.38L698.24 313.38L699.75 313.38L701.26 313.38L702.76 313.38L704.27 313.38L705.78 313.38L707.28 313.38L708.79 313.38L710.3 313.38L711.8 313.38L713.31 313.38L714.82 313.38L716.32 313.38L717.83 313.38L719.33 313.38L720.84 313.38L722.35 313.38L723.85 313.38L725.36 313.38L726.87 313.38L728.37 313.38L729.88 313.38L731.39 313.38L732.89 313.38L734.4 313.38L735.91 313.38L737.41 313.38L738.92 313.38L740.43 313.38L741.93 313.38L743.44 313.38L744.95 313.38L746.45 313.38L747.96 313.38L749.47 313.38L750.97 313.38L752.48 313.38L753.99 313.38L755.49 313.38L757 313.38L758.51 313.38L760.01 313.38L761.52 313.38L763.03 313.38L764.53 313.38L766.04 313.38L767.55 313.38L769.05 313.38L770.56 313.38L772.07 313.38L773.57 313.38L775.08 313.38L776.59 313.38L778.09 313.38L779.6 313.38L781.11 313.38L782.61 313.38L784.12 313.38L785.62 313.38L785.62 312L785.62 310.61L785.62 309.22L785.62 307.83L785.62 306.45L785.62 305.06L785.62 303.67L785.62 302.28L785.62 300.9L785.62 299.51L785.62 298.12L785.62 296.74L785.62 295.35L785.62 293.96L785.62 292.57L785.62 291.19L785.62 289.8L785.62 288.41L785.62 287.03L785.62 285.64L785.62 284.25L785.62 282.86L785.62 281.48L785.62 280.09L785.62 278.7L785.62 277.32L785.62 275.93L785.62 274.54L785.62 273.15L785.62 271.77L785.62 270.38L785.62 268.99L785.62 267.61L785.62 266.22L785.62 264.83L785.62 263.44L785.62 262.06L785.62 260.67L785.62 259.28L785.62 257.89L785.62 256.51L785.62 255.12L785.62 253.73L785.62 252.35L785.62 250.96L785.62 249.57L785.62 248.18L785.62 246.8L785.62 245.41L785.62 244.02L785.62 242.64L785.62 241.25L785.62 239.86L785.62 238.47L785.62 237.09L785.62 235.7L785.62 234.31L785.62 232.93L785.62 231.54L785.62 230.15L785.62 228.76L785.62 227.38L785.62 225.99L785.62 224.6L785.62 223.22L785.62 221.83L785.62 220.44L785.62 219.05L785.62 217.67L785.62 216.28L785.62 214.89L785.62 213.51L785.62 212.12L785.62 210.73L785.62 209.34L785.62 207.96L785.62 206.57L785.62 205.18L785.62 203.79L785.62 202.41L785.62 201.02L785.62 199.63L785.62 198.25L785.62 196.86L785.62 195.47L785.62 194.08L785.62 192.7L785.62 191.31L785.62 189.92L785.62 188.54L785.62 187.15L785.62 185.76L785.62 184.37L785.62 182.99L785.62 181.6L785.62 180.21L785.62 178.83L785.62 177.44L785.62 176.05L785.62 174.66L785.62 173.28L785.62 171.89L785.62 170.5L785.62 169.12L785.62 167.73L785.62 166.34L785.62 164.95L785.62 163.57L785.62 162.18L785.62 160.79L785.62 159.41L785.62 158.02L785.62 156.63L785.62 155.24L785.62 153.86L785.62 152.47L785.62 151.08L785.62 149.69L785.62 148.93L784.17 149.69L784.12 149.72L782.61 150.53L781.56 151.08L781.11 151.32L779.6 152.12L778.94 152.47L778.09 152.92L776.59 153.71L776.31 153.86L775.08 154.51L773.69 155.24L773.57 155.31L772.07 156.11L771.07 156.63L770.56 156.9L769.05 157.7L768.44 158.02L767.55 158.49L766.04 159.29L765.81 159.41L764.53 160.09L763.18 160.79L763.03 160.87L761.52 161.67L760.55 162.18L760.01 162.47L758.51 163.26L757.92 163.57L757 164.06L755.49 164.84L755.28 164.95L753.99 165.64L752.65 166.34L752.48 166.43L750.97 167.23L750.01 167.73L749.47 168.02L747.96 168.81L747.38 169.12L746.45 169.6L744.95 170.39L744.73 170.5L743.44 171.19L742.09 171.89L741.93 171.97L740.43 172.77L739.45 173.28L738.92 173.56L737.41 174.35L736.81 174.66L735.91 175.14L734.4 175.93L734.16 176.05L732.89 176.72L731.51 177.44L731.39 177.51L729.88 178.3L728.87 178.83L728.37 179.09L726.87 179.88L726.22 180.21L725.36 180.67L723.85 181.45L723.57 181.6L722.35 182.24L720.91 182.99L720.84 183.02L719.33 183.82L718.26 184.37L717.83 184.6L716.32 185.39L715.61 185.76L714.82 186.18L713.31 186.96L712.95 187.15L711.8 187.75L710.3 188.53L710.29 188.54L708.79 189.32L707.63 189.92L707.28 190.11L705.78 190.9L704.97 191.31L704.27 191.68L702.76 192.46L702.31 192.7L701.26 193.25L699.75 194.03L699.64 194.08L698.24 194.82L696.98 195.47L696.74 195.6L695.23 196.39L694.32 196.86L693.72 197.17L692.22 197.95L691.65 198.25L690.71 198.74L689.2 199.52L688.98 199.63L687.7 200.31L686.31 201.02L686.19 201.08L684.68 201.87L683.64 202.41L683.18 202.65L681.67 203.43L680.97 203.79L680.16 204.22L678.66 204.99L678.29 205.18L677.15 205.78L675.64 206.55L675.61 206.57L674.14 207.34L672.94 207.96L672.63 208.12L671.12 208.9L670.26 209.34L669.62 209.68L668.11 210.46L667.58 210.73L666.6 211.24L665.1 212.02L664.9 212.12L663.59 212.8L662.22 213.51L662.08 213.58L660.58 214.36L659.54 214.89L659.07 215.14L657.56 215.92L656.86 216.28L656.06 216.7L654.55 217.47L654.17 217.67L653.04 218.25L651.54 219.02L651.48 219.05L650.03 219.81L648.79 220.44L648.53 220.58L647.02 221.36L646.11 221.83L645.51 222.14L644.01 222.91L643.42 223.22L642.5 223.69L640.99 224.47L640.72 224.6L639.49 225.25L638.03 225.99L637.98 226.02L636.47 226.8L635.34 227.38L634.97 227.57L633.46 228.35L632.64 228.76L631.95 229.12L630.45 229.9L629.95 230.15L628.94 230.67L627.43 231.44L627.25 231.54L625.93 232.22L624.55 232.93L624.42 232.99L622.91 233.77L621.85 234.31L621.41 234.54L619.9 235.32L619.15 235.7L618.39 236.09L616.89 236.86L616.45 237.09L615.38 237.64L613.87 238.41L613.74 238.47L612.37 239.18L611.03 239.86L610.86 239.95L609.35 240.73L608.33 241.25L607.85 241.5L606.34 242.27L605.62 242.64L604.83 243.04L603.33 243.81L602.92 244.02L601.82 244.59L600.31 245.35L600.2 245.41L598.81 246.13L597.49 246.8L597.3 246.9L595.79 247.67L594.78 248.18L594.29 248.44L592.78 249.21L592.07 249.57L591.27 249.98L589.77 250.75L589.36 250.96L588.26 251.52L586.75 252.29L586.64 252.35L585.25 253.06L583.92 253.73L583.74 253.83L582.24 254.6L581.21 255.12L580.73 255.37L579.22 256.14L578.49 256.51L577.72 256.91L576.21 257.67L575.77 257.89L574.7 258.44L573.2 259.21L573.05 259.28L571.69 259.98L570.32 260.67L570.18 260.74L568.68 261.52L567.6 262.06L567.17 262.28L565.66 263.05L564.88 263.44L564.16 263.82L562.65 264.58L562.15 264.83L561.14 265.35L559.64 266.11L559.43 266.22L558.13 266.88L556.7 267.61L556.62 267.64L555.12 268.42L553.97 268.99L553.61 269.18L552.1 269.95L551.24 270.38L550.6 270.71L549.09 271.48L548.51 271.77L547.58 272.24L546.08 273L545.78 273.15L544.57 273.77L543.06 274.53L543.04 274.54L541.56 275.3L540.31 275.93L540.05 276.06L538.54 276.83L537.58 277.32L537.04 277.59L535.53 278.36L534.84 278.7L534.02 279.12L532.52 279.88L532.11 280.09L531.01 280.65L529.5 281.41L529.37 281.48L528 282.18L526.63 282.86L526.49 282.93L524.98 283.7L523.89 284.25L523.48 284.46L521.97 285.23L521.15 285.64L520.46 285.99L518.96 286.75L518.41 287.03L517.45 287.51L515.95 288.27L515.66 288.41L514.44 289.04L512.93 289.79L512.91 289.8L511.43 290.56L510.17 291.19L509.92 291.32L508.41 292.08L507.43 292.57L506.91 292.84L505.4 293.6L504.68 293.96L503.89 294.36L502.39 295.12L501.93 295.35L500.88 295.88L499.37 296.64L499.18 296.74L497.87 297.41L496.43 298.12L496.36 298.16L494.85 298.92L493.68 299.51L493.35 299.68L491.84 300.44L490.93 300.9L490.33 301.2L488.83 301.96L488.17 302.28L487.32 302.72L485.81 303.48L485.81 303.67L485.81 305.06L485.81 306.45L485.81 307.83L485.81 309.22L485.81 310.61L485.81 312L485.81 313.38Z"/>
</g>
<g stroke="#000" stroke-width="1.47">
<ellipse cx="661.55" cy="130.26" rx="4.167" ry="4.167" fill="#f00"/>
<ellipse cx="595.97" cy="65.97" rx="4.167" ry="4.167" fill="#f00"/>
<ellipse cx="726.56" cy="153.8" rx="4.167" ry="4.167" fill="#00f"/>
<ellipse cx="604.43" cy="75.6" rx="4.167" ry="4.167" fill="#f00"/>
<ellipse cx="609.79" cy="235.13" rx="4.167" ry="4.167" fill="#00f"/>
<ellipse cx="541.7" cy="181.68" rx="4.167" ry="4.167" fill="#f00"/>
<ellipse cx="663.75" cy="303.59" rx="4.167" ry="4.167" fill="#00f"/>
<ellipse cx="718.84" cy="180.58" rx="4.167" ry="4.167" fill="#00f"/>
<ellipse cx="529.38" cy="194.97" rx="4.167" ry="4.167" fill="#f00"/>
<ellipse cx="631.7" cy="139.89" rx="4.167" ry="4.167" fill="#f00"/>
<ellipse cx="705.54" cy="305.21" rx="4.167" ry="4.167" fill="#00f"/>
<ellipse cx="664.8" cy="157.48" rx="4.167" ry="4.167" fill="#f00"/>
<ellipse cx="556" cy="220.57" rx="4.167" ry="4.167" fill="#00f"/>
<ellipse cx="586.82" cy="123.34" rx="4.167" ry="4.167" fill="#f00"/>
<ellipse cx="698.58" cy="254.78" rx="4.167" ry="4.167" fill="#00f"/>
<ellipse cx="627.94" cy="241.93" rx="4.167" ry="4.167" fill="#00f"/>
<ellipse cx="618.3" cy="123.03" rx="4.167" ry="4.167" fill="#f00"/>
<ellipse cx="575.3" cy="96.77" rx="4.167" ry="4.167" fill="#f00"/>
<ellipse cx="615.5" cy="54.36" rx="4.167" ry="4.167" fill="#f00"/>
<ellipse cx="672.3" cy="85.81" rx="4.167" ry="4.167" fill="#f00"/>
<ellipse cx="531.25" cy="87.53" rx="4.167" ry="4.167" fill="#f00"/>
<ellipse cx="522.43" cy="168.12" rx="4.167" ry="4.167" fill="#f00"/>
<ellipse cx="597.19" cy="163.15" rx="4.167" ry="4.167" fill="#00f"/>
<ellipse cx="611.29" cy="271.35" rx="4.167" ry="4.167" fill="#00f"/>
<ellipse cx="718.54" cy="166.17" rx="4.167" ry="4.167" fill="#00f"/>
<ellipse cx="623.88" cy="304.74" rx="4.167" ry="4.167" fill="#00f"/>
<ellipse cx="611.59" cy="155.64" rx="4.167" ry="4.167" fill="#f00"/>
<ellipse cx="485.81" cy="132.47" rx="4.167" ry="4.167" fill="#f00"/>
<ellipse cx="628.38" cy="142.53" rx="4.167" ry="4.167" fill="#f00"/>
<ellipse cx="670.91" cy="182.62" rx="4.167" ry="4.167" fill="#00f"/>
<ellipse cx="567.64" cy="92.47" rx="4.167" ry="4.167" fill="#f00"/>
<ellipse cx="630.73" cy="154.77" rx="4.167" ry="4.167" fill="#f00"/>
<ellipse cx="678.94" cy="205.29" rx="4.167" ry="4.167" fill="#f00"/>
<ellipse cx="613.76" cy="69.19" rx="4.167" ry="4.167" fill="#f00"/>
<ellipse cx="631.82" cy="262.55" rx="4.167" ry="4.167" fill="#f00"/>
<ellipse cx="737.6" cy="190.95" rx="4.167" ry="4.167" fill="#00f"/>
<ellipse cx="708.39" cy="282.03" rx="4.167" ry="4.167" fill="#00f"/>
<ellipse cx="507.24" cy="232.34" rx="4.167" ry="4.167" fill="#f00"/>
<ellipse cx="694.23" cy="313.38" rx="4.167" ry="4.167" fill="#00f"/>
<ellipse cx="702.15" cy="262.77" rx="4.167" ry="4.167" fill="#00f"/>
<ellipse cx="650.16" cy="144.36" rx="4.167" ry="4.167" fill="#f00"/>
<ellipse cx="650.14" cy="161.13" rx="4.167" ry="4.167" fill="#f00"/>
<ellipse cx="668.26" cy="75.32" rx="4.167" ry="4.167" fill="#f00"/>
<ellipse cx="564.6" cy="192.39" rx="4.167" ry="4.167" fill="#00f"/>
<ellipse cx="609.77" cy="136.28" rx="4.167" ry="4.167" fill="#00f"/>
<ellipse cx="498.53" cy="133.72" rx="4.167" ry="4.167" fill="#f00"/>
<ellipse cx="647.61" cy="301.38" rx="4.167" ry="4.167" fill="#00f"/>
<ellipse cx="514.04" cy="133.45" rx="4.167" ry="4.167" fill="#f00"/>
<ellipse cx="504.31" cy="132.96" rx="4.167" ry="4.167" fill="#f00"/>
<ellipse cx="667.77" cy="290.87" rx="4.167" ry="4.167" fill="#00f"/>
<ellipse cx="543.25" cy="133.02" rx="4.167" ry="4.167" fill="#f00"/>
<ellipse cx="785.62" cy="210.37" rx="4.167" ry="4.167" fill="#00f"/>
<ellipse cx="602.07" cy="206.59" rx="4.167" ry="4.167" fill="#00f"/>
<ellipse cx="647.95" cy="241.85" rx="4.167" ry="4.167" fill="#00f"/>
<ellipse cx="647.9" cy="262.96" rx="4.167" ry="4.167" fill="#00f"/>
<ellipse cx="583.81" cy="76.45" rx="4.167" ry="4.167" fill="#f00"/>
<ellipse cx="599.96" cy="247.98" rx="4.167" ry="4.167" fill="#00f"/>
<ellipse cx="663.76" cy="192.14" rx="4.167" ry="4.167" fill="#f00"/>
<ellipse cx="595.94" cy="135.35" rx="4.167" ry="4.167" fill="#f00"/>
<ellipse cx="667.62" cy="261.47" rx="4.167" ry="4.167" fill="#00f"/>
<ellipse cx="567.72" cy="94.18" rx="4.167" ry="4.167" fill="#f00"/>
<ellipse cx="645.54" cy="252.8" rx="4.167" ry="4.167" fill="#00f"/>
<ellipse cx="751.54" cy="187.54" rx="4.167" ry="4.167" fill="#00f"/>
<ellipse cx="499.15" cy="120.13" rx="4.167" ry="4.167" fill="#f00"/>
<ellipse cx="554.25" cy="97.13" rx="4.167" ry="4.167" fill="#f00"/>
<ellipse cx="503.48" cy="203.96" rx="4.167" ry="4.167" fill="#f00"/>
<ellipse cx="617.28" cy="168.72" rx="4.167" ry="4.167" fill="#00f"/>
<ellipse cx="644.86" cy="251.76" rx="4.167" ry="4.167" fill="#00f"/>
<ellipse cx="513.64" cy="144.7" rx="4.167" ry="4.167" fill="#f00"/>
<ellipse cx="577.23" cy="224.7" rx="4.167" ry="4.167" fill="#00f"/>
<ellipse cx="583.29" cy="86.34" rx="4.167" ry="4.167" fill="#f00"/>
<ellipse cx="582.3" cy="140.84" rx="4.167" ry="4.167" fill="#00f"/>
<ellipse cx="486.22" cy="37.33" rx="4.167" ry="4.167" fill="#f00"/>
<ellipse cx="680.14" cy="282.1" rx="4.167" ry="4.167" fill="#00f"/>
<ellipse cx="768.84" cy="170.74" rx="4.167" ry="4.167" fill="#00f"/>
<ellipse cx="710.24" cy="253.79" rx="4.167" ry="4.167" fill="#00f"/>
<ellipse cx="644.16" cy="100.23" rx="4.167" ry="4.167" fill="#f00"/>
<ellipse cx="570.2" cy="145.79" rx="4.167" ry="4.167" fill="#00f"/>
<ellipse cx="654.08" cy="201.99" rx="4.167" ry="4.167" fill="#00f"/>
<ellipse cx="596.76" cy="163.33" rx="4.167" ry="4.167" fill="#00f"/>
</g>
<g stroke="#000" stroke-width="1.47" fill-opacity="0.2" stroke-opacity="0.2">
<ellipse cx="680.75" cy="288.69" rx="4.167" ry="4.167" fill="#00f"/>
<ellipse cx="622.32" cy="327.23" rx="4.167" ry="4.167" fill="#00f"/>
<ellipse cx="658.9" cy="58.68" rx="4.167" ry="4.167" fill="#f00"/>
<ellipse cx="727.17" cy="219.45" rx="4.167" ry="4.167" fill="#00f"/>
<ellipse cx="514.17" cy="242.16" rx="4.167" ry="4.167" fill="#f00"/>
<ellipse cx="628.13" cy="176.25" rx="4.167" ry="4.167" fill="#f00"/>
<ellipse cx="509.12" cy="280.71" rx="4.167" ry="4.167" fill="#f00"/>
<ellipse cx="613.22" cy="204.36" rx="4.167" ry="4.167" fill="#00f"/>
<ellipse cx="688.95" cy="272.37" rx="4.167" ry="4.167" fill="#00f"/>
<ellipse cx="524.92" cy="204.07" rx="4.167" ry="4.167" fill="#f00"/>
<ellipse cx="530.48" cy="164.37" rx="4.167" ry="4.167" fill="#f00"/>
<ellipse cx="694.53" cy="320.47" rx="4.167" ry="4.167" fill="#00f"/>
<ellipse cx="777.71" cy="183.22" rx="4.167" ry="4.167" fill="#00f"/>
<ellipse cx="572.35" cy="80.12" rx="4.167" ry="4.167" fill="#f00"/>
<ellipse cx="755.38" cy="108.82" rx="4.167" ry="4.167" fill="#00f"/>
<ellipse cx="682.13" cy="303.28" rx="4.167" ry="4.167" fill="#00f"/>
<ellipse cx="632.78" cy="212.07" rx="4.167" ry="4.167" fill="#00f"/>
<ellipse cx="479.46" cy="137.53" rx="4.167" ry="4.167" fill="#f00"/>
<ellipse cx="541.74" cy="125.43" rx="4.167" ry="4.167" fill="#f00"/>
<ellipse cx="533.3" cy="139.91" rx="4.167" ry="4.167" fill="#00f"/>
</g>
</g>
<g fill="#000">
<rect x="504.944" y="342.5" width="1.111" height="5"/>
<rect x="580.944" y="342.5" width="1.111" height="5"/>
<rect x="656.944" y="342.5" width="1.111" height="5"/>
<rect x="733.944" y="342.5" width="1.111" height="5"/>
<rect x="459.5" y="284.944" width="5" height="1.111"/>
<rect x="459.5" y="220.944" width="5" height="1.111"/>
<rect x="459.5" y="157.944" width="5" height="1.111"/>
<rect x="459.5" y="94.944" width="5" height="1.111"/>
<rect x="463.944" y="36.944" width="1.111" height="306.111"/>
<rect x="785.944" y="36.944" width="1.111" height="306.111"/>
<rect x="463.944" y="36.944" width="323.111" height="1.111"/>
<rect x="463.944" y="341.944" width="323.111" height="1.111"/>
</g>
<g clip-path="url(#c2)">
<g shape-rendering="crispEdges" stroke-width="1.2" stroke-linejoin="round">
<path opacity=".8" fill="#971027" stroke="#971027" d="M900.88 341.72L902.32 341.72L903.75 341.72L905.19 341.72L906.62 341.72L908.06 341.72L909.49 341.72L910.93 341.72L912.36 341.72L913.8 341.72L915.23 341.72L916.67 341.72L918.1 341.72L919.54 341.72L920.97 341.72L922.41 341.72L923.84 341.72L925.28 341.72L926.71 341.72L928.15 341.72L929.58 341.72L931.02 341.72L932.45 341.72L933.89 341.72L935.32 341.72L936.76 341.72L938.19 341.72L939.62 341.72L941.06 341.72L942.49 341.72L943.93 341.72L945.36 341.72L946.8 341.72L948.23 341.72L949.67 341.72L951.1 341.72L952.54 341.72L953.97 341.72L954.02 341.72L953.97 341.68L952.56 340.19L952.54 340.17L951.14 338.66L951.1 338.62L949.76 337.13L949.67 337.03L948.41 335.6L948.23 335.4L947.09 334.07L946.8 333.73L945.8 332.54L945.36 332.01L944.55 331.02L943.93 330.25L943.32 329.49L942.49 328.44L942.11 327.96L941.06 326.58L940.94 326.43L939.79 324.9L939.62 324.67L938.66 323.37L938.19 322.71L937.56 321.84L936.76 320.69L936.49 320.31L935.43 318.78L935.32 318.61L934.4 317.25L933.89 316.48L933.38 315.72L932.45 314.27L932.4 314.19L931.42 312.66L931.02 312L930.47 311.13L929.58 309.66L929.54 309.6L928.63 308.07L928.15 307.24L927.73 306.54L926.86 305.01L926.71 304.75L926 303.48L925.28 302.16L925.16 301.95L924.33 300.42L923.84 299.49L923.53 298.89L922.73 297.36L922.41 296.72L921.96 295.83L921.2 294.3L920.97 293.84L920.45 292.78L919.72 291.25L919.54 290.84L919.01 289.72L918.31 288.19L918.1 287.72L917.62 286.66L916.95 285.13L916.67 284.46L916.29 283.6L915.65 282.07L915.23 281.05L915.02 280.54L914.4 279.01L913.8 277.48L913.8 277.47L913.2 275.95L912.62 274.42L912.36 273.7L912.06 272.89L911.5 271.36L910.97 269.83L910.93 269.72L910.43 268.3L909.91 266.77L909.49 265.48L909.41 265.24L908.91 263.71L908.43 262.18L908.06 260.95L907.97 260.65L907.5 259.12L907.05 257.59L906.62 256.07L906.62 256.06L906.19 254.54L905.78 253.01L905.37 251.48L905.19 250.73L904.98 249.95L904.6 248.42L904.22 246.89L903.87 245.36L903.75 244.85L903.51 243.83L903.17 242.3L902.84 240.77L902.52 239.24L902.32 238.21L902.21 237.71L901.91 236.18L901.62 234.65L901.34 233.12L901.07 231.59L900.88 230.46L900.81 230.06L900.56 228.53L900.32 227L900.08 225.47L899.86 223.94L899.65 222.41L899.45 220.88L899.45 220.82L899.45 220.88L899.45 222.41L899.45 223.94L899.45 225.47L899.45 227L899.45 228.53L899.45 230.06L899.45 231.59L899.45 233.12L899.45 234.65L899.45 236.18L899.45 237.71L899.45 239.24L899.45 240.77L899.45 242.3L899.45 243.83L899.45 245.36L899.45 246.89L899.45 248.42L899.45 249.95L899.45 251.48L899.45 253.01L899.45 254.54L899.45 256.07L899.45 257.59L899.45 259.12L899.45 260.65L899.45 262.18L899.45 263.71L899.45 265.24L899.45 266.77L899.45 268.3L899.45 269.83L899.45 271.36L899.45 272.89L899.45 274.42L899.45 275.95L899.45 277.48L899.45 279.01L899.45 280.54L899.45 282.07L899.45 283.6L899.45 285.13L899.45 286.66L899.45 288.19L899.45 289.72L899.45 291.25L899.45 292.78L899.45 294.3L899.45 295.83L899.45 297.36L899.45 298.89L899.45 300.42L899.45 301.95L899.45 303.48L899.45 305.01L899.45 306.54L899.45 308.07L899.45 309.6L899.45 311.13L899.45 312.66L899.45 314.19L899.45 315.72L899.45 317.25L899.45 318.78L899.45 320.31L899.45 321.84L899.45 323.37L899.45 324.9L899.45 326.43L899.45 327.96L899.45 329.49L899.45 331.02L899.45 332.54L899.45 334.07L899.45 335.6L899.45 337.13L899.45 338.66L899.45 340.19L899.45 341.72ZM1140.52 341.72L1141.95 341.72L1143.39 341.72L1144.82 341.72L1146.26 341.72L1147.69 341.72L1149.13 341.72L1150.56 341.72L1152 341.72L1153.43 341.72L1154.87 341.72L1156.3 341.72L1157.74 341.72L1159.17 341.72L1160.61 341.72L1162.04 341.72L1163.48 341.72L1164.91 341.72L1166.35 341.72L1167.78 341.72L1169.22 341.72L1170.65 341.72L1172.09 341.72L1173.52 341.72L1174.96 341.72L1176.39 341.72L1177.83 341.72L1179.26 341.72L1180.7 341.72L1182.13 341.72L1183.57 341.72L1185 341.72L1185 340.19L1185 338.66L1185 337.13L1185 335.6L1185 334.07L1185 332.54L1185 331.02L1185 329.49L1185 327.96L1185 326.43L1185 324.9L1185 323.37L1185 321.84L1185 320.31L1185 318.78L1185 317.25L1185 315.72L1185 314.19L1185 312.66L1185 311.13L1185 309.6L1185 308.07L1185 306.54L1185 305.01L1185 303.48L1185 301.95L1185 300.42L1185 298.89L1185 297.36L1185 295.83L1185 294.3L1185 292.78L1185 291.25L1185 289.72L1185 288.19L1185 286.66L1185 285.13L1185 283.6L1185 282.07L1185 280.54L1185 279.01L1185 277.48L1185 275.95L1185 274.42L1185 272.89L1185 271.36L1185 269.83L1185 268.3L1185 266.77L1185 265.24L1185 264.58L1184.79 265.24L1184.29 266.77L1183.77 268.3L1183.57 268.87L1183.24 269.83L1182.7 271.36L1182.14 272.89L1182.13 272.91L1181.58 274.42L1181 275.95L1180.7 276.72L1180.4 277.48L1179.8 279.01L1179.26 280.34L1179.18 280.54L1178.55 282.07L1177.9 283.6L1177.83 283.78L1177.25 285.13L1176.58 286.66L1176.39 287.07L1175.89 288.19L1175.19 289.72L1174.96 290.22L1174.48 291.25L1173.75 292.78L1173.52 293.24L1173 294.3L1172.24 295.83L1172.09 296.14L1171.47 297.36L1170.67 298.89L1170.65 298.93L1169.87 300.42L1169.22 301.63L1169.04 301.95L1168.2 303.48L1167.78 304.23L1167.34 305.01L1166.46 306.54L1166.35 306.74L1165.57 308.07L1164.91 309.18L1164.66 309.6L1163.73 311.13L1163.48 311.53L1162.78 312.66L1162.04 313.82L1161.8 314.19L1160.81 315.72L1160.61 316.03L1159.8 317.25L1159.17 318.18L1158.77 318.78L1157.74 320.27L1157.71 320.31L1156.64 321.84L1156.3 322.3L1155.54 323.37L1154.87 324.28L1154.41 324.9L1153.43 326.2L1153.26 326.43L1152.08 327.96L1152 328.07L1150.88 329.49L1150.56 329.89L1149.65 331.02L1149.13 331.66L1148.4 332.54L1147.69 333.39L1147.11 334.07L1146.26 335.07L1145.79 335.6L1144.82 336.7L1144.44 337.13L1143.39 338.3L1143.06 338.66L1141.95 339.86L1141.64 340.19L1140.52 341.38L1140.19 341.72ZM899.5 155.11L899.7 153.58L899.92 152.05L900.14 150.52L900.37 148.99L900.62 147.46L900.87 145.93L900.88 145.9L901.13 144.4L901.4 142.88L901.69 141.35L901.98 139.82L902.29 138.29L902.32 138.15L902.6 136.76L902.92 135.23L903.25 133.7L903.6 132.17L903.75 131.51L903.95 130.64L904.31 129.11L904.69 127.58L905.08 126.05L905.19 125.63L905.47 124.52L905.87 122.99L906.29 121.46L906.62 120.3L906.72 119.93L907.16 118.4L907.61 116.87L908.06 115.41L908.08 115.34L908.55 113.81L909.03 112.28L909.49 110.88L909.53 110.75L910.04 109.22L910.56 107.69L910.93 106.64L911.09 106.16L911.63 104.64L912.19 103.11L912.36 102.66L912.76 101.58L913.34 100.05L913.8 98.89L913.94 98.52L914.54 96.99L915.17 95.46L915.23 95.31L915.8 93.93L916.45 92.4L916.67 91.9L917.11 90.87L917.78 89.34L918.1 88.64L918.47 87.81L919.18 86.28L919.54 85.52L919.89 84.75L920.63 83.22L920.97 82.52L921.38 81.69L922.14 80.16L922.41 79.64L922.92 78.63L923.72 77.1L923.84 76.87L924.53 75.57L925.28 74.2L925.36 74.04L926.2 72.51L926.71 71.61L927.06 70.98L927.95 69.45L928.15 69.12L928.84 67.93L929.58 66.7L929.76 66.4L930.7 64.87L931.02 64.36L931.65 63.34L932.45 62.09L932.63 61.81L933.62 60.28L933.89 59.88L934.64 58.75L935.32 57.75L935.68 57.22L936.74 55.69L936.76 55.67L937.82 54.16L938.19 53.65L938.93 52.63L939.62 51.69L940.06 51.1L941.06 49.78L941.22 49.57L942.4 48.04L942.49 47.92L943.61 46.51L943.93 46.11L944.84 44.98L945.36 44.35L946.11 43.45L946.8 42.63L947.4 41.92L948.23 40.96L948.73 40.39L949.67 39.33L950.08 38.86L951.1 37.74L951.48 37.33L951.1 37.33L949.67 37.33L948.23 37.33L946.8 37.33L945.36 37.33L943.93 37.33L942.49 37.33L941.06 37.33L939.62 37.33L938.19 37.33L936.76 37.33L935.32 37.33L933.89 37.33L932.45 37.33L931.02 37.33L929.58 37.33L928.15 37.33L926.71 37.33L925.28 37.33L923.84 37.33L922.41 37.33L920.97 37.33L919.54 37.33L918.1 37.33L916.67 37.33L915.23 37.33L913.8 37.33L912.36 37.33L910.93 37.33L909.49 37.33L908.06 37.33L906.62 37.33L905.19 37.33L903.75 37.33L902.32 37.33L900.88 37.33L899.45 37.33L899.45 38.86L899.45 40.39L899.45 41.92L899.45 43.45L899.45 44.98L899.45 46.51L899.45 48.04L899.45 49.57L899.45 51.1L899.45 52.63L899.45 54.16L899.45 55.69L899.45 57.22L899.45 58.75L899.45 60.28L899.45 61.81L899.45 63.34L899.45 64.87L899.45 66.4L899.45 67.93L899.45 69.45L899.45 70.98L899.45 72.51L899.45 74.04L899.45 75.57L899.45 77.1L899.45 78.63L899.45 80.16L899.45 81.69L899.45 83.22L899.45 84.75L899.45 86.28L899.45 87.81L899.45 89.34L899.45 90.87L899.45 92.4L899.45 93.93L899.45 95.46L899.45 96.99L899.45 98.52L899.45 100.05L899.45 101.58L899.45 103.11L899.45 104.64L899.45 106.16L899.45 107.69L899.45 109.22L899.45 110.75L899.45 112.28L899.45 113.81L899.45 115.34L899.45 116.87L899.45 118.4L899.45 119.93L899.45 121.46L899.45 122.99L899.45 124.52L899.45 126.05L899.45 127.58L899.45 129.11L899.45 130.64L899.45 132.17L899.45 133.7L899.45 135.23L899.45 136.76L899.45 138.29L899.45 139.82L899.45 141.35L899.45 142.88L899.45 144.4L899.45 145.93L899.45 147.46L899.45 148.99L899.45 150.52L899.45 152.05L899.45 153.58L899.45 155.11L899.45 155.55ZM1185 111.78L1185 110.75L1185 109.22L1185 107.69L1185 106.16L1185 104.64L1185 103.11L1185 101.58L1185 100.05L1185 98.52L1185 96.99L1185 95.46L1185 93.93L1185 92.4L1185 90.87L1185 89.34L1185 87.81L1185 86.28L1185 84.75L1185 83.22L1185 81.69L1185 80.16L1185 78.63L1185 77.1L1185 75.57L1185 74.04L1185 72.51L1185 70.98L1185 69.45L1185 67.93L1185 66.4L1185 64.87L1185 63.34L1185 61.81L1185 60.28L1185 58.75L1185 57.22L1185 55.69L1185 54.16L1185 52.63L1185 51.1L1185 49.57L1185 48.04L1185 46.51L1185 44.98L1185 43.45L1185 41.92L1185 40.39L1185 38.86L1185 37.33L1183.57 37.33L1182.13 37.33L1180.7 37.33L1179.26 37.33L1177.83 37.33L1176.39 37.33L1174.96 37.33L1173.52 37.33L1172.09 37.33L1170.65 37.33L1169.22 37.33L1167.78 37.33L1166.35 37.33L1164.91 37.33L1163.48 37.33L1162.04 37.33L1160.61 37.33L1159.17 37.33L1157.74 37.33L1156.3 37.33L1154.87 37.33L1153.43 37.33L1152 37.33L1150.56 37.33L1149.13 37.33L1147.69 37.33L1146.26 37.33L1144.82 37.33L1143.39 37.33L1142.72 37.33L1143.39 38.06L1144.12 38.86L1144.82 39.65L1145.47 40.39L1146.26 41.29L1146.8 41.92L1147.69 42.97L1148.09 43.45L1149.13 44.7L1149.36 44.98L1150.56 46.48L1150.59 46.51L1151.8 48.04L1152 48.29L1152.98 49.57L1153.43 50.16L1154.14 51.1L1154.87 52.08L1155.27 52.63L1156.3 54.06L1156.37 54.16L1157.46 55.69L1157.74 56.09L1158.52 57.22L1159.17 58.18L1159.56 58.75L1160.57 60.28L1160.61 60.33L1161.57 61.81L1162.04 62.54L1162.55 63.34L1163.48 64.83L1163.5 64.87L1164.44 66.4L1164.91 67.18L1165.36 67.93L1166.25 69.45L1166.35 69.62L1167.14 70.98L1167.78 72.13L1168 72.51L1168.84 74.04L1169.22 74.73L1169.67 75.57L1170.48 77.1L1170.65 77.43L1171.28 78.63L1172.05 80.16L1172.09 80.22L1172.82 81.69L1173.52 83.13L1173.57 83.22L1174.31 84.75L1174.96 86.14L1175.02 86.28L1175.73 87.81L1176.39 89.29L1176.41 89.34L1177.09 90.87L1177.75 92.4L1177.83 92.58L1178.4 93.93L1179.03 95.46L1179.26 96.02L1179.66 96.99L1180.26 98.52L1180.7 99.64L1180.86 100.05L1181.44 101.58L1182.01 103.11L1182.13 103.45L1182.57 104.64L1183.11 106.16L1183.57 107.48L1183.64 107.69L1184.16 109.22L1184.67 110.75Z"/>
<path opacity=".8" fill="#d35849" stroke="#d35849" d="M953.97 341.68L954.02 341.72L955.41 341.72L956.84 341.72L958.28 341.72L959.71 341.72L961.15 341.72L962.58 341.72L964.02 341.72L965.45 341.72L966.89 341.72L968.32 341.72L969.76 341.72L971.19 341.72L972.63 341.72L974.06 341.72L975.5 341.72L976.93 341.72L978.37 341.72L979.8 341.72L981.24 341.72L982.67 341.72L984.11 341.72L985.54 341.72L986.98 341.72L988.41 341.72L989.85 341.72L991.28 341.72L992.23 341.72L991.28 341.14L989.85 340.23L989.8 340.19L988.41 339.29L987.49 338.66L986.98 338.32L985.54 337.32L985.29 337.13L984.11 336.29L983.18 335.6L982.67 335.23L981.24 334.13L981.17 334.07L979.8 333.01L979.23 332.54L978.37 331.85L977.37 331.02L976.93 330.65L975.57 329.49L975.5 329.42L974.06 328.16L973.84 327.96L972.63 326.86L972.16 326.43L971.19 325.52L970.54 324.9L969.76 324.14L968.97 323.37L968.32 322.72L967.45 321.84L966.89 321.26L965.98 320.31L965.45 319.76L964.54 318.78L964.02 318.21L963.15 317.25L962.58 316.61L961.8 315.72L961.15 314.97L960.48 314.19L959.71 313.28L959.2 312.66L958.28 311.54L957.95 311.13L956.84 309.74L956.74 309.6L955.55 308.07L955.41 307.88L954.4 306.54L953.97 305.97L953.27 305.01L952.54 303.99L952.17 303.48L951.1 301.95L951.1 301.95L950.06 300.42L949.67 299.84L949.04 298.89L948.23 297.66L948.04 297.36L947.07 295.83L946.8 295.4L946.12 294.3L945.36 293.06L945.19 292.78L944.29 291.25L943.93 290.63L943.4 289.72L942.54 288.19L942.49 288.1L941.69 286.66L941.06 285.48L940.87 285.13L940.07 283.6L939.62 282.74L939.28 282.07L938.51 280.54L938.19 279.88L937.76 279.01L937.03 277.48L936.76 276.9L936.31 275.95L935.61 274.42L935.32 273.76L934.93 272.89L934.26 271.36L933.89 270.47L933.61 269.83L932.98 268.3L932.45 266.99L932.36 266.77L931.76 265.24L931.17 263.71L931.02 263.3L930.59 262.18L930.03 260.65L929.58 259.38L929.49 259.12L928.96 257.59L928.44 256.07L928.15 255.17L927.94 254.54L927.44 253.01L926.97 251.48L926.71 250.62L926.5 249.95L926.05 248.42L925.62 246.89L925.28 245.66L925.19 245.36L924.78 243.83L924.38 242.3L923.99 240.77L923.84 240.15L923.62 239.24L923.25 237.71L922.9 236.18L922.56 234.65L922.41 233.91L922.24 233.12L921.92 231.59L921.61 230.06L921.32 228.53L921.04 227L920.97 226.58L920.77 225.47L920.52 223.94L920.27 222.41L920.03 220.88L919.81 219.35L919.6 217.83L919.54 217.35L919.4 216.3L919.2 214.77L919.02 213.24L918.85 211.71L918.69 210.18L918.55 208.65L918.41 207.12L918.29 205.59L918.17 204.06L918.1 203.01L918.07 202.53L917.97 201L917.89 199.47L917.82 197.94L917.75 196.41L917.7 194.88L917.66 193.35L917.63 191.82L917.61 190.29L917.6 188.76L917.6 187.23L917.61 185.7L917.64 184.17L917.67 182.64L917.71 181.12L917.77 179.59L917.83 178.06L917.91 176.53L917.99 175L918.09 173.47L918.1 173.34L918.2 171.94L918.32 170.41L918.44 168.88L918.58 167.35L918.73 165.82L918.89 164.29L919.06 162.76L919.25 161.23L919.44 159.7L919.54 159.01L919.65 158.17L919.86 156.64L920.09 155.11L920.33 153.58L920.58 152.05L920.84 150.52L920.97 149.78L921.11 148.99L921.39 147.46L921.69 145.93L921.99 144.4L922.31 142.88L922.41 142.45L922.64 141.35L922.98 139.82L923.34 138.29L923.7 136.76L923.84 136.21L924.08 135.23L924.47 133.7L924.87 132.17L925.28 130.7L925.29 130.64L925.72 129.11L926.16 127.58L926.61 126.05L926.71 125.74L927.08 124.52L927.56 122.99L928.06 121.46L928.15 121.19L928.56 119.93L929.08 118.4L929.58 116.98L929.62 116.87L930.16 115.34L930.73 113.81L931.02 113.06L931.31 112.28L931.9 110.75L932.45 109.37L932.51 109.22L933.13 107.69L933.77 106.16L933.89 105.89L934.42 104.64L935.09 103.11L935.32 102.6L935.78 101.58L936.48 100.05L936.76 99.46L937.2 98.52L937.94 96.99L938.19 96.48L938.69 95.46L939.47 93.93L939.62 93.62L940.25 92.4L941.06 90.88L941.07 90.87L941.89 89.34L942.49 88.26L942.74 87.81L943.61 86.28L943.93 85.73L944.5 84.75L945.36 83.3L945.41 83.22L946.34 81.69L946.8 80.96L947.3 80.16L948.23 78.7L948.28 78.63L949.28 77.1L949.67 76.52L950.3 75.57L951.1 74.41L951.36 74.04L952.43 72.51L952.54 72.37L953.54 70.98L953.97 70.39L954.67 69.45L955.41 68.48L955.83 67.93L956.84 66.62L957.02 66.4L958.25 64.87L958.28 64.83L959.5 63.34L959.71 63.08L960.79 61.81L961.15 61.39L962.12 60.28L962.58 59.75L963.48 58.75L964.02 58.15L964.88 57.22L965.45 56.6L966.32 55.69L966.89 55.1L967.81 54.16L968.32 53.64L969.34 52.63L969.76 52.22L970.92 51.1L971.19 50.84L972.56 49.57L972.63 49.5L974.06 48.2L974.24 48.04L975.5 46.94L975.99 46.51L976.93 45.71L977.8 44.98L978.37 44.51L979.68 43.45L979.8 43.36L981.24 42.23L981.64 41.92L982.67 41.13L983.68 40.39L984.11 40.07L985.54 39.04L985.8 38.86L986.98 38.04L988.03 37.33L986.98 37.33L985.54 37.33L984.11 37.33L982.67 37.33L981.24 37.33L979.8 37.33L978.37 37.33L976.93 37.33L975.5 37.33L974.06 37.33L972.63 37.33L971.19 37.33L969.76 37.33L968.32 37.33L966.89 37.33L965.45 37.33L964.02 37.33L962.58 37.33L961.15 37.33L959.71 37.33L958.28 37.33L956.84 37.33L955.41 37.33L953.97 37.33L952.54 37.33L951.48 37.33L951.1 37.74L950.08 38.86L949.67 39.33L948.73 40.39L948.23 40.96L947.4 41.92L946.8 42.63L946.11 43.45L945.36 44.35L944.84 44.98L943.93 46.11L943.61 46.51L942.49 47.92L942.4 48.04L941.22 49.57L941.06 49.78L940.06 51.1L939.62 51.69L938.93 52.63L938.19 53.65L937.82 54.16L936.76 55.67L936.74 55.69L935.68 57.22L935.32 57.75L934.64 58.75L933.89 59.88L933.62 60.28L932.63 61.81L932.45 62.09L931.65 63.34L931.02 64.36L930.7 64.87L929.76 66.4L929.58 66.7L928.84 67.93L928.15 69.12L927.95 69.45L927.06 70.98L926.71 71.61L926.2 72.51L925.36 74.04L925.28 74.2L924.53 75.57L923.84 76.87L923.72 77.1L922.92 78.63L922.41 79.64L922.14 80.16L921.38 81.69L920.97 82.52L920.63 83.22L919.89 84.75L919.54 85.52L919.18 86.28L918.47 87.81L918.1 88.64L917.78 89.34L917.11 90.87L916.67 91.9L916.45 92.4L915.8 93.93L915.23 95.31L915.17 95.46L914.54 96.99L913.94 98.52L913.8 98.89L913.34 100.05L912.76 101.58L912.36 102.66L912.19 103.11L911.63 104.64L911.09 106.16L910.93 106.64L910.56 107.69L910.04 109.22L909.53 110.75L909.49 110.88L909.03 112.28L908.55 113.81L908.08 115.34L908.06 115.41L907.61 116.87L907.16 118.4L906.72 119.93L906.62 120.3L906.29 121.46L905.87 122.99L905.47 124.52L905.19 125.63L905.08 126.05L904.69 127.58L904.31 129.11L903.95 130.64L903.75 131.51L903.6 132.17L903.25 133.7L902.92 135.23L902.6 136.76L902.32 138.15L902.29 138.29L901.98 139.82L901.69 141.35L901.4 142.88L901.13 144.4L900.88 145.9L900.87 145.93L900.62 147.46L900.37 148.99L900.14 150.52L899.92 152.05L899.7 153.58L899.5 155.11L899.45 155.55L899.45 156.64L899.45 158.17L899.45 159.7L899.45 161.23L899.45 162.76L899.45 164.29L899.45 165.82L899.45 167.35L899.45 168.88L899.45 170.41L899.45 171.94L899.45 173.47L899.45 175L899.45 176.53L899.45 178.06L899.45 179.59L899.45 181.12L899.45 182.64L899.45 184.17L899.45 185.7L899.45 187.23L899.45 188.76L899.45 190.29L899.45 191.82L899.45 193.35L899.45 194.88L899.45 196.41L899.45 197.94L899.45 199.47L899.45 201L899.45 202.53L899.45 204.06L899.45 205.59L899.45 207.12L899.45 208.65L899.45 210.18L899.45 211.71L899.45 213.24L899.45 214.77L899.45 216.3L899.45 217.83L899.45 219.35L899.45 220.82L899.45 220.88L899.65 222.41L899.86 223.94L900.08 225.47L900.32 227L900.56 228.53L900.81 230.06L900.88 230.46L901.07 231.59L901.34 233.12L901.62 234.65L901.91 236.18L902.21 237.71L902.32 238.21L902.52 239.24L902.84 240.77L903.17 242.3L903.51 243.83L903.75 244.85L903.87 245.36L904.22 246.89L904.6 248.42L904.98 249.95L905.19 250.73L905.37 251.48L905.78 253.01L906.19 254.54L906.62 256.06L906.62 256.07L907.05 257.59L907.5 259.12L907.97 260.65L908.06 260.95L908.43 262.18L908.91 263.71L909.41 265.24L909.49 265.48L909.91 266.77L910.43 268.3L910.93 269.72L910.97 269.83L911.5 271.36L912.06 272.89L912.36 273.7L912.62 274.42L913.2 275.95L913.8 277.47L913.8 277.48L914.4 279.01L915.02 280.54L915.23 281.05L915.65 282.07L916.29 283.6L916.67 284.46L916.95 285.13L917.62 286.66L918.1 287.72L918.31 288.19L919.01 289.72L919.54 290.84L919.72 291.25L920.45 292.78L920.97 293.84L921.2 294.3L921.96 295.83L922.41 296.72L922.73 297.36L923.53 298.89L923.84 299.49L924.33 300.42L925.16 301.95L925.28 302.16L926 303.48L926.71 304.75L926.86 305.01L927.73 306.54L928.15 307.24L928.63 308.07L929.54 309.6L929.58 309.66L930.47 311.13L931.02 312L931.42 312.66L932.4 314.19L932.45 314.27L933.38 315.72L933.89 316.48L934.4 317.25L935.32 318.61L935.43 318.78L936.49 320.31L936.76 320.69L937.56 321.84L938.19 322.71L938.66 323.37L939.62 324.67L939.79 324.9L940.94 326.43L941.06 326.58L942.11 327.96L942.49 328.44L943.32 329.49L943.93 330.25L944.55 331.02L945.36 332.01L945.8 332.54L946.8 333.73L947.09 334.07L948.23 335.4L948.41 335.6L949.67 337.03L949.76 337.13L951.1 338.62L951.14 338.66L952.54 340.17L952.56 340.19ZM1103.21 341.72L1104.64 341.72L1106.08 341.72L1107.51 341.72L1108.95 341.72L1110.38 341.72L1111.82 341.72L1113.25 341.72L1114.69 341.72L1116.12 341.72L1117.56 341.72L1118.99 341.72L1120.43 341.72L1121.86 341.72L1123.3 341.72L1124.73 341.72L1126.17 341.72L1127.6 341.72L1129.04 341.72L1130.47 341.72L1131.91 341.72L1133.34 341.72L1134.78 341.72L1136.21 341.72L1137.65 341.72L1139.08 341.72L1140.19 341.72L1140.52 341.38L1141.64 340.19L1141.95 339.86L1143.06 338.66L1143.39 338.3L1144.44 337.13L1144.82 336.7L1145.79 335.6L1146.26 335.07L1147.11 334.07L1147.69 333.39L1148.4 332.54L1149.13 331.66L1149.65 331.02L1150.56 329.89L1150.88 329.49L1152 328.07L1152.08 327.96L1153.26 326.43L1153.43 326.2L1154.41 324.9L1154.87 324.28L1155.54 323.37L1156.3 322.3L1156.64 321.84L1157.71 320.31L1157.74 320.27L1158.77 318.78L1159.17 318.18L1159.8 317.25L1160.61 316.03L1160.81 315.72L1161.8 314.19L1162.04 313.82L1162.78 312.66L1163.48 311.53L1163.73 311.13L1164.66 309.6L1164.91 309.18L1165.57 308.07L1166.35 306.74L1166.46 306.54L1167.34 305.01L1167.78 304.23L1168.2 303.48L1169.04 301.95L1169.22 301.63L1169.87 300.42L1170.65 298.93L1170.67 298.89L1171.47 297.36L1172.09 296.14L1172.24 295.83L1173 294.3L1173.52 293.24L1173.75 292.78L1174.48 291.25L1174.96 290.22L1175.19 289.72L1175.89 288.19L1176.39 287.07L1176.58 286.66L1177.25 285.13L1177.83 283.78L1177.9 283.6L1178.55 282.07L1179.18 280.54L1179.26 280.34L1179.8 279.01L1180.4 277.48L1180.7 276.72L1181 275.95L1181.58 274.42L1182.13 272.91L1182.14 272.89L1182.7 271.36L1183.24 269.83L1183.57 268.87L1183.77 268.3L1184.29 266.77L1184.79 265.24L1185 264.58L1185 263.71L1185 262.18L1185 260.65L1185 259.12L1185 257.59L1185 256.07L1185 254.54L1185 253.01L1185 251.48L1185 249.95L1185 248.42L1185 246.89L1185 245.36L1185 243.83L1185 242.3L1185 240.77L1185 239.24L1185 237.71L1185 236.18L1185 234.65L1185 233.12L1185 231.59L1185 230.06L1185 228.53L1185 227L1185 225.47L1185 223.94L1185 222.41L1185 220.88L1185 219.35L1185 217.83L1185 216.3L1185 214.77L1185 213.24L1185 211.71L1185 210.18L1185 208.65L1185 207.12L1185 205.59L1185 204.06L1185 202.53L1185 201L1185 199.47L1185 197.94L1185 196.41L1185 194.88L1185 193.35L1185 191.82L1185 190.29L1185 188.76L1185 187.23L1185 185.7L1185 184.17L1185 182.64L1185 181.12L1185 179.59L1185 178.06L1185 176.53L1185 175L1185 173.47L1185 171.94L1185 170.41L1185 168.88L1185 167.35L1185 165.82L1185 164.29L1185 162.76L1185 161.23L1185 159.7L1185 158.17L1185 156.64L1185 155.11L1185 153.58L1185 152.05L1185 150.52L1185 148.99L1185 147.46L1185 145.93L1185 144.4L1185 142.88L1185 141.35L1185 139.82L1185 138.29L1185 136.76L1185 135.23L1185 133.7L1185 132.17L1185 130.64L1185 129.11L1185 127.58L1185 126.05L1185 124.52L1185 122.99L1185 121.46L1185 119.93L1185 118.4L1185 116.87L1185 115.34L1185 113.81L1185 112.28L1185 111.78L1184.67 110.75L1184.16 109.22L1183.64 107.69L1183.57 107.48L1183.11 106.16L1182.57 104.64L1182.13 103.45L1182.01 103.11L1181.44 101.58L1180.86 100.05L1180.7 99.64L1180.26 98.52L1179.66 96.99L1179.26 96.02L1179.03 95.46L1178.4 93.93L1177.83 92.58L1177.75 92.4L1177.09 90.87L1176.41 89.34L1176.39 89.29L1175.73 87.81L1175.02 86.28L1174.96 86.14L1174.31 84.75L1173.57 83.22L1173.52 83.13L1172.82 81.69L1172.09 80.22L1172.05 80.16L1171.28 78.63L1170.65 77.43L1170.48 77.1L1169.67 75.57L1169.22 74.73L1168.84 74.04L1168 72.51L1167.78 72.13L1167.14 70.98L1166.35 69.62L1166.25 69.45L1165.36 67.93L1164.91 67.18L1164.44 66.4L1163.5 64.87L1163.48 64.83L1162.55 63.34L1162.04 62.54L1161.57 61.81L1160.61 60.33L1160.57 60.28L1159.56 58.75L1159.17 58.18L1158.52 57.22L1157.74 56.09L1157.46 55.69L1156.37 54.16L1156.3 54.06L1155.27 52.63L1154.87 52.08L1154.14 51.1L1153.43 50.16L1152.98 49.57L1152 48.29L1151.8 48.04L1150.59 46.51L1150.56 46.48L1149.36 44.98L1149.13 44.7L1148.09 43.45L1147.69 42.97L1146.8 41.92L1146.26 41.29L1145.47 40.39L1144.82 39.65L1144.12 38.86L1143.39 38.06L1142.72 37.33L1141.95 37.33L1140.52 37.33L1139.08 37.33L1137.65 37.33L1136.21 37.33L1134.78 37.33L1133.34 37.33L1131.91 37.33L1130.47 37.33L1129.04 37.33L1127.6 37.33L1126.17 37.33L1124.73 37.33L1123.3 37.33L1121.86 37.33L1120.43 37.33L1118.99 37.33L1117.56 37.33L1116.12 37.33L1114.69 37.33L1113.25 37.33L1111.82 37.33L1110.38 37.33L1108.95 37.33L1107.51 37.33L1106.17 37.33L1107.51 38.24L1108.4 38.86L1108.95 39.25L1110.38 40.29L1110.52 40.39L1111.82 41.35L1112.56 41.92L1113.25 42.45L1114.52 43.45L1114.69 43.59L1116.12 44.75L1116.4 44.98L1117.56 45.95L1118.21 46.51L1118.99 47.19L1119.95 48.04L1120.43 48.46L1121.64 49.57L1121.86 49.77L1123.28 51.1L1123.3 51.12L1124.73 52.51L1124.86 52.63L1126.17 53.93L1126.39 54.16L1127.6 55.4L1127.88 55.69L1129.04 56.92L1129.32 57.22L1130.47 58.47L1130.72 58.75L1131.91 60.08L1132.08 60.28L1133.34 61.73L1133.41 61.81L1134.7 63.34L1134.78 63.43L1135.95 64.87L1136.21 65.19L1137.18 66.4L1137.65 67L1138.37 67.93L1139.08 68.86L1139.53 69.45L1140.52 70.79L1140.66 70.98L1141.77 72.51L1141.95 72.78L1142.84 74.04L1143.39 74.83L1143.89 75.57L1144.82 76.96L1144.92 77.1L1145.92 78.63L1146.26 79.15L1146.9 80.16L1147.69 81.43L1147.85 81.69L1148.79 83.22L1149.13 83.79L1149.7 84.75L1150.56 86.24L1150.59 86.28L1151.46 87.81L1152 88.78L1152.3 89.34L1153.13 90.87L1153.43 91.43L1153.94 92.4L1154.73 93.93L1154.87 94.19L1155.51 95.46L1156.26 96.99L1156.3 97.07L1157 98.52L1157.72 100.05L1157.74 100.09L1158.42 101.58L1159.11 103.11L1159.17 103.25L1159.78 104.64L1160.43 106.16L1160.61 106.59L1161.07 107.69L1161.69 109.22L1162.04 110.1L1162.3 110.75L1162.89 112.28L1163.47 113.81L1163.48 113.83L1164.03 115.34L1164.58 116.87L1164.91 117.82L1165.12 118.4L1165.64 119.93L1166.14 121.46L1166.35 122.09L1166.64 122.99L1167.12 124.52L1167.58 126.05L1167.78 126.71L1168.04 127.58L1168.48 129.11L1168.91 130.64L1169.22 131.78L1169.32 132.17L1169.73 133.7L1170.12 135.23L1170.49 136.76L1170.65 137.41L1170.86 138.29L1171.22 139.82L1171.56 141.35L1171.89 142.88L1172.09 143.84L1172.2 144.4L1172.51 145.93L1172.81 147.46L1173.09 148.99L1173.36 150.52L1173.52 151.47L1173.62 152.05L1173.87 153.58L1174.11 155.11L1174.34 156.64L1174.55 158.17L1174.76 159.7L1174.95 161.23L1174.96 161.29L1175.13 162.76L1175.31 164.29L1175.47 165.82L1175.62 167.35L1175.76 168.88L1175.89 170.41L1176 171.94L1176.11 173.47L1176.2 175L1176.29 176.53L1176.36 178.06L1176.39 178.67L1176.43 179.59L1176.48 181.12L1176.53 182.64L1176.56 184.17L1176.58 185.7L1176.6 187.23L1176.6 188.76L1176.59 190.29L1176.57 191.82L1176.54 193.35L1176.5 194.88L1176.44 196.41L1176.39 197.7L1176.38 197.94L1176.31 199.47L1176.23 201L1176.13 202.53L1176.03 204.06L1175.91 205.59L1175.79 207.12L1175.65 208.65L1175.5 210.18L1175.34 211.71L1175.17 213.24L1174.99 214.77L1174.96 215.07L1174.8 216.3L1174.6 217.83L1174.39 219.35L1174.17 220.88L1173.93 222.41L1173.68 223.94L1173.52 224.89L1173.42 225.47L1173.16 227L1172.88 228.53L1172.58 230.06L1172.28 231.59L1172.09 232.52L1171.96 233.12L1171.64 234.65L1171.3 236.18L1170.95 237.71L1170.65 238.95L1170.58 239.24L1170.21 240.77L1169.82 242.3L1169.42 243.83L1169.22 244.58L1169.01 245.36L1168.58 246.89L1168.15 248.42L1167.78 249.65L1167.69 249.95L1167.23 251.48L1166.75 253.01L1166.35 254.27L1166.26 254.54L1165.76 256.07L1165.24 257.59L1164.91 258.54L1164.71 259.12L1164.17 260.65L1163.6 262.18L1163.48 262.52L1163.03 263.71L1162.44 265.24L1162.04 266.26L1161.84 266.77L1161.22 268.3L1160.61 269.77L1160.58 269.83L1159.93 271.36L1159.27 272.89L1159.17 273.11L1158.59 274.42L1157.89 275.95L1157.74 276.27L1157.17 277.48L1156.44 279.01L1156.3 279.29L1155.69 280.54L1154.92 282.07L1154.87 282.17L1154.13 283.6L1153.43 284.93L1153.33 285.13L1152.5 286.66L1152 287.58L1151.66 288.19L1150.8 289.72L1150.56 290.12L1149.91 291.25L1149.13 292.57L1149 292.78L1148.08 294.3L1147.69 294.93L1147.13 295.83L1146.26 297.21L1146.16 297.36L1145.16 298.89L1144.82 299.4L1144.14 300.42L1143.39 301.53L1143.09 301.95L1142.02 303.48L1141.95 303.58L1140.93 305.01L1140.52 305.57L1139.8 306.54L1139.08 307.5L1138.65 308.07L1137.65 309.36L1137.46 309.6L1136.25 311.13L1136.21 311.17L1135 312.66L1134.78 312.93L1133.72 314.19L1133.34 314.63L1132.4 315.72L1131.91 316.28L1131.05 317.25L1130.47 317.89L1129.66 318.78L1129.04 319.44L1128.22 320.31L1127.6 320.96L1126.75 321.84L1126.17 322.43L1125.23 323.37L1124.73 323.85L1123.66 324.9L1123.3 325.24L1122.04 326.43L1121.86 326.59L1120.43 327.9L1120.36 327.96L1118.99 329.17L1118.63 329.49L1117.56 330.41L1116.83 331.02L1116.12 331.61L1114.97 332.54L1114.69 332.77L1113.25 333.9L1113.03 334.07L1111.82 335.01L1111.02 335.6L1110.38 336.07L1108.95 337.11L1108.91 337.13L1107.51 338.12L1106.71 338.66L1106.08 339.09L1104.64 340.04L1104.4 340.19L1103.21 340.96L1101.97 341.72Z"/>
<path opacity=".8" fill="#f6ac8b" stroke="#f6ac8b" d="M989.85 340.23L991.28 341.14L992.23 341.72L992.72 341.72L994.15 341.72L995.59 341.72L997.02 341.72L998.46 341.72L999.89 341.72L1001.33 341.72L1002.76 341.72L1004.2 341.72L1005.63 341.72L1007.07 341.72L1008.5 341.72L1009.94 341.72L1011.37 341.72L1012.81 341.72L1014.24 341.72L1015.68 341.72L1017.11 341.72L1018.55 341.72L1019.98 341.72L1021.42 341.72L1022.85 341.72L1024.29 341.72L1025.72 341.72L1027.16 341.72L1028.59 341.72L1030.03 341.72L1031.46 341.72L1032.9 341.72L1034.33 341.72L1035.77 341.72L1037.2 341.72L1038.64 341.72L1040.07 341.72L1041.51 341.72L1042.94 341.72L1044.38 341.72L1045.81 341.72L1047.25 341.72L1048.68 341.72L1050.12 341.72L1051.55 341.72L1052.99 341.72L1054.42 341.72L1055.86 341.72L1057.29 341.72L1058.73 341.72L1060.16 341.72L1061.6 341.72L1063.03 341.72L1064.46 341.72L1065.9 341.72L1067.33 341.72L1068.77 341.72L1070.2 341.72L1071.64 341.72L1073.07 341.72L1074.51 341.72L1075.94 341.72L1077.38 341.72L1078.81 341.72L1080.25 341.72L1081.68 341.72L1083.12 341.72L1084.55 341.72L1085.99 341.72L1087.42 341.72L1088.86 341.72L1090.29 341.72L1091.73 341.72L1093.16 341.72L1094.6 341.72L1096.03 341.72L1097.47 341.72L1098.9 341.72L1100.34 341.72L1101.77 341.72L1101.97 341.72L1103.21 340.96L1104.4 340.19L1104.64 340.04L1106.08 339.09L1106.71 338.66L1107.51 338.12L1108.91 337.13L1108.95 337.11L1110.38 336.07L1111.02 335.6L1111.82 335.01L1113.03 334.07L1113.25 333.9L1114.69 332.77L1114.97 332.54L1116.12 331.61L1116.83 331.02L1117.56 330.41L1118.63 329.49L1118.99 329.17L1120.36 327.96L1120.43 327.9L1121.86 326.59L1122.04 326.43L1123.3 325.24L1123.66 324.9L1124.73 323.85L1125.23 323.37L1126.17 322.43L1126.75 321.84L1127.6 320.96L1128.22 320.31L1129.04 319.44L1129.66 318.78L1130.47 317.89L1131.05 317.25L1131.91 316.28L1132.4 315.72L1133.34 314.63L1133.72 314.19L1134.78 312.93L1135 312.66L1136.21 311.17L1136.25 311.13L1137.46 309.6L1137.65 309.36L1138.65 308.07L1139.08 307.5L1139.8 306.54L1140.52 305.57L1140.93 305.01L1141.95 303.58L1142.02 303.48L1143.09 301.95L1143.39 301.53L1144.14 300.42L1144.82 299.4L1145.16 298.89L1146.16 297.36L1146.26 297.21L1147.13 295.83L1147.69 294.93L1148.08 294.3L1149 292.78L1149.13 292.57L1149.91 291.25L1150.56 290.12L1150.8 289.72L1151.66 288.19L1152 287.58L1152.5 286.66L1153.33 285.13L1153.43 284.93L1154.13 283.6L1154.87 282.17L1154.92 282.07L1155.69 280.54L1156.3 279.29L1156.44 279.01L1157.17 277.48L1157.74 276.27L1157.89 275.95L1158.59 274.42L1159.17 273.11L1159.27 272.89L1159.93 271.36L1160.58 269.83L1160.61 269.77L1161.22 268.3L1161.84 266.77L1162.04 266.26L1162.44 265.24L1163.03 263.71L1163.48 262.52L1163.6 262.18L1164.17 260.65L1164.71 259.12L1164.91 258.54L1165.24 257.59L1165.76 256.07L1166.26 254.54L1166.35 254.27L1166.75 253.01L1167.23 251.48L1167.69 249.95L1167.78 249.65L1168.15 248.42L1168.58 246.89L1169.01 245.36L1169.22 244.58L1169.42 243.83L1169.82 242.3L1170.21 240.77L1170.58 239.24L1170.65 238.95L1170.95 237.71L1171.3 236.18L1171.64 234.65L1171.96 233.12L1172.09 232.52L1172.28 231.59L1172.58 230.06L1172.88 228.53L1173.16 227L1173.42 225.47L1173.52 224.89L1173.68 223.94L1173.93 222.41L1174.17 220.88L1174.39 219.35L1174.6 217.83L1174.8 216.3L1174.96 215.07L1174.99 214.77L1175.17 213.24L1175.34 211.71L1175.5 210.18L1175.65 208.65L1175.79 207.12L1175.91 205.59L1176.03 204.06L1176.13 202.53L1176.23 201L1176.31 199.47L1176.38 197.94L1176.39 197.7L1176.44 196.41L1176.5 194.88L1176.54 193.35L1176.57 191.82L1176.59 190.29L1176.6 188.76L1176.6 187.23L1176.58 185.7L1176.56 184.17L1176.53 182.64L1176.48 181.12L1176.43 179.59L1176.39 178.67L1176.36 178.06L1176.29 176.53L1176.2 175L1176.11 173.47L1176 171.94L1175.89 170.41L1175.76 168.88L1175.62 167.35L1175.47 165.82L1175.31 164.29L1175.13 162.76L1174.96 161.29L1174.95 161.23L1174.76 159.7L1174.55 158.17L1174.34 156.64L1174.11 155.11L1173.87 153.58L1173.62 152.05L1173.52 151.47L1173.36 150.52L1173.09 148.99L1172.81 147.46L1172.51 145.93L1172.2 144.4L1172.09 143.84L1171.89 142.88L1171.56 141.35L1171.22 139.82L1170.86 138.29L1170.65 137.41L1170.49 136.76L1170.12 135.23L1169.73 133.7L1169.32 132.17L1169.22 131.78L1168.91 130.64L1168.48 129.11L1168.04 127.58L1167.78 126.71L1167.58 126.05L1167.12 124.52L1166.64 122.99L1166.35 122.09L1166.14 121.46L1165.64 119.93L1165.12 118.4L1164.91 117.82L1164.58 116.87L1164.03 115.34L1163.48 113.83L1163.47 113.81L1162.89 112.28L1162.3 110.75L1162.04 110.1L1161.69 109.22L1161.07 107.69L1160.61 106.59L1160.43 106.16L1159.78 104.64L1159.17 103.25L1159.11 103.11L1158.42 101.58L1157.74 100.09L1157.72 100.05L1157 98.52L1156.3 97.07L1156.26 96.99L1155.51 95.46L1154.87 94.19L1154.73 93.93L1153.94 92.4L1153.43 91.43L1153.13 90.87L1152.3 89.34L1152 88.78L1151.46 87.81L1150.59 86.28L1150.56 86.24L1149.7 84.75L1149.13 83.79L1148.79 83.22L1147.85 81.69L1147.69 81.43L1146.9 80.16L1146.26 79.15L1145.92 78.63L1144.92 77.1L1144.82 76.96L1143.89 75.57L1143.39 74.83L1142.84 74.04L1141.95 72.78L1141.77 72.51L1140.66 70.98L1140.52 70.79L1139.53 69.45L1139.08 68.86L1138.37 67.93L1137.65 67L1137.18 66.4L1136.21 65.19L1135.95 64.87L1134.78 63.43L1134.7 63.34L1133.41 61.81L1133.34 61.73L1132.08 60.28L1131.91 60.08L1130.72 58.75L1130.47 58.47L1129.32 57.22L1129.04 56.92L1127.88 55.69L1127.6 55.4L1126.39 54.16L1126.17 53.93L1124.86 52.63L1124.73 52.51L1123.3 51.12L1123.28 51.1L1121.86 49.77L1121.64 49.57L1120.43 48.46L1119.95 48.04L1118.99 47.19L1118.21 46.51L1117.56 45.95L1116.4 44.98L1116.12 44.75L1114.69 43.59L1114.52 43.45L1113.25 42.45L1112.56 41.92L1111.82 41.35L1110.52 40.39L1110.38 40.29L1108.95 39.25L1108.4 38.86L1107.51 38.24L1106.17 37.33L1106.08 37.33L1104.64 37.33L1103.21 37.33L1101.77 37.33L1100.34 37.33L1098.9 37.33L1097.47 37.33L1096.03 37.33L1094.6 37.33L1093.16 37.33L1091.73 37.33L1090.29 37.33L1088.86 37.33L1087.42 37.33L1085.99 37.33L1084.55 37.33L1083.12 37.33L1081.68 37.33L1080.25 37.33L1078.81 37.33L1077.38 37.33L1075.94 37.33L1074.51 37.33L1073.07 37.33L1071.64 37.33L1070.2 37.33L1068.77 37.33L1067.33 37.33L1065.9 37.33L1064.46 37.33L1063.03 37.33L1061.6 37.33L1060.16 37.33L1058.73 37.33L1057.29 37.33L1055.86 37.33L1054.42 37.33L1052.99 37.33L1051.55 37.33L1050.12 37.33L1048.68 37.33L1047.25 37.33L1045.81 37.33L1044.38 37.33L1042.94 37.33L1041.51 37.33L1040.07 37.33L1038.64 37.33L1037.2 37.33L1035.77 37.33L1034.33 37.33L1032.9 37.33L1031.46 37.33L1030.03 37.33L1028.59 37.33L1027.16 37.33L1025.72 37.33L1024.29 37.33L1022.85 37.33L1021.42 37.33L1019.98 37.33L1018.55 37.33L1017.11 37.33L1015.68 37.33L1014.24 37.33L1012.81 37.33L1011.37 37.33L1009.94 37.33L1008.5 37.33L1007.07 37.33L1005.63 37.33L1004.2 37.33L1002.76 37.33L1001.33 37.33L999.89 37.33L998.46 37.33L997.02 37.33L995.59 37.33L994.15 37.33L992.72 37.33L991.28 37.33L989.85 37.33L988.41 37.33L988.03 37.33L986.98 38.04L985.8 38.86L985.54 39.04L984.11 40.07L983.68 40.39L982.67 41.13L981.64 41.92L981.24 42.23L979.8 43.36L979.68 43.45L978.37 44.51L977.8 44.98L976.93 45.71L975.99 46.51L975.5 46.94L974.24 48.04L974.06 48.2L972.63 49.5L972.56 49.57L971.19 50.84L970.92 51.1L969.76 52.22L969.34 52.63L968.32 53.64L967.81 54.16L966.89 55.1L966.32 55.69L965.45 56.6L964.88 57.22L964.02 58.15L963.48 58.75L962.58 59.75L962.12 60.28L961.15 61.39L960.79 61.81L959.71 63.08L959.5 63.34L958.28 64.83L958.25 64.87L957.02 66.4L956.84 66.62L955.83 67.93L955.41 68.48L954.67 69.45L953.97 70.39L953.54 70.98L952.54 72.37L952.43 72.51L951.36 74.04L951.1 74.41L950.3 75.57L949.67 76.52L949.28 77.1L948.28 78.63L948.23 78.7L947.3 80.16L946.8 80.96L946.34 81.69L945.41 83.22L945.36 83.3L944.5 84.75L943.93 85.73L943.61 86.28L942.74 87.81L942.49 88.26L941.89 89.34L941.07 90.87L941.06 90.88L940.25 92.4L939.62 93.62L939.47 93.93L938.69 95.46L938.19 96.48L937.94 96.99L937.2 98.52L936.76 99.46L936.48 100.05L935.78 101.58L935.32 102.6L935.09 103.11L934.42 104.64L933.89 105.89L933.77 106.16L933.13 107.69L932.51 109.22L932.45 109.37L931.9 110.75L931.31 112.28L931.02 113.06L930.73 113.81L930.16 115.34L929.62 116.87L929.58 116.98L929.08 118.4L928.56 119.93L928.15 121.19L928.06 121.46L927.56 122.99L927.08 124.52L926.71 125.74L926.61 126.05L926.16 127.58L925.72 129.11L925.29 130.64L925.28 130.7L924.87 132.17L924.47 133.7L924.08 135.23L923.84 136.21L923.7 136.76L923.34 138.29L922.98 139.82L922.64 141.35L922.41 142.45L922.31 142.88L921.99 144.4L921.69 145.93L921.39 147.46L921.11 148.99L920.97 149.78L920.84 150.52L920.58 152.05L920.33 153.58L920.09 155.11L919.86 156.64L919.65 158.17L919.54 159.01L919.44 159.7L919.25 161.23L919.06 162.76L918.89 164.29L918.73 165.82L918.58 167.35L918.44 168.88L918.32 170.41L918.2 171.94L918.1 173.34L918.09 173.47L917.99 175L917.91 176.53L917.83 178.06L917.77 179.59L917.71 181.12L917.67 182.64L917.64 184.17L917.61 185.7L917.6 187.23L917.6 188.76L917.61 190.29L917.63 191.82L917.66 193.35L917.7 194.88L917.75 196.41L917.82 197.94L917.89 199.47L917.97 201L918.07 202.53L918.1 203.01L918.17 204.06L918.29 205.59L918.41 207.12L918.55 208.65L918.69 210.18L918.85 211.71L919.02 213.24L919.2 214.77L919.4 216.3L919.54 217.35L919.6 217.83L919.81 219.35L920.03 220.88L920.27 222.41L920.52 223.94L920.77 225.47L920.97 226.58L921.04 227L921.32 228.53L921.61 230.06L921.92 231.59L922.24 233.12L922.41 233.91L922.56 234.65L922.9 236.18L923.25 237.71L923.62 239.24L923.84 240.15L923.99 240.77L924.38 242.3L924.78 243.83L925.19 245.36L925.28 245.66L925.62 246.89L926.05 248.42L926.5 249.95L926.71 250.62L926.97 251.48L927.44 253.01L927.94 254.54L928.15 255.17L928.44 256.07L928.96 257.59L929.49 259.12L929.58 259.38L930.03 260.65L930.59 262.18L931.02 263.3L931.17 263.71L931.76 265.24L932.36 266.77L932.45 266.99L932.98 268.3L933.61 269.83L933.89 270.47L934.26 271.36L934.93 272.89L935.32 273.76L935.61 274.42L936.31 275.95L936.76 276.9L937.03 277.48L937.76 279.01L938.19 279.88L938.51 280.54L939.28 282.07L939.62 282.74L940.07 283.6L940.87 285.13L941.06 285.48L941.69 286.66L942.49 288.1L942.54 288.19L943.4 289.72L943.93 290.63L944.29 291.25L945.19 292.78L945.36 293.06L946.12 294.3L946.8 295.4L947.07 295.83L948.04 297.36L948.23 297.66L949.04 298.89L949.67 299.84L950.06 300.42L951.1 301.95L951.1 301.95L952.17 303.48L952.54 303.99L953.27 305.01L953.97 305.97L954.4 306.54L955.41 307.88L955.55 308.07L956.74 309.6L956.84 309.74L957.95 311.13L958.28 311.54L959.2 312.66L959.71 313.28L960.48 314.19L961.15 314.97L961.8 315.72L962.58 316.61L963.15 317.25L964.02 318.21L964.54 318.78L965.45 319.76L965.98 320.31L966.89 321.26L967.45 321.84L968.32 322.72L968.97 323.37L969.76 324.14L970.54 324.9L971.19 325.52L972.16 326.43L972.63 326.86L973.84 327.96L974.06 328.16L975.5 329.42L975.57 329.49L976.93 330.65L977.37 331.02L978.37 331.85L979.23 332.54L979.8 333.01L981.17 334.07L981.24 334.13L982.67 335.23L983.18 335.6L984.11 336.29L985.29 337.13L985.54 337.32L986.98 338.32L987.49 338.66L988.41 339.29L989.8 340.19ZM1039.2 337.13L1038.64 337.08L1037.2 336.93L1035.77 336.76L1034.33 336.56L1032.9 336.33L1031.46 336.09L1030.03 335.81L1029.02 335.6L1028.59 335.52L1027.16 335.2L1025.72 334.85L1024.29 334.48L1022.85 334.08L1022.83 334.07L1021.42 333.66L1019.98 333.21L1018.55 332.74L1017.98 332.54L1017.11 332.24L1015.68 331.72L1014.24 331.17L1013.87 331.02L1012.81 330.59L1011.37 329.98L1010.25 329.49L1009.94 329.35L1008.5 328.69L1007.07 328L1006.98 327.96L1005.63 327.28L1004.2 326.53L1004 326.43L1002.76 325.75L1001.33 324.95L1001.24 324.9L999.89 324.11L998.67 323.37L998.46 323.24L997.02 322.34L996.25 321.84L995.59 321.4L994.15 320.43L993.97 320.31L992.72 319.43L991.81 318.78L991.28 318.4L989.85 317.33L989.75 317.25L988.41 316.22L987.79 315.72L986.98 315.07L985.91 314.19L985.54 313.89L984.11 312.66L984.11 312.66L982.67 311.4L982.38 311.13L981.24 310.09L980.71 309.6L979.8 308.74L979.11 308.07L978.37 307.34L977.56 306.54L976.93 305.9L976.07 305.01L975.5 304.41L974.63 303.48L974.06 302.87L973.23 301.95L972.63 301.28L971.88 300.42L971.19 299.63L970.56 298.89L969.76 297.93L969.29 297.36L968.32 296.17L968.06 295.83L966.89 294.34L966.86 294.3L965.7 292.78L965.45 292.45L964.57 291.25L964.02 290.49L963.47 289.72L962.58 288.46L962.4 288.19L961.36 286.66L961.15 286.34L960.35 285.13L959.71 284.15L959.36 283.6L958.4 282.07L958.28 281.86L957.47 280.54L956.84 279.48L956.56 279.01L955.68 277.48L955.41 277L954.82 275.95L953.98 274.42L953.97 274.41L953.17 272.89L952.54 271.69L952.37 271.36L951.6 269.83L951.1 268.83L950.85 268.3L950.11 266.77L949.67 265.83L949.4 265.24L948.7 263.71L948.23 262.65L948.03 262.18L947.37 260.65L946.8 259.29L946.73 259.12L946.11 257.59L945.5 256.07L945.36 255.71L944.91 254.54L944.34 253.01L943.93 251.87L943.79 251.48L943.25 249.95L942.73 248.42L942.49 247.72L942.22 246.89L941.73 245.36L941.25 243.83L941.06 243.2L940.79 242.3L940.34 240.77L939.91 239.24L939.62 238.2L939.49 237.71L939.09 236.18L938.7 234.65L938.32 233.12L938.19 232.57L937.96 231.59L937.61 230.06L937.28 228.53L936.96 227L936.76 226.01L936.65 225.47L936.35 223.94L936.07 222.41L935.8 220.88L935.55 219.35L935.32 217.93L935.3 217.83L935.07 216.3L934.85 214.77L934.65 213.24L934.46 211.71L934.28 210.18L934.11 208.65L933.95 207.12L933.89 206.39L933.81 205.59L933.68 204.06L933.56 202.53L933.45 201L933.36 199.47L933.28 197.94L933.2 196.41L933.15 194.88L933.1 193.35L933.07 191.82L933.04 190.29L933.03 188.76L933.03 187.23L933.05 185.7L933.07 184.17L933.11 182.64L933.16 181.12L933.22 179.59L933.29 178.06L933.38 176.53L933.48 175L933.59 173.47L933.71 171.94L933.84 170.41L933.89 169.97L933.99 168.88L934.15 167.35L934.32 165.82L934.5 164.29L934.7 162.76L934.9 161.23L935.13 159.7L935.32 158.43L935.36 158.17L935.61 156.64L935.86 155.11L936.14 153.58L936.42 152.05L936.72 150.52L936.76 150.35L937.03 148.99L937.35 147.46L937.69 145.93L938.04 144.4L938.19 143.79L938.41 142.88L938.79 141.35L939.18 139.82L939.59 138.29L939.62 138.16L940.01 136.76L940.45 135.23L940.9 133.7L941.06 133.16L941.36 132.17L941.84 130.64L942.34 129.11L942.49 128.64L942.85 127.58L943.38 126.05L943.92 124.52L943.93 124.49L944.48 122.99L945.05 121.46L945.36 120.65L945.65 119.93L946.25 118.4L946.8 117.07L946.88 116.87L947.52 115.34L948.19 113.81L948.23 113.7L948.87 112.28L949.57 110.75L949.67 110.53L950.28 109.22L951.02 107.69L951.1 107.53L951.78 106.16L952.54 104.67L952.56 104.64L953.36 103.11L953.97 101.96L954.18 101.58L955.02 100.05L955.41 99.36L955.89 98.52L956.78 96.99L956.84 96.87L957.69 95.46L958.28 94.5L958.63 93.93L959.59 92.4L959.71 92.21L960.58 90.87L961.15 90.02L961.6 89.34L962.58 87.9L962.65 87.81L963.72 86.28L964.02 85.87L964.83 84.75L965.45 83.91L965.97 83.22L966.89 82.02L967.14 81.69L968.32 80.19L968.35 80.16L969.59 78.63L969.76 78.43L970.87 77.1L971.19 76.73L972.19 75.57L972.63 75.08L973.56 74.04L974.06 73.49L974.97 72.51L975.5 71.95L976.42 70.98L976.93 70.46L977.93 69.45L978.37 69.01L979.49 67.93L979.8 67.62L981.1 66.4L981.24 66.27L982.67 64.96L982.78 64.87L984.11 63.7L984.53 63.34L985.54 62.47L986.35 61.81L986.98 61.29L988.24 60.28L988.41 60.14L989.85 59.03L990.23 58.75L991.28 57.96L992.31 57.22L992.72 56.93L994.15 55.92L994.5 55.69L995.59 54.96L996.81 54.16L997.02 54.02L998.46 53.12L999.27 52.63L999.89 52.25L1001.33 51.41L1001.88 51.1L1002.76 50.61L1004.2 49.83L1004.69 49.57L1005.63 49.08L1007.07 48.36L1007.74 48.04L1008.5 47.67L1009.94 47.01L1011.07 46.51L1011.37 46.38L1012.81 45.77L1014.24 45.19L1014.79 44.98L1015.68 44.64L1017.11 44.12L1018.55 43.62L1019.05 43.45L1019.98 43.15L1021.42 42.7L1022.85 42.28L1024.14 41.92L1024.29 41.88L1025.72 41.51L1027.16 41.16L1028.59 40.84L1030.03 40.55L1030.84 40.39L1031.46 40.27L1032.9 40.03L1034.33 39.8L1035.77 39.6L1037.2 39.43L1038.64 39.28L1040.07 39.15L1041.51 39.04L1042.94 38.96L1044.38 38.91L1045.81 38.87L1047.25 38.87L1048.68 38.88L1050.12 38.92L1051.55 38.98L1052.99 39.06L1054.42 39.17L1055.86 39.31L1057.29 39.46L1058.73 39.64L1060.16 39.85L1061.6 40.08L1063.03 40.33L1063.36 40.39L1064.46 40.61L1065.9 40.91L1067.33 41.23L1068.77 41.58L1070.06 41.92L1070.2 41.96L1071.64 42.36L1073.07 42.79L1074.51 43.24L1075.15 43.45L1075.94 43.72L1077.38 44.22L1078.81 44.75L1079.4 44.98L1080.25 45.31L1081.68 45.89L1083.12 46.51L1083.13 46.51L1084.55 47.14L1085.99 47.81L1086.46 48.04L1087.42 48.51L1088.86 49.23L1089.51 49.57L1090.29 49.98L1091.73 50.77L1092.32 51.1L1093.16 51.58L1094.6 52.43L1094.93 52.63L1096.03 53.3L1097.39 54.16L1097.47 54.21L1098.9 55.15L1099.7 55.69L1100.34 56.13L1101.77 57.13L1101.89 57.22L1103.21 58.18L1103.97 58.75L1104.64 59.26L1105.96 60.28L1106.08 60.37L1107.51 61.53L1107.85 61.81L1108.95 62.72L1109.67 63.34L1110.38 63.95L1111.42 64.87L1111.82 65.23L1113.1 66.4L1113.25 66.54L1114.69 67.9L1114.71 67.93L1116.12 69.3L1116.27 69.45L1117.56 70.76L1117.78 70.98L1118.99 72.26L1119.23 72.51L1120.43 73.81L1120.64 74.04L1121.86 75.41L1122.01 75.57L1123.3 77.07L1123.33 77.1L1124.61 78.63L1124.73 78.78L1125.85 80.16L1126.17 80.56L1127.06 81.69L1127.6 82.4L1128.23 83.22L1129.04 84.3L1129.37 84.75L1130.47 86.28L1130.47 86.28L1131.55 87.81L1131.91 88.33L1132.6 89.34L1133.34 90.46L1133.61 90.87L1134.61 92.4L1134.78 92.67L1135.57 93.93L1136.21 94.97L1136.51 95.46L1137.42 96.99L1137.65 97.37L1138.31 98.52L1139.08 99.88L1139.18 100.05L1140.02 101.58L1140.52 102.5L1140.84 103.11L1141.64 104.64L1141.95 105.24L1142.42 106.16L1143.18 107.69L1143.39 108.13L1143.91 109.22L1144.63 110.75L1144.82 111.17L1145.33 112.28L1146.01 113.81L1146.26 114.38L1146.67 115.34L1147.32 116.87L1147.69 117.78L1147.94 118.4L1148.55 119.93L1149.13 121.41L1149.15 121.46L1149.72 122.99L1150.28 124.52L1150.56 125.31L1150.82 126.05L1151.35 127.58L1151.86 129.11L1152 129.53L1152.36 130.64L1152.84 132.17L1153.3 133.7L1153.43 134.14L1153.75 135.23L1154.19 136.76L1154.61 138.29L1154.87 139.25L1155.02 139.82L1155.41 141.35L1155.79 142.88L1156.15 144.4L1156.3 145.04L1156.51 145.93L1156.84 147.46L1157.17 148.99L1157.48 150.52L1157.74 151.84L1157.78 152.05L1158.06 153.58L1158.33 155.11L1158.59 156.64L1158.84 158.17L1159.07 159.7L1159.17 160.38L1159.29 161.23L1159.5 162.76L1159.7 164.29L1159.88 165.82L1160.05 167.35L1160.21 168.88L1160.36 170.41L1160.49 171.94L1160.61 173.4L1160.61 173.47L1160.72 175L1160.82 176.53L1160.9 178.06L1160.98 179.59L1161.04 181.12L1161.09 182.64L1161.13 184.17L1161.15 185.7L1161.17 187.23L1161.17 188.76L1161.16 190.29L1161.13 191.82L1161.1 193.35L1161.05 194.88L1160.99 196.41L1160.92 197.94L1160.84 199.47L1160.75 201L1160.64 202.53L1160.61 202.95L1160.52 204.06L1160.39 205.59L1160.25 207.12L1160.09 208.65L1159.92 210.18L1159.74 211.71L1159.55 213.24L1159.34 214.77L1159.17 215.98L1159.13 216.3L1158.9 217.83L1158.65 219.35L1158.4 220.88L1158.13 222.41L1157.85 223.94L1157.74 224.51L1157.55 225.47L1157.24 227L1156.92 228.53L1156.59 230.06L1156.3 231.32L1156.24 231.59L1155.88 233.12L1155.5 234.65L1155.11 236.18L1154.87 237.11L1154.71 237.71L1154.29 239.24L1153.86 240.77L1153.43 242.23L1153.41 242.3L1152.95 243.83L1152.47 245.36L1152 246.84L1151.98 246.89L1151.47 248.42L1150.95 249.95L1150.56 251.05L1150.41 251.48L1149.86 253.01L1149.28 254.54L1149.13 254.95L1148.7 256.07L1148.09 257.59L1147.69 258.58L1147.47 259.12L1146.83 260.65L1146.26 261.99L1146.17 262.18L1145.5 263.71L1144.82 265.2L1144.8 265.24L1144.09 266.77L1143.39 268.23L1143.35 268.3L1142.6 269.83L1141.95 271.12L1141.83 271.36L1141.03 272.89L1140.52 273.86L1140.22 274.42L1139.38 275.95L1139.08 276.48L1138.52 277.48L1137.65 278.99L1137.63 279.01L1136.73 280.54L1136.21 281.39L1135.79 282.07L1134.84 283.6L1134.78 283.69L1133.85 285.13L1133.34 285.9L1132.84 286.66L1131.91 288.03L1131.8 288.19L1130.73 289.72L1130.47 290.08L1129.63 291.25L1129.04 292.06L1128.5 292.78L1127.6 293.96L1127.34 294.3L1126.17 295.8L1126.14 295.83L1124.91 297.36L1124.73 297.58L1123.63 298.89L1123.3 299.29L1122.32 300.42L1121.86 300.95L1120.97 301.95L1120.43 302.55L1119.57 303.48L1118.99 304.1L1118.13 305.01L1117.56 305.6L1116.63 306.54L1116.12 307.06L1115.09 308.07L1114.69 308.46L1113.49 309.6L1113.25 309.82L1111.82 311.13L1111.82 311.13L1110.38 312.41L1110.09 312.66L1108.95 313.64L1108.29 314.19L1107.51 314.83L1106.41 315.72L1106.08 315.99L1104.64 317.1L1104.45 317.25L1103.21 318.18L1102.39 318.78L1101.77 319.23L1100.34 320.23L1100.23 320.31L1098.9 321.21L1097.95 321.84L1097.47 322.15L1096.03 323.06L1095.53 323.37L1094.6 323.93L1093.16 324.78L1092.95 324.9L1091.73 325.59L1090.29 326.38L1090.2 326.43L1088.86 327.13L1087.42 327.85L1087.21 327.96L1085.99 328.55L1084.55 329.22L1083.95 329.49L1083.12 329.86L1081.68 330.47L1080.34 331.02L1080.25 331.05L1078.81 331.61L1077.38 332.14L1076.22 332.54L1075.94 332.64L1074.51 333.12L1073.07 333.57L1071.64 334L1071.37 334.07L1070.2 334.4L1068.77 334.78L1067.33 335.13L1065.9 335.45L1065.18 335.6L1064.46 335.75L1063.03 336.03L1061.6 336.28L1060.16 336.51L1058.73 336.72L1057.29 336.9L1055.86 337.05L1055 337.13L1054.42 337.19L1052.99 337.3L1051.55 337.38L1050.12 337.44L1048.68 337.48L1047.25 337.5L1045.81 337.49L1044.38 337.45L1042.94 337.4L1041.51 337.32L1040.07 337.21Z"/>
<path opacity=".8" fill="#fbe7da" stroke="#fbe7da" d="M1040.07 337.21L1041.51 337.32L1042.94 337.4L1044.38 337.45L1045.81 337.49L1047.25 337.5L1048.68 337.48L1050.12 337.44L1051.55 337.38L1052.99 337.3L1054.42 337.19L1055 337.13L1055.86 337.05L1057.29 336.9L1058.73 336.72L1060.16 336.51L1061.6 336.28L1063.03 336.03L1064.46 335.75L1065.18 335.6L1065.9 335.45L1067.33 335.13L1068.77 334.78L1070.2 334.4L1071.37 334.07L1071.64 334L1073.07 333.57L1074.51 333.12L1075.94 332.64L1076.22 332.54L1077.38 332.14L1078.81 331.61L1080.25 331.05L1080.34 331.02L1081.68 330.47L1083.12 329.86L1083.95 329.49L1084.55 329.22L1085.99 328.55L1087.21 327.96L1087.42 327.85L1088.86 327.13L1090.2 326.43L1090.29 326.38L1091.73 325.59L1092.95 324.9L1093.16 324.78L1094.6 323.93L1095.53 323.37L1096.03 323.06L1097.47 322.15L1097.95 321.84L1098.9 321.21L1100.23 320.31L1100.34 320.23L1101.77 319.23L1102.39 318.78L1103.21 318.18L1104.45 317.25L1104.64 317.1L1106.08 315.99L1106.41 315.72L1107.51 314.83L1108.29 314.19L1108.95 313.64L1110.09 312.66L1110.38 312.41L1111.82 311.13L1111.82 311.13L1113.25 309.82L1113.49 309.6L1114.69 308.46L1115.09 308.07L1116.12 307.06L1116.63 306.54L1117.56 305.6L1118.13 305.01L1118.99 304.1L1119.57 303.48L1120.43 302.55L1120.97 301.95L1121.86 300.95L1122.32 300.42L1123.3 299.29L1123.63 298.89L1124.73 297.58L1124.91 297.36L1126.14 295.83L1126.17 295.8L1127.34 294.3L1127.6 293.96L1128.5 292.78L1129.04 292.06L1129.63 291.25L1130.47 290.08L1130.73 289.72L1131.8 288.19L1131.91 288.03L1132.84 286.66L1133.34 285.9L1133.85 285.13L1134.78 283.69L1134.84 283.6L1135.79 282.07L1136.21 281.39L1136.73 280.54L1137.63 279.01L1137.65 278.99L1138.52 277.48L1139.08 276.48L1139.38 275.95L1140.22 274.42L1140.52 273.86L1141.03 272.89L1141.83 271.36L1141.95 271.12L1142.6 269.83L1143.35 268.3L1143.39 268.23L1144.09 266.77L1144.8 265.24L1144.82 265.2L1145.5 263.71L1146.17 262.18L1146.26 261.99L1146.83 260.65L1147.47 259.12L1147.69 258.58L1148.09 257.59L1148.7 256.07L1149.13 254.95L1149.28 254.54L1149.86 253.01L1150.41 251.48L1150.56 251.05L1150.95 249.95L1151.47 248.42L1151.98 246.89L1152 246.84L1152.47 245.36L1152.95 243.83L1153.41 242.3L1153.43 242.23L1153.86 240.77L1154.29 239.24L1154.71 237.71L1154.87 237.11L1155.11 236.18L1155.5 234.65L1155.88 233.12L1156.24 231.59L1156.3 231.32L1156.59 230.06L1156.92 228.53L1157.24 227L1157.55 225.47L1157.74 224.51L1157.85 223.94L1158.13 222.41L1158.4 220.88L1158.65 219.35L1158.9 217.83L1159.13 216.3L1159.17 215.98L1159.34 214.77L1159.55 213.24L1159.74 211.71L1159.92 210.18L1160.09 208.65L1160.25 207.12L1160.39 205.59L1160.52 204.06L1160.61 202.95L1160.64 202.53L1160.75 201L1160.84 199.47L1160.92 197.94L1160.99 196.41L1161.05 194.88L1161.1 193.35L1161.13 191.82L1161.16 190.29L1161.17 188.76L1161.17 187.23L1161.15 185.7L1161.13 184.17L1161.09 182.64L1161.04 181.12L1160.98 179.59L1160.9 178.06L1160.82 176.53L1160.72 175L1160.61 173.47L1160.61 173.4L1160.49 171.94L1160.36 170.41L1160.21 168.88L1160.05 167.35L1159.88 165.82L1159.7 164.29L1159.5 162.76L1159.29 161.23L1159.17 160.38L1159.07 159.7L1158.84 158.17L1158.59 156.64L1158.33 155.11L1158.06 153.58L1157.78 152.05L1157.74 151.84L1157.48 150.52L1157.17 148.99L1156.84 147.46L1156.51 145.93L1156.3 145.04L1156.15 144.4L1155.79 142.88L1155.41 141.35L1155.02 139.82L1154.87 139.25L1154.61 138.29L1154.19 136.76L1153.75 135.23L1153.43 134.14L1153.3 133.7L1152.84 132.17L1152.36 130.64L1152 129.53L1151.86 129.11L1151.35 127.58L1150.82 126.05L1150.56 125.31L1150.28 124.52L1149.72 122.99L1149.15 121.46L1149.13 121.41L1148.55 119.93L1147.94 118.4L1147.69 117.78L1147.32 116.87L1146.67 115.34L1146.26 114.38L1146.01 113.81L1145.33 112.28L1144.82 111.17L1144.63 110.75L1143.91 109.22L1143.39 108.13L1143.18 107.69L1142.42 106.16L1141.95 105.24L1141.64 104.64L1140.84 103.11L1140.52 102.5L1140.02 101.58L1139.18 100.05L1139.08 99.88L1138.31 98.52L1137.65 97.37L1137.42 96.99L1136.51 95.46L1136.21 94.97L1135.57 93.93L1134.78 92.67L1134.61 92.4L1133.61 90.87L1133.34 90.46L1132.6 89.34L1131.91 88.33L1131.55 87.81L1130.47 86.28L1130.47 86.28L1129.37 84.75L1129.04 84.3L1128.23 83.22L1127.6 82.4L1127.06 81.69L1126.17 80.56L1125.85 80.16L1124.73 78.78L1124.61 78.63L1123.33 77.1L1123.3 77.07L1122.01 75.57L1121.86 75.41L1120.64 74.04L1120.43 73.81L1119.23 72.51L1118.99 72.26L1117.78 70.98L1117.56 70.76L1116.27 69.45L1116.12 69.3L1114.71 67.93L1114.69 67.9L1113.25 66.54L1113.1 66.4L1111.82 65.23L1111.42 64.87L1110.38 63.95L1109.67 63.34L1108.95 62.72L1107.85 61.81L1107.51 61.53L1106.08 60.37L1105.96 60.28L1104.64 59.26L1103.97 58.75L1103.21 58.18L1101.89 57.22L1101.77 57.13L1100.34 56.13L1099.7 55.69L1098.9 55.15L1097.47 54.21L1097.39 54.16L1096.03 53.3L1094.93 52.63L1094.6 52.43L1093.16 51.58L1092.32 51.1L1091.73 50.77L1090.29 49.98L1089.51 49.57L1088.86 49.23L1087.42 48.51L1086.46 48.04L1085.99 47.81L1084.55 47.14L1083.13 46.51L1083.12 46.51L1081.68 45.89L1080.25 45.31L1079.4 44.98L1078.81 44.75L1077.38 44.22L1075.94 43.72L1075.15 43.45L1074.51 43.24L1073.07 42.79L1071.64 42.36L1070.2 41.96L1070.06 41.92L1068.77 41.58L1067.33 41.23L1065.9 40.91L1064.46 40.61L1063.36 40.39L1063.03 40.33L1061.6 40.08L1060.16 39.85L1058.73 39.64L1057.29 39.46L1055.86 39.31L1054.42 39.17L1052.99 39.06L1051.55 38.98L1050.12 38.92L1048.68 38.88L1047.25 38.87L1045.81 38.87L1044.38 38.91L1042.94 38.96L1041.51 39.04L1040.07 39.15L1038.64 39.28L1037.2 39.43L1035.77 39.6L1034.33 39.8L1032.9 40.03L1031.46 40.27L1030.84 40.39L1030.03 40.55L1028.59 40.84L1027.16 41.16L1025.72 41.51L1024.29 41.88L1024.14 41.92L1022.85 42.28L1021.42 42.7L1019.98 43.15L1019.05 43.45L1018.55 43.62L1017.11 44.12L1015.68 44.64L1014.79 44.98L1014.24 45.19L1012.81 45.77L1011.37 46.38L1011.07 46.51L1009.94 47.01L1008.5 47.67L1007.74 48.04L1007.07 48.36L1005.63 49.08L1004.69 49.57L1004.2 49.83L1002.76 50.61L1001.88 51.1L1001.33 51.41L999.89 52.25L999.27 52.63L998.46 53.12L997.02 54.02L996.81 54.16L995.59 54.96L994.5 55.69L994.15 55.92L992.72 56.93L992.31 57.22L991.28 57.96L990.23 58.75L989.85 59.03L988.41 60.14L988.24 60.28L986.98 61.29L986.35 61.81L985.54 62.47L984.53 63.34L984.11 63.7L982.78 64.87L982.67 64.96L981.24 66.27L981.1 66.4L979.8 67.62L979.49 67.93L978.37 69.01L977.93 69.45L976.93 70.46L976.42 70.98L975.5 71.95L974.97 72.51L974.06 73.49L973.56 74.04L972.63 75.08L972.19 75.57L971.19 76.73L970.87 77.1L969.76 78.43L969.59 78.63L968.35 80.16L968.32 80.19L967.14 81.69L966.89 82.02L965.97 83.22L965.45 83.91L964.83 84.75L964.02 85.87L963.72 86.28L962.65 87.81L962.58 87.9L961.6 89.34L961.15 90.02L960.58 90.87L959.71 92.21L959.59 92.4L958.63 93.93L958.28 94.5L957.69 95.46L956.84 96.87L956.78 96.99L955.89 98.52L955.41 99.36L955.02 100.05L954.18 101.58L953.97 101.96L953.36 103.11L952.56 104.64L952.54 104.67L951.78 106.16L951.1 107.53L951.02 107.69L950.28 109.22L949.67 110.53L949.57 110.75L948.87 112.28L948.23 113.7L948.19 113.81L947.52 115.34L946.88 116.87L946.8 117.07L946.25 118.4L945.65 119.93L945.36 120.65L945.05 121.46L944.48 122.99L943.93 124.49L943.92 124.52L943.38 126.05L942.85 127.58L942.49 128.64L942.34 129.11L941.84 130.64L941.36 132.17L941.06 133.16L940.9 133.7L940.45 135.23L940.01 136.76L939.62 138.16L939.59 138.29L939.18 139.82L938.79 141.35L938.41 142.88L938.19 143.79L938.04 144.4L937.69 145.93L937.35 147.46L937.03 148.99L936.76 150.35L936.72 150.52L936.42 152.05L936.14 153.58L935.86 155.11L935.61 156.64L935.36 158.17L935.32 158.43L935.13 159.7L934.9 161.23L934.7 162.76L934.5 164.29L934.32 165.82L934.15 167.35L933.99 168.88L933.89 169.97L933.84 170.41L933.71 171.94L933.59 173.47L933.48 175L933.38 176.53L933.29 178.06L933.22 179.59L933.16 181.12L933.11 182.64L933.07 184.17L933.05 185.7L933.03 187.23L933.03 188.76L933.04 190.29L933.07 191.82L933.1 193.35L933.15 194.88L933.2 196.41L933.28 197.94L933.36 199.47L933.45 201L933.56 202.53L933.68 204.06L933.81 205.59L933.89 206.39L933.95 207.12L934.11 208.65L934.28 210.18L934.46 211.71L934.65 213.24L934.85 214.77L935.07 216.3L935.3 217.83L935.32 217.93L935.55 219.35L935.8 220.88L936.07 222.41L936.35 223.94L936.65 225.47L936.76 226.01L936.96 227L937.28 228.53L937.61 230.06L937.96 231.59L938.19 232.57L938.32 233.12L938.7 234.65L939.09 236.18L939.49 237.71L939.62 238.2L939.91 239.24L940.34 240.77L940.79 242.3L941.06 243.2L941.25 243.83L941.73 245.36L942.22 246.89L942.49 247.72L942.73 248.42L943.25 249.95L943.79 251.48L943.93 251.87L944.34 253.01L944.91 254.54L945.36 255.71L945.5 256.07L946.11 257.59L946.73 259.12L946.8 259.29L947.37 260.65L948.03 262.18L948.23 262.65L948.7 263.71L949.4 265.24L949.67 265.83L950.11 266.77L950.85 268.3L951.1 268.83L951.6 269.83L952.37 271.36L952.54 271.69L953.17 272.89L953.97 274.41L953.98 274.42L954.82 275.95L955.41 277L955.68 277.48L956.56 279.01L956.84 279.48L957.47 280.54L958.28 281.86L958.4 282.07L959.36 283.6L959.71 284.15L960.35 285.13L961.15 286.34L961.36 286.66L962.4 288.19L962.58 288.46L963.47 289.72L964.02 290.49L964.57 291.25L965.45 292.45L965.7 292.78L966.86 294.3L966.89 294.34L968.06 295.83L968.32 296.17L969.29 297.36L969.76 297.93L970.56 298.89L971.19 299.63L971.88 300.42L972.63 301.28L973.23 301.95L974.06 302.87L974.63 303.48L975.5 304.41L976.07 305.01L976.93 305.9L977.56 306.54L978.37 307.34L979.11 308.07L979.8 308.74L980.71 309.6L981.24 310.09L982.38 311.13L982.67 311.4L984.11 312.66L984.11 312.66L985.54 313.89L985.91 314.19L986.98 315.07L987.79 315.72L988.41 316.22L989.75 317.25L989.85 317.33L991.28 318.4L991.81 318.78L992.72 319.43L993.97 320.31L994.15 320.43L995.59 321.4L996.25 321.84L997.02 322.34L998.46 323.24L998.67 323.37L999.89 324.11L1001.24 324.9L1001.33 324.95L1002.76 325.75L1004 326.43L1004.2 326.53L1005.63 327.28L1006.98 327.96L1007.07 328L1008.5 328.69L1009.94 329.35L1010.25 329.49L1011.37 329.98L1012.81 330.59L1013.87 331.02L1014.24 331.17L1015.68 331.72L1017.11 332.24L1017.98 332.54L1018.55 332.74L1019.98 333.21L1021.42 333.66L1022.83 334.07L1022.85 334.08L1024.29 334.48L1025.72 334.85L1027.16 335.2L1028.59 335.52L1029.02 335.6L1030.03 335.81L1031.46 336.09L1032.9 336.33L1034.33 336.56L1035.77 336.76L1037.2 336.93L1038.64 337.08L1039.2 337.13ZM1032.66 317.25L1031.46 317.01L1030.03 316.7L1028.59 316.36L1027.16 315.99L1026.19 315.72L1025.72 315.59L1024.29 315.16L1022.85 314.71L1021.42 314.22L1021.33 314.19L1019.98 313.7L1018.55 313.16L1017.31 312.66L1017.11 312.58L1015.68 311.97L1014.24 311.33L1013.81 311.13L1012.81 310.66L1011.37 309.95L1010.68 309.6L1009.94 309.22L1008.5 308.44L1007.84 308.07L1007.07 307.64L1005.63 306.8L1005.21 306.54L1004.2 305.92L1002.77 305.01L1002.76 305L1001.33 304.05L1000.5 303.48L999.89 303.06L998.46 302.03L998.35 301.95L997.02 300.96L996.33 300.42L995.59 299.85L994.4 298.89L994.15 298.69L992.72 297.49L992.57 297.36L991.28 296.24L990.83 295.83L989.85 294.95L989.16 294.3L988.41 293.61L987.55 292.78L986.98 292.21L986.02 291.25L985.54 290.76L984.54 289.72L984.11 289.26L983.12 288.19L982.67 287.7L981.75 286.66L981.24 286.07L980.43 285.13L979.8 284.39L979.15 283.6L978.37 282.63L977.92 282.07L976.93 280.81L976.73 280.54L975.57 279.01L975.5 278.91L974.46 277.48L974.06 276.93L973.38 275.95L972.63 274.86L972.33 274.42L971.32 272.89L971.19 272.7L970.34 271.36L969.76 270.44L969.38 269.83L968.46 268.3L968.32 268.07L967.57 266.77L966.89 265.59L966.7 265.24L965.85 263.71L965.45 262.97L965.04 262.18L964.24 260.65L964.02 260.21L963.47 259.12L962.73 257.59L962.58 257.29L962.01 256.07L961.3 254.54L961.15 254.19L960.62 253.01L959.96 251.48L959.71 250.88L959.33 249.95L958.71 248.42L958.28 247.32L958.11 246.89L957.53 245.36L956.97 243.83L956.84 243.48L956.43 242.3L955.9 240.77L955.41 239.28L955.4 239.24L954.91 237.71L954.44 236.18L953.98 234.65L953.97 234.62L953.55 233.12L953.13 231.59L952.72 230.06L952.54 229.34L952.33 228.53L951.96 227L951.61 225.47L951.27 223.94L951.1 223.19L950.94 222.41L950.63 220.88L950.34 219.35L950.05 217.83L949.79 216.3L949.67 215.57L949.54 214.77L949.3 213.24L949.08 211.71L948.87 210.18L948.68 208.65L948.5 207.12L948.34 205.59L948.23 204.54L948.19 204.06L948.05 202.53L947.93 201L947.82 199.47L947.73 197.94L947.65 196.41L947.58 194.88L947.53 193.35L947.49 191.82L947.46 190.29L947.45 188.76L947.45 187.23L947.47 185.7L947.49 184.17L947.54 182.64L947.59 181.12L947.66 179.59L947.75 178.06L947.85 176.53L947.96 175L948.08 173.47L948.22 171.94L948.23 171.81L948.38 170.41L948.54 168.88L948.73 167.35L948.92 165.82L949.13 164.29L949.36 162.76L949.6 161.23L949.67 160.79L949.85 159.7L950.12 158.17L950.4 156.64L950.7 155.11L951.02 153.58L951.1 153.17L951.34 152.05L951.69 150.52L952.05 148.99L952.43 147.46L952.54 147.02L952.82 145.93L953.23 144.4L953.65 142.88L953.97 141.75L954.09 141.35L954.55 139.82L955.02 138.29L955.41 137.09L955.52 136.76L956.03 135.23L956.56 133.7L956.84 132.88L957.1 132.17L957.67 130.64L958.25 129.11L958.28 129.03L958.85 127.58L959.48 126.05L959.71 125.48L960.12 124.52L960.78 122.99L961.15 122.17L961.47 121.46L962.17 119.93L962.58 119.07L962.9 118.4L963.65 116.87L964.02 116.15L964.43 115.34L965.23 113.81L965.45 113.39L966.05 112.28L966.89 110.77L966.9 110.75L967.78 109.22L968.32 108.29L968.68 107.69L969.61 106.16L969.76 105.92L970.57 104.64L971.19 103.66L971.56 103.11L972.58 101.58L972.63 101.5L973.63 100.05L974.06 99.43L974.72 98.52L975.5 97.45L975.84 96.99L976.93 95.55L977 95.46L978.21 93.93L978.37 93.73L979.45 92.4L979.8 91.97L980.74 90.87L981.24 90.29L982.07 89.34L982.67 88.66L983.45 87.81L984.11 87.1L984.89 86.28L985.54 85.6L986.38 84.75L986.98 84.15L987.93 83.22L988.41 82.75L989.54 81.69L989.85 81.41L991.23 80.16L991.28 80.12L992.72 78.87L993 78.63L994.15 77.67L994.85 77.1L995.59 76.51L996.8 75.57L997.02 75.4L998.46 74.33L998.85 74.04L999.89 73.3L1001.03 72.51L1001.33 72.31L1002.76 71.36L1003.34 70.98L1004.2 70.44L1005.63 69.56L1005.82 69.45L1007.07 68.72L1008.48 67.93L1008.5 67.91L1009.94 67.14L1011.37 66.4L1011.39 66.4L1012.81 65.7L1014.24 65.03L1014.6 64.87L1015.68 64.39L1017.11 63.78L1018.21 63.34L1018.55 63.2L1019.98 62.66L1021.42 62.14L1022.4 61.81L1022.85 61.65L1024.29 61.2L1025.72 60.77L1027.16 60.37L1027.52 60.28L1028.59 60L1030.03 59.66L1031.46 59.35L1032.9 59.07L1034.33 58.81L1034.71 58.75L1035.77 58.58L1037.2 58.38L1038.64 58.21L1040.07 58.06L1041.51 57.94L1042.94 57.85L1044.38 57.78L1045.81 57.74L1047.25 57.73L1048.68 57.75L1050.12 57.79L1051.55 57.86L1052.99 57.96L1054.42 58.09L1055.86 58.24L1057.29 58.42L1058.73 58.62L1059.48 58.75L1060.16 58.86L1061.6 59.12L1063.03 59.41L1064.46 59.73L1065.9 60.08L1066.67 60.28L1067.33 60.45L1068.77 60.86L1070.2 61.29L1071.64 61.75L1071.81 61.81L1073.07 62.24L1074.51 62.77L1075.94 63.32L1075.99 63.34L1077.38 63.9L1078.81 64.52L1079.59 64.87L1080.25 65.16L1081.68 65.84L1082.8 66.4L1083.12 66.55L1084.55 67.3L1085.71 67.93L1085.99 68.08L1087.42 68.89L1088.38 69.45L1088.86 69.74L1090.29 70.62L1090.86 70.98L1091.73 71.55L1093.16 72.51L1093.18 72.51L1094.6 73.51L1095.35 74.04L1096.03 74.54L1097.4 75.57L1097.47 75.62L1098.9 76.75L1099.35 77.1L1100.34 77.91L1101.2 78.63L1101.77 79.12L1102.97 80.16L1103.21 80.38L1104.64 81.68L1104.66 81.69L1106.08 83.03L1106.27 83.22L1107.51 84.44L1107.82 84.75L1108.95 85.9L1109.31 86.28L1110.38 87.41L1110.75 87.81L1111.82 88.99L1112.13 89.34L1113.25 90.62L1113.46 90.87L1114.69 92.32L1114.75 92.4L1115.99 93.93L1116.12 94.09L1117.19 95.46L1117.56 95.93L1118.35 96.99L1118.99 97.85L1119.48 98.52L1120.43 99.85L1120.57 100.05L1121.62 101.58L1121.86 101.93L1122.64 103.11L1123.3 104.11L1123.63 104.64L1124.59 106.16L1124.73 106.39L1125.52 107.69L1126.17 108.78L1126.42 109.22L1127.3 110.75L1127.6 111.3L1128.15 112.28L1128.97 113.81L1129.04 113.94L1129.77 115.34L1130.47 116.73L1130.55 116.87L1131.3 118.4L1131.91 119.68L1132.02 119.93L1132.73 121.46L1133.34 122.82L1133.42 122.99L1134.08 124.52L1134.72 126.05L1134.78 126.18L1135.34 127.58L1135.95 129.11L1136.21 129.79L1136.53 130.64L1137.1 132.17L1137.64 133.7L1137.65 133.7L1138.17 135.23L1138.68 136.76L1139.08 138L1139.17 138.29L1139.65 139.82L1140.11 141.35L1140.52 142.76L1140.55 142.88L1140.97 144.4L1141.38 145.93L1141.77 147.46L1141.95 148.19L1142.15 148.99L1142.51 150.52L1142.85 152.05L1143.18 153.58L1143.39 154.57L1143.5 155.11L1143.8 156.64L1144.08 158.17L1144.35 159.7L1144.6 161.23L1144.82 162.63L1144.84 162.76L1145.07 164.29L1145.28 165.82L1145.47 167.35L1145.65 168.88L1145.82 170.41L1145.98 171.94L1146.12 173.47L1146.24 175L1146.26 175.19L1146.35 176.53L1146.45 178.06L1146.54 179.59L1146.61 181.12L1146.66 182.64L1146.7 184.17L1146.73 185.7L1146.75 187.23L1146.75 188.76L1146.74 190.29L1146.71 191.82L1146.67 193.35L1146.62 194.88L1146.55 196.41L1146.47 197.94L1146.38 199.47L1146.27 201L1146.26 201.17L1146.15 202.53L1146.01 204.06L1145.86 205.59L1145.7 207.12L1145.52 208.65L1145.32 210.18L1145.12 211.71L1144.9 213.24L1144.82 213.72L1144.66 214.77L1144.41 216.3L1144.14 217.83L1143.86 219.35L1143.57 220.88L1143.39 221.79L1143.26 222.41L1142.93 223.94L1142.59 225.47L1142.24 227L1141.95 228.18L1141.86 228.53L1141.48 230.06L1141.07 231.59L1140.65 233.12L1140.52 233.59L1140.21 234.65L1139.76 236.18L1139.29 237.71L1139.08 238.36L1138.8 239.24L1138.29 240.77L1137.77 242.3L1137.65 242.65L1137.23 243.83L1136.67 245.36L1136.21 246.57L1136.09 246.89L1135.49 248.42L1134.87 249.95L1134.78 250.18L1134.23 251.48L1133.58 253.01L1133.34 253.53L1132.89 254.54L1132.19 256.07L1131.91 256.68L1131.47 257.59L1130.73 259.12L1130.47 259.63L1129.96 260.65L1129.16 262.18L1129.04 262.42L1128.34 263.71L1127.6 265.07L1127.5 265.24L1126.63 266.77L1126.17 267.57L1125.74 268.3L1124.82 269.83L1124.73 269.97L1123.86 271.36L1123.3 272.25L1122.88 272.89L1121.87 274.42L1121.86 274.43L1120.82 275.95L1120.43 276.51L1119.74 277.48L1118.99 278.51L1118.62 279.01L1117.56 280.43L1117.47 280.54L1116.28 282.07L1116.12 282.27L1115.05 283.6L1114.69 284.04L1113.77 285.13L1113.25 285.74L1112.45 286.66L1111.82 287.37L1111.08 288.19L1110.38 288.95L1109.66 289.72L1108.95 290.46L1108.18 291.25L1107.51 291.92L1106.64 292.78L1106.08 293.33L1105.04 294.3L1104.64 294.68L1103.38 295.83L1103.21 295.98L1101.77 297.24L1101.63 297.36L1100.34 298.45L1099.8 298.89L1098.9 299.61L1097.87 300.42L1097.47 300.74L1096.03 301.82L1095.85 301.95L1094.6 302.85L1093.7 303.48L1093.16 303.85L1091.73 304.81L1091.42 305.01L1090.29 305.73L1088.99 306.54L1088.86 306.62L1087.42 307.47L1086.36 308.07L1085.99 308.28L1084.55 309.06L1083.52 309.6L1083.12 309.81L1081.68 310.52L1080.39 311.13L1080.25 311.2L1078.81 311.84L1077.38 312.46L1076.89 312.66L1075.94 313.04L1074.51 313.59L1073.07 314.12L1072.86 314.19L1071.64 314.61L1070.2 315.07L1068.77 315.5L1068.01 315.72L1067.33 315.91L1065.9 316.28L1064.46 316.63L1063.03 316.95L1061.6 317.24L1061.54 317.25L1060.16 317.5L1058.73 317.74L1057.29 317.94L1055.86 318.12L1054.42 318.27L1052.99 318.4L1051.55 318.5L1050.12 318.57L1048.68 318.61L1047.25 318.63L1045.81 318.62L1044.38 318.58L1042.94 318.51L1041.51 318.42L1040.07 318.3L1038.64 318.15L1037.2 317.98L1035.77 317.78L1034.33 317.55L1032.9 317.29Z"/>
<path opacity=".8" fill="#deecf2" stroke="#deecf2" d="M1032.9 317.29L1034.33 317.55L1035.77 317.78L1037.2 317.98L1038.64 318.15L1040.07 318.3L1041.51 318.42L1042.94 318.51L1044.38 318.58L1045.81 318.62L1047.25 318.63L1048.68 318.61L1050.12 318.57L1051.55 318.5L1052.99 318.4L1054.42 318.27L1055.86 318.12L1057.29 317.94L1058.73 317.74L1060.16 317.5L1061.54 317.25L1061.6 317.24L1063.03 316.95L1064.46 316.63L1065.9 316.28L1067.33 315.91L1068.01 315.72L1068.77 315.5L1070.2 315.07L1071.64 314.61L1072.86 314.19L1073.07 314.12L1074.51 313.59L1075.94 313.04L1076.89 312.66L1077.38 312.46L1078.81 311.84L1080.25 311.2L1080.39 311.13L1081.68 310.52L1083.12 309.81L1083.52 309.6L1084.55 309.06L1085.99 308.28L1086.36 308.07L1087.42 307.47L1088.86 306.62L1088.99 306.54L1090.29 305.73L1091.42 305.01L1091.73 304.81L1093.16 303.85L1093.7 303.48L1094.6 302.85L1095.85 301.95L1096.03 301.82L1097.47 300.74L1097.87 300.42L1098.9 299.61L1099.8 298.89L1100.34 298.45L1101.63 297.36L1101.77 297.24L1103.21 295.98L1103.38 295.83L1104.64 294.68L1105.04 294.3L1106.08 293.33L1106.64 292.78L1107.51 291.92L1108.18 291.25L1108.95 290.46L1109.66 289.72L1110.38 288.95L1111.08 288.19L1111.82 287.37L1112.45 286.66L1113.25 285.74L1113.77 285.13L1114.69 284.04L1115.05 283.6L1116.12 282.27L1116.28 282.07L1117.47 280.54L1117.56 280.43L1118.62 279.01L1118.99 278.51L1119.74 277.48L1120.43 276.51L1120.82 275.95L1121.86 274.43L1121.87 274.42L1122.88 272.89L1123.3 272.25L1123.86 271.36L1124.73 269.97L1124.82 269.83L1125.74 268.3L1126.17 267.57L1126.63 266.77L1127.5 265.24L1127.6 265.07L1128.34 263.71L1129.04 262.42L1129.16 262.18L1129.96 260.65L1130.47 259.63L1130.73 259.12L1131.47 257.59L1131.91 256.68L1132.19 256.07L1132.89 254.54L1133.34 253.53L1133.58 253.01L1134.23 251.48L1134.78 250.18L1134.87 249.95L1135.49 248.42L1136.09 246.89L1136.21 246.57L1136.67 245.36L1137.23 243.83L1137.65 242.65L1137.77 242.3L1138.29 240.77L1138.8 239.24L1139.08 238.36L1139.29 237.71L1139.76 236.18L1140.21 234.65L1140.52 233.59L1140.65 233.12L1141.07 231.59L1141.48 230.06L1141.86 228.53L1141.95 228.18L1142.24 227L1142.59 225.47L1142.93 223.94L1143.26 222.41L1143.39 221.79L1143.57 220.88L1143.86 219.35L1144.14 217.83L1144.41 216.3L1144.66 214.77L1144.82 213.72L1144.9 213.24L1145.12 211.71L1145.32 210.18L1145.52 208.65L1145.7 207.12L1145.86 205.59L1146.01 204.06L1146.15 202.53L1146.26 201.17L1146.27 201L1146.38 199.47L1146.47 197.94L1146.55 196.41L1146.62 194.88L1146.67 193.35L1146.71 191.82L1146.74 190.29L1146.75 188.76L1146.75 187.23L1146.73 185.7L1146.7 184.17L1146.66 182.64L1146.61 181.12L1146.54 179.59L1146.45 178.06L1146.35 176.53L1146.26 175.19L1146.24 175L1146.12 173.47L1145.98 171.94L1145.82 170.41L1145.65 168.88L1145.47 167.35L1145.28 165.82L1145.07 164.29L1144.84 162.76L1144.82 162.63L1144.6 161.23L1144.35 159.7L1144.08 158.17L1143.8 156.64L1143.5 155.11L1143.39 154.57L1143.18 153.58L1142.85 152.05L1142.51 150.52L1142.15 148.99L1141.95 148.19L1141.77 147.46L1141.38 145.93L1140.97 144.4L1140.55 142.88L1140.52 142.76L1140.11 141.35L1139.65 139.82L1139.17 138.29L1139.08 138L1138.68 136.76L1138.17 135.23L1137.65 133.7L1137.64 133.7L1137.1 132.17L1136.53 130.64L1136.21 129.79L1135.95 129.11L1135.34 127.58L1134.78 126.18L1134.72 126.05L1134.08 124.52L1133.42 122.99L1133.34 122.82L1132.73 121.46L1132.02 119.93L1131.91 119.68L1131.3 118.4L1130.55 116.87L1130.47 116.73L1129.77 115.34L1129.04 113.94L1128.97 113.81L1128.15 112.28L1127.6 111.3L1127.3 110.75L1126.42 109.22L1126.17 108.78L1125.52 107.69L1124.73 106.39L1124.59 106.16L1123.63 104.64L1123.3 104.11L1122.64 103.11L1121.86 101.93L1121.62 101.58L1120.57 100.05L1120.43 99.85L1119.48 98.52L1118.99 97.85L1118.35 96.99L1117.56 95.93L1117.19 95.46L1116.12 94.09L1115.99 93.93L1114.75 92.4L1114.69 92.32L1113.46 90.87L1113.25 90.62L1112.13 89.34L1111.82 88.99L1110.75 87.81L1110.38 87.41L1109.31 86.28L1108.95 85.9L1107.82 84.75L1107.51 84.44L1106.27 83.22L1106.08 83.03L1104.66 81.69L1104.64 81.68L1103.21 80.38L1102.97 80.16L1101.77 79.12L1101.2 78.63L1100.34 77.91L1099.35 77.1L1098.9 76.75L1097.47 75.62L1097.4 75.57L1096.03 74.54L1095.35 74.04L1094.6 73.51L1093.18 72.51L1093.16 72.51L1091.73 71.55L1090.86 70.98L1090.29 70.62L1088.86 69.74L1088.38 69.45L1087.42 68.89L1085.99 68.08L1085.71 67.93L1084.55 67.3L1083.12 66.55L1082.8 66.4L1081.68 65.84L1080.25 65.16L1079.59 64.87L1078.81 64.52L1077.38 63.9L1075.99 63.34L1075.94 63.32L1074.51 62.77L1073.07 62.24L1071.81 61.81L1071.64 61.75L1070.2 61.29L1068.77 60.86L1067.33 60.45L1066.67 60.28L1065.9 60.08L1064.46 59.73L1063.03 59.41L1061.6 59.12L1060.16 58.86L1059.48 58.75L1058.73 58.62L1057.29 58.42L1055.86 58.24L1054.42 58.09L1052.99 57.96L1051.55 57.86L1050.12 57.79L1048.68 57.75L1047.25 57.73L1045.81 57.74L1044.38 57.78L1042.94 57.85L1041.51 57.94L1040.07 58.06L1038.64 58.21L1037.2 58.38L1035.77 58.58L1034.71 58.75L1034.33 58.81L1032.9 59.07L1031.46 59.35L1030.03 59.66L1028.59 60L1027.52 60.28L1027.16 60.37L1025.72 60.77L1024.29 61.2L1022.85 61.65L1022.4 61.81L1021.42 62.14L1019.98 62.66L1018.55 63.2L1018.21 63.34L1017.11 63.78L1015.68 64.39L1014.6 64.87L1014.24 65.03L1012.81 65.7L1011.39 66.4L1011.37 66.4L1009.94 67.14L1008.5 67.91L1008.48 67.93L1007.07 68.72L1005.82 69.45L1005.63 69.56L1004.2 70.44L1003.34 70.98L1002.76 71.36L1001.33 72.31L1001.03 72.51L999.89 73.3L998.85 74.04L998.46 74.33L997.02 75.4L996.8 75.57L995.59 76.51L994.85 77.1L994.15 77.67L993 78.63L992.72 78.87L991.28 80.12L991.23 80.16L989.85 81.41L989.54 81.69L988.41 82.75L987.93 83.22L986.98 84.15L986.38 84.75L985.54 85.6L984.89 86.28L984.11 87.1L983.45 87.81L982.67 88.66L982.07 89.34L981.24 90.29L980.74 90.87L979.8 91.97L979.45 92.4L978.37 93.73L978.21 93.93L977 95.46L976.93 95.55L975.84 96.99L975.5 97.45L974.72 98.52L974.06 99.43L973.63 100.05L972.63 101.5L972.58 101.58L971.56 103.11L971.19 103.66L970.57 104.64L969.76 105.92L969.61 106.16L968.68 107.69L968.32 108.29L967.78 109.22L966.9 110.75L966.89 110.77L966.05 112.28L965.45 113.39L965.23 113.81L964.43 115.34L964.02 116.15L963.65 116.87L962.9 118.4L962.58 119.07L962.17 119.93L961.47 121.46L961.15 122.17L960.78 122.99L960.12 124.52L959.71 125.48L959.48 126.05L958.85 127.58L958.28 129.03L958.25 129.11L957.67 130.64L957.1 132.17L956.84 132.88L956.56 133.7L956.03 135.23L955.52 136.76L955.41 137.09L955.02 138.29L954.55 139.82L954.09 141.35L953.97 141.75L953.65 142.88L953.23 144.4L952.82 145.93L952.54 147.02L952.43 147.46L952.05 148.99L951.69 150.52L951.34 152.05L951.1 153.17L951.02 153.58L950.7 155.11L950.4 156.64L950.12 158.17L949.85 159.7L949.67 160.79L949.6 161.23L949.36 162.76L949.13 164.29L948.92 165.82L948.73 167.35L948.54 168.88L948.38 170.41L948.23 171.81L948.22 171.94L948.08 173.47L947.96 175L947.85 176.53L947.75 178.06L947.66 179.59L947.59 181.12L947.54 182.64L947.49 184.17L947.47 185.7L947.45 187.23L947.45 188.76L947.46 190.29L947.49 191.82L947.53 193.35L947.58 194.88L947.65 196.41L947.73 197.94L947.82 199.47L947.93 201L948.05 202.53L948.19 204.06L948.23 204.54L948.34 205.59L948.5 207.12L948.68 208.65L948.87 210.18L949.08 211.71L949.3 213.24L949.54 214.77L949.67 215.57L949.79 216.3L950.05 217.83L950.34 219.35L950.63 220.88L950.94 222.41L951.1 223.19L951.27 223.94L951.61 225.47L951.96 227L952.33 228.53L952.54 229.34L952.72 230.06L953.13 231.59L953.55 233.12L953.97 234.62L953.98 234.65L954.44 236.18L954.91 237.71L955.4 239.24L955.41 239.28L955.9 240.77L956.43 242.3L956.84 243.48L956.97 243.83L957.53 245.36L958.11 246.89L958.28 247.32L958.71 248.42L959.33 249.95L959.71 250.88L959.96 251.48L960.62 253.01L961.15 254.19L961.3 254.54L962.01 256.07L962.58 257.29L962.73 257.59L963.47 259.12L964.02 260.21L964.24 260.65L965.04 262.18L965.45 262.97L965.85 263.71L966.7 265.24L966.89 265.59L967.57 266.77L968.32 268.07L968.46 268.3L969.38 269.83L969.76 270.44L970.34 271.36L971.19 272.7L971.32 272.89L972.33 274.42L972.63 274.86L973.38 275.95L974.06 276.93L974.46 277.48L975.5 278.91L975.57 279.01L976.73 280.54L976.93 280.81L977.92 282.07L978.37 282.63L979.15 283.6L979.8 284.39L980.43 285.13L981.24 286.07L981.75 286.66L982.67 287.7L983.12 288.19L984.11 289.26L984.54 289.72L985.54 290.76L986.02 291.25L986.98 292.21L987.55 292.78L988.41 293.61L989.16 294.3L989.85 294.95L990.83 295.83L991.28 296.24L992.57 297.36L992.72 297.49L994.15 298.69L994.4 298.89L995.59 299.85L996.33 300.42L997.02 300.96L998.35 301.95L998.46 302.03L999.89 303.06L1000.5 303.48L1001.33 304.05L1002.76 305L1002.77 305.01L1004.2 305.92L1005.21 306.54L1005.63 306.8L1007.07 307.64L1007.84 308.07L1008.5 308.44L1009.94 309.22L1010.68 309.6L1011.37 309.95L1012.81 310.66L1013.81 311.13L1014.24 311.33L1015.68 311.97L1017.11 312.58L1017.31 312.66L1018.55 313.16L1019.98 313.7L1021.33 314.19L1021.42 314.22L1022.85 314.71L1024.29 315.16L1025.72 315.59L1026.19 315.72L1027.16 315.99L1028.59 316.36L1030.03 316.7L1031.46 317.01L1032.66 317.25ZM1035.01 297.36L1034.33 297.23L1032.9 296.93L1031.46 296.59L1030.03 296.22L1028.66 295.83L1028.59 295.82L1027.16 295.37L1025.72 294.9L1024.29 294.39L1024.06 294.3L1022.85 293.84L1021.42 293.26L1020.29 292.78L1019.98 292.64L1018.55 291.98L1017.11 291.29L1017.03 291.25L1015.68 290.55L1014.24 289.78L1014.13 289.72L1012.81 288.96L1011.51 288.19L1011.37 288.11L1009.94 287.2L1009.1 286.66L1008.5 286.26L1007.07 285.27L1006.87 285.13L1005.63 284.23L1004.79 283.6L1004.2 283.14L1002.84 282.07L1002.76 282.01L1001.33 280.82L1001 280.54L999.89 279.58L999.26 279.01L998.46 278.28L997.61 277.48L997.02 276.92L996.04 275.95L995.59 275.5L994.54 274.42L994.15 274.02L993.1 272.89L992.72 272.47L991.73 271.36L991.28 270.84L990.42 269.83L989.85 269.15L989.16 268.3L988.41 267.37L987.95 266.77L986.98 265.5L986.79 265.24L985.67 263.71L985.54 263.54L984.59 262.18L984.11 261.48L983.55 260.65L982.67 259.31L982.55 259.12L981.59 257.59L981.24 257.02L980.66 256.07L979.8 254.6L979.76 254.54L978.9 253.01L978.37 252.03L978.07 251.48L977.26 249.95L976.93 249.3L976.49 248.42L975.74 246.89L975.5 246.38L975.02 245.36L974.32 243.83L974.06 243.24L973.65 242.3L973.01 240.77L972.63 239.84L972.39 239.24L971.79 237.71L971.21 236.18L971.19 236.13L970.66 234.65L970.13 233.12L969.76 232.03L969.62 231.59L969.13 230.06L968.66 228.53L968.32 227.41L968.21 227L967.78 225.47L967.37 223.94L966.98 222.41L966.89 222.06L966.61 220.88L966.25 219.35L965.92 217.83L965.6 216.3L965.45 215.56L965.3 214.77L965.02 213.24L964.76 211.71L964.51 210.18L964.28 208.65L964.07 207.12L964.02 206.75L963.87 205.59L963.7 204.06L963.53 202.53L963.39 201L963.26 199.47L963.15 197.94L963.05 196.41L962.97 194.88L962.91 193.35L962.86 191.82L962.83 190.29L962.82 188.76L962.82 187.23L962.84 185.7L962.87 184.17L962.92 182.64L962.99 181.12L963.07 179.59L963.17 178.06L963.29 176.53L963.42 175L963.57 173.47L963.74 171.94L963.92 170.41L964.02 169.62L964.12 168.88L964.33 167.35L964.57 165.82L964.82 164.29L965.09 162.76L965.37 161.23L965.45 160.8L965.67 159.7L966 158.17L966.34 156.64L966.69 155.11L966.89 154.3L967.07 153.58L967.47 152.05L967.88 150.52L968.31 148.99L968.32 148.95L968.77 147.46L969.24 145.93L969.73 144.4L969.76 144.33L970.25 142.88L970.79 141.35L971.19 140.23L971.35 139.82L971.93 138.29L972.53 136.76L972.63 136.52L973.16 135.23L973.81 133.7L974.06 133.12L974.49 132.17L975.19 130.64L975.5 129.98L975.92 129.11L976.67 127.58L976.93 127.06L977.45 126.05L978.26 124.52L978.37 124.32L979.11 122.99L979.8 121.76L979.97 121.46L980.88 119.93L981.24 119.34L981.82 118.4L982.67 117.05L982.79 116.87L983.8 115.34L984.11 114.88L984.84 113.81L985.54 112.82L985.93 112.28L986.98 110.86L987.06 110.75L988.23 109.22L988.41 108.99L989.45 107.69L989.85 107.21L990.73 106.16L991.28 105.52L992.05 104.64L992.72 103.89L993.44 103.11L994.15 102.34L994.89 101.58L995.59 100.86L996.4 100.05L997.02 99.44L997.99 98.52L998.46 98.08L999.66 96.99L999.89 96.78L1001.33 95.54L1001.42 95.46L1002.76 94.35L1003.29 93.93L1004.2 93.22L1005.27 92.4L1005.63 92.13L1007.07 91.09L1007.39 90.87L1008.5 90.1L1009.66 89.34L1009.94 89.16L1011.37 88.26L1012.11 87.81L1012.81 87.4L1014.24 86.58L1014.8 86.28L1015.68 85.81L1017.11 85.07L1017.77 84.75L1018.55 84.38L1019.98 83.72L1021.13 83.22L1021.42 83.1L1022.85 82.52L1024.29 81.97L1025.07 81.69L1025.72 81.46L1027.16 80.99L1028.59 80.55L1029.94 80.16L1030.03 80.14L1031.46 79.77L1032.9 79.43L1034.33 79.13L1035.77 78.85L1037.1 78.63L1037.2 78.61L1038.64 78.41L1040.07 78.24L1041.51 78.1L1042.94 77.99L1044.38 77.91L1045.81 77.87L1047.25 77.85L1048.68 77.87L1050.12 77.92L1051.55 78.01L1052.99 78.12L1054.42 78.27L1055.86 78.45L1057.1 78.63L1057.29 78.66L1058.73 78.91L1060.16 79.19L1061.6 79.5L1063.03 79.84L1064.25 80.16L1064.46 80.22L1065.9 80.63L1067.33 81.08L1068.77 81.56L1069.13 81.69L1070.2 82.08L1071.64 82.63L1073.07 83.22L1073.07 83.22L1074.51 83.85L1075.94 84.52L1076.43 84.75L1077.38 85.22L1078.81 85.96L1079.4 86.28L1080.25 86.75L1081.68 87.57L1082.09 87.81L1083.12 88.44L1084.55 89.34L1084.55 89.34L1085.99 90.3L1086.81 90.87L1087.42 91.3L1088.86 92.35L1088.93 92.4L1090.29 93.44L1090.91 93.93L1091.73 94.59L1092.77 95.46L1093.16 95.79L1094.54 96.99L1094.6 97.04L1096.03 98.35L1096.21 98.52L1097.47 99.72L1097.8 100.05L1098.9 101.15L1099.31 101.58L1100.34 102.65L1100.76 103.11L1101.77 104.22L1102.15 104.64L1103.21 105.85L1103.47 106.16L1104.64 107.57L1104.75 107.69L1105.97 109.22L1106.08 109.37L1107.14 110.75L1107.51 111.25L1108.27 112.28L1108.95 113.23L1109.36 113.81L1110.38 115.31L1110.41 115.34L1111.41 116.87L1111.82 117.51L1112.38 118.4L1113.25 119.82L1113.32 119.93L1114.22 121.46L1114.69 122.27L1115.09 122.99L1115.94 124.52L1116.12 124.87L1116.74 126.05L1117.53 127.58L1117.56 127.63L1118.28 129.11L1118.99 130.6L1119.01 130.64L1119.71 132.17L1120.39 133.7L1120.43 133.79L1121.04 135.23L1121.67 136.76L1121.86 137.25L1122.27 138.29L1122.85 139.82L1123.3 141.03L1123.41 141.35L1123.95 142.88L1124.46 144.4L1124.73 145.23L1124.96 145.93L1125.43 147.46L1125.89 148.99L1126.17 149.98L1126.32 150.52L1126.73 152.05L1127.13 153.58L1127.51 155.11L1127.6 155.51L1127.86 156.64L1128.2 158.17L1128.52 159.7L1128.83 161.23L1129.04 162.34L1129.12 162.76L1129.38 164.29L1129.63 165.82L1129.86 167.35L1130.08 168.88L1130.28 170.41L1130.46 171.94L1130.47 172L1130.63 173.47L1130.78 175L1130.91 176.53L1131.02 178.06L1131.12 179.59L1131.21 181.12L1131.27 182.64L1131.32 184.17L1131.36 185.7L1131.38 187.23L1131.38 188.76L1131.37 190.29L1131.33 191.82L1131.29 193.35L1131.22 194.88L1131.15 196.41L1131.05 197.94L1130.94 199.47L1130.81 201L1130.67 202.53L1130.51 204.06L1130.47 204.35L1130.33 205.59L1130.13 207.12L1129.92 208.65L1129.69 210.18L1129.44 211.71L1129.18 213.24L1129.04 214.02L1128.9 214.77L1128.6 216.3L1128.28 217.83L1127.95 219.35L1127.6 220.85L1127.6 220.88L1127.22 222.41L1126.83 223.94L1126.42 225.47L1126.17 226.38L1125.99 227L1125.54 228.53L1125.07 230.06L1124.73 231.13L1124.58 231.59L1124.07 233.12L1123.54 234.65L1123.3 235.33L1122.99 236.18L1122.41 237.71L1121.86 239.12L1121.81 239.24L1121.19 240.77L1120.55 242.3L1120.43 242.57L1119.87 243.83L1119.18 245.36L1118.99 245.76L1118.46 246.89L1117.71 248.42L1117.56 248.72L1116.93 249.95L1116.13 251.48L1116.12 251.5L1115.3 253.01L1114.69 254.09L1114.43 254.54L1113.54 256.07L1113.25 256.54L1112.61 257.59L1111.82 258.86L1111.65 259.12L1110.65 260.65L1110.38 261.05L1109.61 262.18L1108.95 263.13L1108.53 263.71L1107.51 265.11L1107.41 265.24L1106.25 266.77L1106.08 266.99L1105.04 268.3L1104.64 268.79L1103.78 269.83L1103.21 270.5L1102.46 271.36L1101.77 272.14L1101.09 272.89L1100.34 273.71L1099.66 274.42L1098.9 275.2L1098.16 275.95L1097.47 276.64L1096.59 277.48L1096.03 278.01L1094.94 279.01L1094.6 279.32L1093.2 280.54L1093.16 280.57L1091.73 281.77L1091.36 282.07L1090.29 282.92L1089.41 283.6L1088.86 284.01L1087.42 285.06L1087.33 285.13L1085.99 286.06L1085.1 286.66L1084.55 287.01L1083.12 287.92L1082.69 288.19L1081.68 288.79L1080.25 289.62L1080.07 289.72L1078.81 290.4L1077.38 291.14L1077.17 291.25L1075.94 291.84L1074.51 292.51L1073.91 292.78L1073.07 293.14L1071.64 293.73L1070.2 294.28L1070.14 294.3L1068.77 294.8L1067.33 295.28L1065.9 295.73L1065.53 295.83L1064.46 296.14L1063.03 296.52L1061.6 296.86L1060.16 297.17L1059.19 297.36L1058.73 297.45L1057.29 297.7L1055.86 297.91L1054.42 298.09L1052.99 298.24L1051.55 298.35L1050.12 298.44L1048.68 298.49L1047.25 298.51L1045.81 298.49L1044.38 298.45L1042.94 298.37L1041.51 298.26L1040.07 298.12L1038.64 297.95L1037.2 297.74L1035.77 297.51Z"/>
<path opacity=".8" fill="#98c9e0" stroke="#98c9e0" d="M1035.77 297.51L1037.2 297.74L1038.64 297.95L1040.07 298.12L1041.51 298.26L1042.94 298.37L1044.38 298.45L1045.81 298.49L1047.25 298.51L1048.68 298.49L1050.12 298.44L1051.55 298.35L1052.99 298.24L1054.42 298.09L1055.86 297.91L1057.29 297.7L1058.73 297.45L1059.19 297.36L1060.16 297.17L1061.6 296.86L1063.03 296.52L1064.46 296.14L1065.53 295.83L1065.9 295.73L1067.33 295.28L1068.77 294.8L1070.14 294.3L1070.2 294.28L1071.64 293.73L1073.07 293.14L1073.91 292.78L1074.51 292.51L1075.94 291.84L1077.17 291.25L1077.38 291.14L1078.81 290.4L1080.07 289.72L1080.25 289.62L1081.68 288.79L1082.69 288.19L1083.12 287.92L1084.55 287.01L1085.1 286.66L1085.99 286.06L1087.33 285.13L1087.42 285.06L1088.86 284.01L1089.41 283.6L1090.29 282.92L1091.36 282.07L1091.73 281.77L1093.16 280.57L1093.2 280.54L1094.6 279.32L1094.94 279.01L1096.03 278.01L1096.59 277.48L1097.47 276.64L1098.16 275.95L1098.9 275.2L1099.66 274.42L1100.34 273.71L1101.09 272.89L1101.77 272.14L1102.46 271.36L1103.21 270.5L1103.78 269.83L1104.64 268.79L1105.04 268.3L1106.08 266.99L1106.25 266.77L1107.41 265.24L1107.51 265.11L1108.53 263.71L1108.95 263.13L1109.61 262.18L1110.38 261.05L1110.65 260.65L1111.65 259.12L1111.82 258.86L1112.61 257.59L1113.25 256.54L1113.54 256.07L1114.43 254.54L1114.69 254.09L1115.3 253.01L1116.12 251.5L1116.13 251.48L1116.93 249.95L1117.56 248.72L1117.71 248.42L1118.46 246.89L1118.99 245.76L1119.18 245.36L1119.87 243.83L1120.43 242.57L1120.55 242.3L1121.19 240.77L1121.81 239.24L1121.86 239.12L1122.41 237.71L1122.99 236.18L1123.3 235.33L1123.54 234.65L1124.07 233.12L1124.58 231.59L1124.73 231.13L1125.07 230.06L1125.54 228.53L1125.99 227L1126.17 226.38L1126.42 225.47L1126.83 223.94L1127.22 222.41L1127.6 220.88L1127.6 220.85L1127.95 219.35L1128.28 217.83L1128.6 216.3L1128.9 214.77L1129.04 214.02L1129.18 213.24L1129.44 211.71L1129.69 210.18L1129.92 208.65L1130.13 207.12L1130.33 205.59L1130.47 204.35L1130.51 204.06L1130.67 202.53L1130.81 201L1130.94 199.47L1131.05 197.94L1131.15 196.41L1131.22 194.88L1131.29 193.35L1131.33 191.82L1131.37 190.29L1131.38 188.76L1131.38 187.23L1131.36 185.7L1131.32 184.17L1131.27 182.64L1131.21 181.12L1131.12 179.59L1131.02 178.06L1130.91 176.53L1130.78 175L1130.63 173.47L1130.47 172L1130.46 171.94L1130.28 170.41L1130.08 168.88L1129.86 167.35L1129.63 165.82L1129.38 164.29L1129.12 162.76L1129.04 162.34L1128.83 161.23L1128.52 159.7L1128.2 158.17L1127.86 156.64L1127.6 155.51L1127.51 155.11L1127.13 153.58L1126.73 152.05L1126.32 150.52L1126.17 149.98L1125.89 148.99L1125.43 147.46L1124.96 145.93L1124.73 145.23L1124.46 144.4L1123.95 142.88L1123.41 141.35L1123.3 141.03L1122.85 139.82L1122.27 138.29L1121.86 137.25L1121.67 136.76L1121.04 135.23L1120.43 133.79L1120.39 133.7L1119.71 132.17L1119.01 130.64L1118.99 130.6L1118.28 129.11L1117.56 127.63L1117.53 127.58L1116.74 126.05L1116.12 124.87L1115.94 124.52L1115.09 122.99L1114.69 122.27L1114.22 121.46L1113.32 119.93L1113.25 119.82L1112.38 118.4L1111.82 117.51L1111.41 116.87L1110.41 115.34L1110.38 115.31L1109.36 113.81L1108.95 113.23L1108.27 112.28L1107.51 111.25L1107.14 110.75L1106.08 109.37L1105.97 109.22L1104.75 107.69L1104.64 107.57L1103.47 106.16L1103.21 105.85L1102.15 104.64L1101.77 104.22L1100.76 103.11L1100.34 102.65L1099.31 101.58L1098.9 101.15L1097.8 100.05L1097.47 99.72L1096.21 98.52L1096.03 98.35L1094.6 97.04L1094.54 96.99L1093.16 95.79L1092.77 95.46L1091.73 94.59L1090.91 93.93L1090.29 93.44L1088.93 92.4L1088.86 92.35L1087.42 91.3L1086.81 90.87L1085.99 90.3L1084.55 89.34L1084.55 89.34L1083.12 88.44L1082.09 87.81L1081.68 87.57L1080.25 86.75L1079.4 86.28L1078.81 85.96L1077.38 85.22L1076.43 84.75L1075.94 84.52L1074.51 83.85L1073.07 83.22L1073.07 83.22L1071.64 82.63L1070.2 82.08L1069.13 81.69L1068.77 81.56L1067.33 81.08L1065.9 80.63L1064.46 80.22L1064.25 80.16L1063.03 79.84L1061.6 79.5L1060.16 79.19L1058.73 78.91L1057.29 78.66L1057.1 78.63L1055.86 78.45L1054.42 78.27L1052.99 78.12L1051.55 78.01L1050.12 77.92L1048.68 77.87L1047.25 77.85L1045.81 77.87L1044.38 77.91L1042.94 77.99L1041.51 78.1L1040.07 78.24L1038.64 78.41L1037.2 78.61L1037.1 78.63L1035.77 78.85L1034.33 79.13L1032.9 79.43L1031.46 79.77L1030.03 80.14L1029.94 80.16L1028.59 80.55L1027.16 80.99L1025.72 81.46L1025.07 81.69L1024.29 81.97L1022.85 82.52L1021.42 83.1L1021.13 83.22L1019.98 83.72L1018.55 84.38L1017.77 84.75L1017.11 85.07L1015.68 85.81L1014.8 86.28L1014.24 86.58L1012.81 87.4L1012.11 87.81L1011.37 88.26L1009.94 89.16L1009.66 89.34L1008.5 90.1L1007.39 90.87L1007.07 91.09L1005.63 92.13L1005.27 92.4L1004.2 93.22L1003.29 93.93L1002.76 94.35L1001.42 95.46L1001.33 95.54L999.89 96.78L999.66 96.99L998.46 98.08L997.99 98.52L997.02 99.44L996.4 100.05L995.59 100.86L994.89 101.58L994.15 102.34L993.44 103.11L992.72 103.89L992.05 104.64L991.28 105.52L990.73 106.16L989.85 107.21L989.45 107.69L988.41 108.99L988.23 109.22L987.06 110.75L986.98 110.86L985.93 112.28L985.54 112.82L984.84 113.81L984.11 114.88L983.8 115.34L982.79 116.87L982.67 117.05L981.82 118.4L981.24 119.34L980.88 119.93L979.97 121.46L979.8 121.76L979.11 122.99L978.37 124.32L978.26 124.52L977.45 126.05L976.93 127.06L976.67 127.58L975.92 129.11L975.5 129.98L975.19 130.64L974.49 132.17L974.06 133.12L973.81 133.7L973.16 135.23L972.63 136.52L972.53 136.76L971.93 138.29L971.35 139.82L971.19 140.23L970.79 141.35L970.25 142.88L969.76 144.33L969.73 144.4L969.24 145.93L968.77 147.46L968.32 148.95L968.31 148.99L967.88 150.52L967.47 152.05L967.07 153.58L966.89 154.3L966.69 155.11L966.34 156.64L966 158.17L965.67 159.7L965.45 160.8L965.37 161.23L965.09 162.76L964.82 164.29L964.57 165.82L964.33 167.35L964.12 168.88L964.02 169.62L963.92 170.41L963.74 171.94L963.57 173.47L963.42 175L963.29 176.53L963.17 178.06L963.07 179.59L962.99 181.12L962.92 182.64L962.87 184.17L962.84 185.7L962.82 187.23L962.82 188.76L962.83 190.29L962.86 191.82L962.91 193.35L962.97 194.88L963.05 196.41L963.15 197.94L963.26 199.47L963.39 201L963.53 202.53L963.7 204.06L963.87 205.59L964.02 206.75L964.07 207.12L964.28 208.65L964.51 210.18L964.76 211.71L965.02 213.24L965.3 214.77L965.45 215.56L965.6 216.3L965.92 217.83L966.25 219.35L966.61 220.88L966.89 222.06L966.98 222.41L967.37 223.94L967.78 225.47L968.21 227L968.32 227.41L968.66 228.53L969.13 230.06L969.62 231.59L969.76 232.03L970.13 233.12L970.66 234.65L971.19 236.13L971.21 236.18L971.79 237.71L972.39 239.24L972.63 239.84L973.01 240.77L973.65 242.3L974.06 243.24L974.32 243.83L975.02 245.36L975.5 246.38L975.74 246.89L976.49 248.42L976.93 249.3L977.26 249.95L978.07 251.48L978.37 252.03L978.9 253.01L979.76 254.54L979.8 254.6L980.66 256.07L981.24 257.02L981.59 257.59L982.55 259.12L982.67 259.31L983.55 260.65L984.11 261.48L984.59 262.18L985.54 263.54L985.67 263.71L986.79 265.24L986.98 265.5L987.95 266.77L988.41 267.37L989.16 268.3L989.85 269.15L990.42 269.83L991.28 270.84L991.73 271.36L992.72 272.47L993.1 272.89L994.15 274.02L994.54 274.42L995.59 275.5L996.04 275.95L997.02 276.92L997.61 277.48L998.46 278.28L999.26 279.01L999.89 279.58L1001 280.54L1001.33 280.82L1002.76 282.01L1002.84 282.07L1004.2 283.14L1004.79 283.6L1005.63 284.23L1006.87 285.13L1007.07 285.27L1008.5 286.26L1009.1 286.66L1009.94 287.2L1011.37 288.11L1011.51 288.19L1012.81 288.96L1014.13 289.72L1014.24 289.78L1015.68 290.55L1017.03 291.25L1017.11 291.29L1018.55 291.98L1019.98 292.64L1020.29 292.78L1021.42 293.26L1022.85 293.84L1024.06 294.3L1024.29 294.39L1025.72 294.9L1027.16 295.37L1028.59 295.82L1028.66 295.83L1030.03 296.22L1031.46 296.59L1032.9 296.93L1034.33 297.23L1035.01 297.36ZM1037.69 272.89L1037.2 272.8L1035.77 272.49L1034.33 272.13L1032.9 271.74L1031.65 271.36L1031.46 271.3L1030.03 270.81L1028.59 270.28L1027.46 269.83L1027.16 269.71L1025.72 269.08L1024.29 268.41L1024.07 268.3L1022.85 267.68L1021.42 266.91L1021.18 266.77L1019.98 266.07L1018.62 265.24L1018.55 265.2L1017.11 264.25L1016.33 263.71L1015.68 263.25L1014.24 262.2L1014.23 262.18L1012.81 261.07L1012.3 260.65L1011.37 259.88L1010.51 259.12L1009.94 258.62L1008.83 257.59L1008.5 257.28L1007.26 256.07L1007.07 255.87L1005.78 254.54L1005.63 254.37L1004.39 253.01L1004.2 252.79L1003.07 251.48L1002.76 251.1L1001.82 249.95L1001.33 249.32L1000.64 248.42L999.89 247.42L999.51 246.89L998.46 245.4L998.43 245.36L997.41 243.83L997.02 243.23L996.43 242.3L995.59 240.92L995.5 240.77L994.61 239.24L994.15 238.42L993.76 237.71L992.95 236.18L992.72 235.72L992.18 234.65L991.44 233.12L991.28 232.78L990.74 231.59L990.07 230.06L989.85 229.55L989.43 228.53L988.82 227L988.41 225.95L988.24 225.47L987.69 223.94L987.16 222.41L986.98 221.86L986.67 220.88L986.2 219.35L985.75 217.83L985.54 217.08L985.33 216.3L984.94 214.77L984.57 213.24L984.22 211.71L984.11 211.18L983.9 210.18L983.6 208.65L983.33 207.12L983.07 205.59L982.84 204.06L982.67 202.87L982.63 202.53L982.44 201L982.28 199.47L982.13 197.94L982.01 196.41L981.91 194.88L981.83 193.35L981.77 191.82L981.73 190.29L981.71 188.76L981.71 187.23L981.73 185.7L981.78 184.17L981.84 182.64L981.93 181.12L982.04 179.59L982.17 178.06L982.31 176.53L982.48 175L982.67 173.48L982.67 173.47L982.89 171.94L983.13 170.41L983.39 168.88L983.67 167.35L983.97 165.82L984.11 165.18L984.3 164.29L984.66 162.76L985.03 161.23L985.43 159.7L985.54 159.28L985.86 158.17L986.31 156.64L986.78 155.11L986.98 154.5L987.28 153.58L987.82 152.05L988.37 150.52L988.41 150.41L988.96 148.99L989.58 147.46L989.85 146.81L990.22 145.93L990.9 144.4L991.28 143.58L991.61 142.88L992.36 141.35L992.72 140.64L993.14 139.82L993.96 138.29L994.15 137.94L994.82 136.76L995.59 135.44L995.72 135.23L996.66 133.7L997.02 133.13L997.65 132.17L998.46 130.96L998.68 130.64L999.77 129.11L999.89 128.94L1000.91 127.58L1001.33 127.04L1002.12 126.05L1002.76 125.26L1003.38 124.52L1004.2 123.57L1004.72 122.99L1005.63 121.99L1006.13 121.46L1007.07 120.49L1007.63 119.93L1008.5 119.08L1009.22 118.4L1009.94 117.74L1010.92 116.87L1011.37 116.48L1012.74 115.34L1012.81 115.29L1014.24 114.17L1014.71 113.81L1015.68 113.11L1016.85 112.28L1017.11 112.11L1018.55 111.17L1019.21 110.75L1019.98 110.28L1021.42 109.45L1021.84 109.22L1022.85 108.68L1024.29 107.95L1024.83 107.69L1025.72 107.28L1027.16 106.66L1028.36 106.16L1028.59 106.07L1030.03 105.55L1031.46 105.06L1032.84 104.64L1032.9 104.62L1034.33 104.22L1035.77 103.87L1037.2 103.56L1038.64 103.3L1039.84 103.11L1040.07 103.07L1041.51 102.89L1042.94 102.75L1044.38 102.65L1045.81 102.59L1047.25 102.58L1048.68 102.6L1050.12 102.67L1051.55 102.78L1052.99 102.92L1054.37 103.11L1054.42 103.11L1055.86 103.35L1057.29 103.62L1058.73 103.94L1060.16 104.3L1061.35 104.64L1061.6 104.7L1063.03 105.16L1064.46 105.65L1065.84 106.16L1065.9 106.19L1067.33 106.78L1068.77 107.41L1069.37 107.69L1070.2 108.1L1071.64 108.83L1072.36 109.22L1073.07 109.62L1074.51 110.46L1074.99 110.75L1075.94 111.36L1077.35 112.28L1077.38 112.3L1078.81 113.32L1079.48 113.81L1080.25 114.39L1081.46 115.34L1081.68 115.53L1083.12 116.73L1083.28 116.87L1084.55 118.01L1084.98 118.4L1085.99 119.36L1086.57 119.93L1087.42 120.79L1088.07 121.46L1088.86 122.3L1089.48 122.99L1090.29 123.91L1090.82 124.52L1091.73 125.61L1092.08 126.05L1093.16 127.42L1093.29 127.58L1094.43 129.11L1094.6 129.34L1095.51 130.64L1096.03 131.39L1096.55 132.17L1097.47 133.58L1097.54 133.7L1098.48 135.23L1098.9 135.94L1099.38 136.76L1100.24 138.29L1100.34 138.47L1101.05 139.82L1101.77 141.21L1101.84 141.35L1102.58 142.88L1103.21 144.21L1103.3 144.4L1103.97 145.93L1104.63 147.46L1104.64 147.51L1105.24 148.99L1105.83 150.52L1106.08 151.2L1106.38 152.05L1106.91 153.58L1107.42 155.11L1107.51 155.41L1107.89 156.64L1108.34 158.17L1108.77 159.7L1108.95 160.37L1109.17 161.23L1109.54 162.76L1109.89 164.29L1110.22 165.82L1110.38 166.6L1110.53 167.35L1110.81 168.88L1111.07 170.41L1111.3 171.94L1111.52 173.47L1111.72 175L1111.82 175.9L1111.89 176.53L1112.04 178.06L1112.16 179.59L1112.27 181.12L1112.36 182.64L1112.42 184.17L1112.46 185.7L1112.49 187.23L1112.49 188.76L1112.47 190.29L1112.43 191.82L1112.37 193.35L1112.29 194.88L1112.19 196.41L1112.07 197.94L1111.92 199.47L1111.82 200.46L1111.76 201L1111.57 202.53L1111.36 204.06L1111.13 205.59L1110.87 207.12L1110.6 208.65L1110.38 209.76L1110.3 210.18L1109.97 211.71L1109.63 213.24L1109.26 214.77L1108.95 215.99L1108.87 216.3L1108.45 217.83L1108 219.35L1107.54 220.88L1107.51 220.96L1107.04 222.41L1106.51 223.94L1106.08 225.16L1105.96 225.47L1105.38 227L1104.77 228.53L1104.64 228.85L1104.13 230.06L1103.46 231.59L1103.21 232.15L1102.76 233.12L1102.02 234.65L1101.77 235.15L1101.24 236.18L1100.44 237.71L1100.34 237.89L1099.59 239.24L1098.9 240.42L1098.7 240.77L1097.77 242.3L1097.47 242.77L1096.79 243.83L1096.03 244.97L1095.77 245.36L1094.69 246.89L1094.6 247.02L1093.56 248.42L1093.16 248.94L1092.37 249.95L1091.73 250.75L1091.12 251.48L1090.29 252.45L1089.81 253.01L1088.86 254.06L1088.41 254.54L1087.42 255.57L1086.94 256.07L1085.99 257L1085.37 257.59L1084.55 258.35L1083.69 259.12L1083.12 259.63L1081.9 260.65L1081.68 260.83L1080.25 261.97L1079.97 262.18L1078.81 263.04L1077.87 263.71L1077.38 264.05L1075.94 265.01L1075.57 265.24L1074.51 265.9L1073.07 266.74L1073.02 266.77L1071.64 267.53L1070.2 268.26L1070.13 268.3L1068.77 268.95L1067.33 269.58L1066.73 269.83L1065.9 270.17L1064.46 270.71L1063.03 271.21L1062.54 271.36L1061.6 271.65L1060.16 272.06L1058.73 272.42L1057.29 272.74L1056.51 272.89L1055.86 273.01L1054.42 273.24L1052.99 273.43L1051.55 273.58L1050.12 273.69L1048.68 273.76L1047.25 273.78L1045.81 273.77L1044.38 273.71L1042.94 273.61L1041.51 273.47L1040.07 273.29L1038.64 273.06Z"/>
<path opacity=".8" fill="#3f8dbf" stroke="#3f8dbf" d="M1038.64 273.06L1040.07 273.29L1041.51 273.47L1042.94 273.61L1044.38 273.71L1045.81 273.77L1047.25 273.78L1048.68 273.76L1050.12 273.69L1051.55 273.58L1052.99 273.43L1054.42 273.24L1055.86 273.01L1056.51 272.89L1057.29 272.74L1058.73 272.42L1060.16 272.06L1061.6 271.65L1062.54 271.36L1063.03 271.21L1064.46 270.71L1065.9 270.17L1066.73 269.83L1067.33 269.58L1068.77 268.95L1070.13 268.3L1070.2 268.26L1071.64 267.53L1073.02 266.77L1073.07 266.74L1074.51 265.9L1075.57 265.24L1075.94 265.01L1077.38 264.05L1077.87 263.71L1078.81 263.04L1079.97 262.18L1080.25 261.97L1081.68 260.83L1081.9 260.65L1083.12 259.63L1083.69 259.12L1084.55 258.35L1085.37 257.59L1085.99 257L1086.94 256.07L1087.42 255.57L1088.41 254.54L1088.86 254.06L1089.81 253.01L1090.29 252.45L1091.12 251.48L1091.73 250.75L1092.37 249.95L1093.16 248.94L1093.56 248.42L1094.6 247.02L1094.69 246.89L1095.77 245.36L1096.03 244.97L1096.79 243.83L1097.47 242.77L1097.77 242.3L1098.7 240.77L1098.9 240.42L1099.59 239.24L1100.34 237.89L1100.44 237.71L1101.24 236.18L1101.77 235.15L1102.02 234.65L1102.76 233.12L1103.21 232.15L1103.46 231.59L1104.13 230.06L1104.64 228.85L1104.77 228.53L1105.38 227L1105.96 225.47L1106.08 225.16L1106.51 223.94L1107.04 222.41L1107.51 220.96L1107.54 220.88L1108 219.35L1108.45 217.83L1108.87 216.3L1108.95 215.99L1109.26 214.77L1109.63 213.24L1109.97 211.71L1110.3 210.18L1110.38 209.76L1110.6 208.65L1110.87 207.12L1111.13 205.59L1111.36 204.06L1111.57 202.53L1111.76 201L1111.82 200.46L1111.92 199.47L1112.07 197.94L1112.19 196.41L1112.29 194.88L1112.37 193.35L1112.43 191.82L1112.47 190.29L1112.49 188.76L1112.49 187.23L1112.46 185.7L1112.42 184.17L1112.36 182.64L1112.27 181.12L1112.16 179.59L1112.04 178.06L1111.89 176.53L1111.82 175.9L1111.72 175L1111.52 173.47L1111.3 171.94L1111.07 170.41L1110.81 168.88L1110.53 167.35L1110.38 166.6L1110.22 165.82L1109.89 164.29L1109.54 162.76L1109.17 161.23L1108.95 160.37L1108.77 159.7L1108.34 158.17L1107.89 156.64L1107.51 155.41L1107.42 155.11L1106.91 153.58L1106.38 152.05L1106.08 151.2L1105.83 150.52L1105.24 148.99L1104.64 147.51L1104.63 147.46L1103.97 145.93L1103.3 144.4L1103.21 144.21L1102.58 142.88L1101.84 141.35L1101.77 141.21L1101.05 139.82L1100.34 138.47L1100.24 138.29L1099.38 136.76L1098.9 135.94L1098.48 135.23L1097.54 133.7L1097.47 133.58L1096.55 132.17L1096.03 131.39L1095.51 130.64L1094.6 129.34L1094.43 129.11L1093.29 127.58L1093.16 127.42L1092.08 126.05L1091.73 125.61L1090.82 124.52L1090.29 123.91L1089.48 122.99L1088.86 122.3L1088.07 121.46L1087.42 120.79L1086.57 119.93L1085.99 119.36L1084.98 118.4L1084.55 118.01L1083.28 116.87L1083.12 116.73L1081.68 115.53L1081.46 115.34L1080.25 114.39L1079.48 113.81L1078.81 113.32L1077.38 112.3L1077.35 112.28L1075.94 111.36L1074.99 110.75L1074.51 110.46L1073.07 109.62L1072.36 109.22L1071.64 108.83L1070.2 108.1L1069.37 107.69L1068.77 107.41L1067.33 106.78L1065.9 106.19L1065.84 106.16L1064.46 105.65L1063.03 105.16L1061.6 104.7L1061.35 104.64L1060.16 104.3L1058.73 103.94L1057.29 103.62L1055.86 103.35L1054.42 103.11L1054.37 103.11L1052.99 102.92L1051.55 102.78L1050.12 102.67L1048.68 102.6L1047.25 102.58L1045.81 102.59L1044.38 102.65L1042.94 102.75L1041.51 102.89L1040.07 103.07L1039.84 103.11L1038.64 103.3L1037.2 103.56L1035.77 103.87L1034.33 104.22L1032.9 104.62L1032.84 104.64L1031.46 105.06L1030.03 105.55L1028.59 106.07L1028.36 106.16L1027.16 106.66L1025.72 107.28L1024.83 107.69L1024.29 107.95L1022.85 108.68L1021.84 109.22L1021.42 109.45L1019.98 110.28L1019.21 110.75L1018.55 111.17L1017.11 112.11L1016.85 112.28L1015.68 113.11L1014.71 113.81L1014.24 114.17L1012.81 115.29L1012.74 115.34L1011.37 116.48L1010.92 116.87L1009.94 117.74L1009.22 118.4L1008.5 119.08L1007.63 119.93L1007.07 120.49L1006.13 121.46L1005.63 121.99L1004.72 122.99L1004.2 123.57L1003.38 124.52L1002.76 125.26L1002.12 126.05L1001.33 127.04L1000.91 127.58L999.89 128.94L999.77 129.11L998.68 130.64L998.46 130.96L997.65 132.17L997.02 133.13L996.66 133.7L995.72 135.23L995.59 135.44L994.82 136.76L994.15 137.94L993.96 138.29L993.14 139.82L992.72 140.64L992.36 141.35L991.61 142.88L991.28 143.58L990.9 144.4L990.22 145.93L989.85 146.81L989.58 147.46L988.96 148.99L988.41 150.41L988.37 150.52L987.82 152.05L987.28 153.58L986.98 154.5L986.78 155.11L986.31 156.64L985.86 158.17L985.54 159.28L985.43 159.7L985.03 161.23L984.66 162.76L984.3 164.29L984.11 165.18L983.97 165.82L983.67 167.35L983.39 168.88L983.13 170.41L982.89 171.94L982.67 173.47L982.67 173.48L982.48 175L982.31 176.53L982.17 178.06L982.04 179.59L981.93 181.12L981.84 182.64L981.78 184.17L981.73 185.7L981.71 187.23L981.71 188.76L981.73 190.29L981.77 191.82L981.83 193.35L981.91 194.88L982.01 196.41L982.13 197.94L982.28 199.47L982.44 201L982.63 202.53L982.67 202.87L982.84 204.06L983.07 205.59L983.33 207.12L983.6 208.65L983.9 210.18L984.11 211.18L984.22 211.71L984.57 213.24L984.94 214.77L985.33 216.3L985.54 217.08L985.75 217.83L986.2 219.35L986.67 220.88L986.98 221.86L987.16 222.41L987.69 223.94L988.24 225.47L988.41 225.95L988.82 227L989.43 228.53L989.85 229.55L990.07 230.06L990.74 231.59L991.28 232.78L991.44 233.12L992.18 234.65L992.72 235.72L992.95 236.18L993.76 237.71L994.15 238.42L994.61 239.24L995.5 240.77L995.59 240.92L996.43 242.3L997.02 243.23L997.41 243.83L998.43 245.36L998.46 245.4L999.51 246.89L999.89 247.42L1000.64 248.42L1001.33 249.32L1001.82 249.95L1002.76 251.1L1003.07 251.48L1004.2 252.79L1004.39 253.01L1005.63 254.37L1005.78 254.54L1007.07 255.87L1007.26 256.07L1008.5 257.28L1008.83 257.59L1009.94 258.62L1010.51 259.12L1011.37 259.88L1012.3 260.65L1012.81 261.07L1014.23 262.18L1014.24 262.2L1015.68 263.25L1016.33 263.71L1017.11 264.25L1018.55 265.2L1018.62 265.24L1019.98 266.07L1021.18 266.77L1021.42 266.91L1022.85 267.68L1024.07 268.3L1024.29 268.41L1025.72 269.08L1027.16 269.71L1027.46 269.83L1028.59 270.28L1030.03 270.81L1031.46 271.3L1031.65 271.36L1032.9 271.74L1034.33 272.13L1035.77 272.49L1037.2 272.8L1037.69 272.89ZM1042.91 233.12L1041.51 232.86L1040.07 232.5L1038.64 232.07L1037.28 231.59L1037.2 231.56L1035.77 230.95L1034.33 230.25L1033.98 230.06L1032.9 229.45L1031.46 228.56L1031.42 228.53L1030.03 227.55L1029.32 227L1028.59 226.42L1027.5 225.47L1027.16 225.17L1025.89 223.94L1025.72 223.77L1024.47 222.41L1024.29 222.21L1023.19 220.88L1022.85 220.46L1022.03 219.35L1021.42 218.5L1020.97 217.83L1019.99 216.3L1019.98 216.28L1019.11 214.77L1018.55 213.72L1018.3 213.24L1017.56 211.71L1017.11 210.73L1016.87 210.18L1016.26 208.65L1015.68 207.12L1015.68 207.1L1015.18 205.59L1014.72 204.06L1014.3 202.53L1014.24 202.31L1013.93 201L1013.61 199.47L1013.33 197.94L1013.09 196.41L1012.89 194.88L1012.81 194.04L1012.74 193.35L1012.63 191.82L1012.55 190.29L1012.52 188.76L1012.52 187.23L1012.57 185.7L1012.65 184.17L1012.77 182.64L1012.81 182.31L1012.94 181.12L1013.15 179.59L1013.4 178.06L1013.69 176.53L1014.01 175L1014.24 174.06L1014.39 173.47L1014.82 171.94L1015.29 170.41L1015.68 169.27L1015.82 168.88L1016.4 167.35L1017.03 165.82L1017.11 165.62L1017.73 164.29L1018.48 162.76L1018.55 162.63L1019.32 161.23L1019.98 160.08L1020.22 159.7L1021.21 158.17L1021.42 157.86L1022.29 156.64L1022.85 155.9L1023.49 155.11L1024.29 154.16L1024.8 153.58L1025.72 152.6L1026.26 152.05L1027.16 151.2L1027.91 150.52L1028.59 149.94L1029.78 148.99L1030.03 148.81L1031.46 147.8L1031.99 147.46L1032.9 146.9L1034.33 146.1L1034.67 145.93L1035.77 145.41L1037.2 144.8L1038.29 144.4L1038.64 144.28L1040.07 143.86L1041.51 143.51L1042.94 143.24L1044.38 143.05L1045.81 142.94L1047.25 142.9L1048.68 142.95L1050.12 143.08L1051.55 143.29L1052.99 143.57L1054.42 143.94L1055.86 144.38L1055.93 144.4L1057.29 144.92L1058.73 145.54L1059.52 145.93L1060.16 146.26L1061.6 147.08L1062.21 147.46L1063.03 148L1064.42 148.99L1064.46 149.02L1065.9 150.18L1066.29 150.52L1067.33 151.47L1067.93 152.05L1068.77 152.9L1069.4 153.58L1070.2 154.5L1070.71 155.11L1071.64 156.28L1071.91 156.64L1073 158.17L1073.07 158.29L1073.98 159.7L1074.51 160.58L1074.88 161.23L1075.72 162.76L1075.94 163.21L1076.47 164.29L1077.17 165.82L1077.38 166.31L1077.8 167.35L1078.38 168.88L1078.81 170.12L1078.91 170.41L1079.38 171.94L1079.8 173.47L1080.19 175L1080.25 175.27L1080.52 176.53L1080.8 178.06L1081.05 179.59L1081.26 181.12L1081.42 182.64L1081.55 184.17L1081.63 185.7L1081.68 187.23L1081.68 188.68L1081.68 188.76L1081.68 188.77L1081.65 190.29L1081.57 191.82L1081.46 193.35L1081.3 194.88L1081.1 196.41L1080.87 197.94L1080.59 199.47L1080.27 201L1080.25 201.09L1079.9 202.53L1079.48 204.06L1079.02 205.59L1078.81 206.23L1078.51 207.12L1077.94 208.65L1077.38 210.06L1077.33 210.18L1076.64 211.71L1075.94 213.16L1075.91 213.24L1075.09 214.77L1074.51 215.78L1074.2 216.3L1073.24 217.83L1073.07 218.07L1072.17 219.35L1071.64 220.08L1071.01 220.88L1070.2 221.86L1069.72 222.41L1068.77 223.46L1068.3 223.94L1067.33 224.89L1066.7 225.47L1065.9 226.17L1064.88 227L1064.46 227.33L1063.03 228.36L1062.78 228.53L1061.6 229.28L1060.23 230.06L1060.16 230.1L1058.73 230.81L1057.29 231.44L1056.9 231.59L1055.86 231.98L1054.42 232.42L1052.99 232.79L1051.55 233.08L1051.26 233.12L1050.12 233.28L1048.68 233.4L1047.25 233.45L1045.81 233.42L1044.38 233.31L1042.94 233.13Z"/>
<path opacity=".8" fill="#16518e" stroke="#16518e" d="M1042.94 233.13L1044.38 233.31L1045.81 233.42L1047.25 233.45L1048.68 233.4L1050.12 233.28L1051.26 233.12L1051.55 233.08L1052.99 232.79L1054.42 232.42L1055.86 231.98L1056.9 231.59L1057.29 231.44L1058.73 230.81L1060.16 230.1L1060.23 230.06L1061.6 229.28L1062.78 228.53L1063.03 228.36L1064.46 227.33L1064.88 227L1065.9 226.17L1066.7 225.47L1067.33 224.89L1068.3 223.94L1068.77 223.46L1069.72 222.41L1070.2 221.86L1071.01 220.88L1071.64 220.08L1072.17 219.35L1073.07 218.07L1073.24 217.83L1074.2 216.3L1074.51 215.78L1075.09 214.77L1075.91 213.24L1075.94 213.16L1076.64 211.71L1077.33 210.18L1077.38 210.06L1077.94 208.65L1078.51 207.12L1078.81 206.23L1079.02 205.59L1079.48 204.06L1079.9 202.53L1080.25 201.09L1080.27 201L1080.59 199.47L1080.87 197.94L1081.1 196.41L1081.3 194.88L1081.46 193.35L1081.57 191.82L1081.65 190.29L1081.68 188.77L1081.68 188.76L1081.68 188.68L1081.68 187.23L1081.63 185.7L1081.55 184.17L1081.42 182.64L1081.26 181.12L1081.05 179.59L1080.8 178.06L1080.52 176.53L1080.25 175.27L1080.19 175L1079.8 173.47L1079.38 171.94L1078.91 170.41L1078.81 170.12L1078.38 168.88L1077.8 167.35L1077.38 166.31L1077.17 165.82L1076.47 164.29L1075.94 163.21L1075.72 162.76L1074.88 161.23L1074.51 160.58L1073.98 159.7L1073.07 158.29L1073 158.17L1071.91 156.64L1071.64 156.28L1070.71 155.11L1070.2 154.5L1069.4 153.58L1068.77 152.9L1067.93 152.05L1067.33 151.47L1066.29 150.52L1065.9 150.18L1064.46 149.02L1064.42 148.99L1063.03 148L1062.21 147.46L1061.6 147.08L1060.16 146.26L1059.52 145.93L1058.73 145.54L1057.29 144.92L1055.93 144.4L1055.86 144.38L1054.42 143.94L1052.99 143.57L1051.55 143.29L1050.12 143.08L1048.68 142.95L1047.25 142.9L1045.81 142.94L1044.38 143.05L1042.94 143.24L1041.51 143.51L1040.07 143.86L1038.64 144.28L1038.29 144.4L1037.2 144.8L1035.77 145.41L1034.67 145.93L1034.33 146.1L1032.9 146.9L1031.99 147.46L1031.46 147.8L1030.03 148.81L1029.78 148.99L1028.59 149.94L1027.91 150.52L1027.16 151.2L1026.26 152.05L1025.72 152.6L1024.8 153.58L1024.29 154.16L1023.49 155.11L1022.85 155.9L1022.29 156.64L1021.42 157.86L1021.21 158.17L1020.22 159.7L1019.98 160.08L1019.32 161.23L1018.55 162.63L1018.48 162.76L1017.73 164.29L1017.11 165.62L1017.03 165.82L1016.4 167.35L1015.82 168.88L1015.68 169.27L1015.29 170.41L1014.82 171.94L1014.39 173.47L1014.24 174.06L1014.01 175L1013.69 176.53L1013.4 178.06L1013.15 179.59L1012.94 181.12L1012.81 182.31L1012.77 182.64L1012.65 184.17L1012.57 185.7L1012.52 187.23L1012.52 188.76L1012.55 190.29L1012.63 191.82L1012.74 193.35L1012.81 194.04L1012.89 194.88L1013.09 196.41L1013.33 197.94L1013.61 199.47L1013.93 201L1014.24 202.31L1014.3 202.53L1014.72 204.06L1015.18 205.59L1015.68 207.1L1015.68 207.12L1016.26 208.65L1016.87 210.18L1017.11 210.73L1017.56 211.71L1018.3 213.24L1018.55 213.72L1019.11 214.77L1019.98 216.28L1019.99 216.3L1020.97 217.83L1021.42 218.5L1022.03 219.35L1022.85 220.46L1023.19 220.88L1024.29 222.21L1024.47 222.41L1025.72 223.77L1025.89 223.94L1027.16 225.17L1027.5 225.47L1028.59 226.42L1029.32 227L1030.03 227.55L1031.42 228.53L1031.46 228.56L1032.9 229.45L1033.98 230.06L1034.33 230.25L1035.77 230.95L1037.2 231.56L1037.28 231.59L1038.64 232.07L1040.07 232.5L1041.51 232.86L1042.91 233.12Z"/>
</g>
<g stroke="#000" stroke-width="1.47">
<ellipse cx="1157.81" cy="108.26" rx="4.167" ry="4.167" fill="#f00"/>
<ellipse cx="981.86" cy="40.09" rx="4.167" ry="4.167" fill="#f00"/>
<ellipse cx="1050.98" cy="197.77" rx="4.167" ry="4.167" fill="#00f"/>
<ellipse cx="1013.47" cy="37.33" rx="4.167" ry="4.167" fill="#f00"/>
<ellipse cx="1061.63" cy="132.93" rx="4.167" ry="4.167" fill="#00f"/>
<ellipse cx="1102.31" cy="331.19" rx="4.167" ry="4.167" fill="#f00"/>
<ellipse cx="970.1" cy="240.99" rx="4.167" ry="4.167" fill="#00f"/>
<ellipse cx="1075.47" cy="225.89" rx="4.167" ry="4.167" fill="#00f"/>
<ellipse cx="1185" cy="194.49" rx="4.167" ry="4.167" fill="#f00"/>
<ellipse cx="1054.02" cy="76.66" rx="4.167" ry="4.167" fill="#f00"/>
<ellipse cx="1037.11" cy="301.93" rx="4.167" ry="4.167" fill="#00f"/>
<ellipse cx="1132.37" cy="96.36" rx="4.167" ry="4.167" fill="#f00"/>
<ellipse cx="1025.15" cy="136.67" rx="4.167" ry="4.167" fill="#00f"/>
<ellipse cx="929.04" cy="126.02" rx="4.167" ry="4.167" fill="#f00"/>
<ellipse cx="1014.04" cy="252.7" rx="4.167" ry="4.167" fill="#00f"/>
<ellipse cx="1012.99" cy="126.31" rx="4.167" ry="4.167" fill="#00f"/>
<ellipse cx="966.21" cy="229.34" rx="4.167" ry="4.167" fill="#f00"/>
<ellipse cx="910.24" cy="182.21" rx="4.167" ry="4.167" fill="#f00"/>
<ellipse cx="950.59" cy="139.59" rx="4.167" ry="4.167" fill="#f00"/>
<ellipse cx="1119.78" cy="43.05" rx="4.167" ry="4.167" fill="#f00"/>
<ellipse cx="903.05" cy="247.08" rx="4.167" ry="4.167" fill="#f00"/>
<ellipse cx="989.72" cy="341.72" rx="4.167" ry="4.167" fill="#f00"/>
<ellipse cx="1014.43" cy="75.85" rx="4.167" ry="4.167" fill="#00f"/>
<ellipse cx="1006.48" cy="144.07" rx="4.167" ry="4.167" fill="#00f"/>
<ellipse cx="1080.49" cy="213.47" rx="4.167" ry="4.167" fill="#00f"/>
<ellipse cx="968.69" cy="181.58" rx="4.167" ry="4.167" fill="#00f"/>
<ellipse cx="1084.88" cy="100.91" rx="4.167" ry="4.167" fill="#f00"/>
<ellipse cx="1075.53" cy="277.49" rx="4.167" ry="4.167" fill="#f00"/>
<ellipse cx="1061.99" cy="78.09" rx="4.167" ry="4.167" fill="#f00"/>
<ellipse cx="1037.45" cy="93.77" rx="4.167" ry="4.167" fill="#00f"/>
<ellipse cx="930.2" cy="237.71" rx="4.167" ry="4.167" fill="#f00"/>
<ellipse cx="1119.77" cy="115.21" rx="4.167" ry="4.167" fill="#f00"/>
<ellipse cx="1180.14" cy="165.85" rx="4.167" ry="4.167" fill="#f00"/>
<ellipse cx="990.17" cy="49.09" rx="4.167" ry="4.167" fill="#f00"/>
<ellipse cx="1133.27" cy="222.56" rx="4.167" ry="4.167" fill="#f00"/>
<ellipse cx="1098.31" cy="231.16" rx="4.167" ry="4.167" fill="#00f"/>
<ellipse cx="1019.2" cy="257.71" rx="4.167" ry="4.167" fill="#00f"/>
<ellipse cx="1136.7" cy="295.59" rx="4.167" ry="4.167" fill="#f00"/>
<ellipse cx="1006.51" cy="284.37" rx="4.167" ry="4.167" fill="#00f"/>
<ellipse cx="1010.02" cy="222.9" rx="4.167" ry="4.167" fill="#00f"/>
<ellipse cx="1133.72" cy="100.58" rx="4.167" ry="4.167" fill="#f00"/>
<ellipse cx="1002.52" cy="137.82" rx="4.167" ry="4.167" fill="#f00"/>
<ellipse cx="1126.14" cy="39.24" rx="4.167" ry="4.167" fill="#f00"/>
<ellipse cx="1071.97" cy="168.17" rx="4.167" ry="4.167" fill="#00f"/>
<ellipse cx="1114.37" cy="120.68" rx="4.167" ry="4.167" fill="#00f"/>
<ellipse cx="1073.31" cy="290.3" rx="4.167" ry="4.167" fill="#f00"/>
<ellipse cx="965.85" cy="206.83" rx="4.167" ry="4.167" fill="#00f"/>
<ellipse cx="1018.28" cy="318.19" rx="4.167" ry="4.167" fill="#f00"/>
<ellipse cx="1142.88" cy="213.77" rx="4.167" ry="4.167" fill="#f00"/>
<ellipse cx="1010.09" cy="297.67" rx="4.167" ry="4.167" fill="#00f"/>
<ellipse cx="993.54" cy="316.67" rx="4.167" ry="4.167" fill="#f00"/>
<ellipse cx="1139.22" cy="246.27" rx="4.167" ry="4.167" fill="#00f"/>
<ellipse cx="1042.41" cy="109.79" rx="4.167" ry="4.167" fill="#00f"/>
<ellipse cx="1079.78" cy="128.79" rx="4.167" ry="4.167" fill="#00f"/>
<ellipse cx="1056.75" cy="138.7" rx="4.167" ry="4.167" fill="#00f"/>
<ellipse cx="921.05" cy="109.37" rx="4.167" ry="4.167" fill="#f00"/>
<ellipse cx="1113.89" cy="215.88" rx="4.167" ry="4.167" fill="#00f"/>
<ellipse cx="1166.38" cy="167.28" rx="4.167" ry="4.167" fill="#f00"/>
<ellipse cx="999.25" cy="298.94" rx="4.167" ry="4.167" fill="#f00"/>
<ellipse cx="999.32" cy="166.37" rx="4.167" ry="4.167" fill="#00f"/>
<ellipse cx="899.45" cy="149.9" rx="4.167" ry="4.167" fill="#f00"/>
<ellipse cx="969.31" cy="168" rx="4.167" ry="4.167" fill="#00f"/>
<ellipse cx="1090.34" cy="228.77" rx="4.167" ry="4.167" fill="#00f"/>
<ellipse cx="983.68" cy="311.35" rx="4.167" ry="4.167" fill="#f00"/>
<ellipse cx="940.52" cy="264.55" rx="4.167" ry="4.167" fill="#f00"/>
<ellipse cx="1108.67" cy="309.58" rx="4.167" ry="4.167" fill="#f00"/>
<ellipse cx="1099.53" cy="111.55" rx="4.167" ry="4.167" fill="#00f"/>
<ellipse cx="958.25" cy="182.97" rx="4.167" ry="4.167" fill="#00f"/>
<ellipse cx="927.65" cy="313.17" rx="4.167" ry="4.167" fill="#f00"/>
<ellipse cx="1037.66" cy="132.22" rx="4.167" ry="4.167" fill="#00f"/>
<ellipse cx="937.03" cy="220.18" rx="4.167" ry="4.167" fill="#f00"/>
<ellipse cx="1078.58" cy="112.81" rx="4.167" ry="4.167" fill="#00f"/>
<ellipse cx="915.36" cy="250.71" rx="4.167" ry="4.167" fill="#f00"/>
<ellipse cx="1005.85" cy="283.98" rx="4.167" ry="4.167" fill="#00f"/>
<ellipse cx="1136.98" cy="211.99" rx="4.167" ry="4.167" fill="#00f"/>
<ellipse cx="1029.84" cy="257.36" rx="4.167" ry="4.167" fill="#00f"/>
<ellipse cx="1012.63" cy="77.51" rx="4.167" ry="4.167" fill="#f00"/>
<ellipse cx="1088.04" cy="188.32" rx="4.167" ry="4.167" fill="#00f"/>
<ellipse cx="992.43" cy="121.56" rx="4.167" ry="4.167" fill="#00f"/>
<ellipse cx="1115.59" cy="186.71" rx="4.167" ry="4.167" fill="#00f"/>
</g>
<g stroke="#000" stroke-width="1.47" fill-opacity="0.2" stroke-opacity="0.2">
<ellipse cx="989.9" cy="223.16" rx="4.167" ry="4.167" fill="#00f"/>
<ellipse cx="976.12" cy="190.86" rx="4.167" ry="4.167" fill="#00f"/>
<ellipse cx="1019.46" cy="60.78" rx="4.167" ry="4.167" fill="#f00"/>
<ellipse cx="1068.85" cy="250.9" rx="4.167" ry="4.167" fill="#00f"/>
<ellipse cx="1160.65" cy="264.84" rx="4.167" ry="4.167" fill="#f00"/>
<ellipse cx="1027.14" cy="105.57" rx="4.167" ry="4.167" fill="#f00"/>
<ellipse cx="1160.48" cy="269.8" rx="4.167" ry="4.167" fill="#f00"/>
<ellipse cx="1103.77" cy="143.55" rx="4.167" ry="4.167" fill="#00f"/>
<ellipse cx="996.93" cy="244.44" rx="4.167" ry="4.167" fill="#00f"/>
<ellipse cx="1144.3" cy="294.27" rx="4.167" ry="4.167" fill="#f00"/>
<ellipse cx="1054.41" cy="334.18" rx="4.167" ry="4.167" fill="#f00"/>
<ellipse cx="1001.98" cy="267.81" rx="4.167" ry="4.167" fill="#00f"/>
<ellipse cx="1145.13" cy="222.31" rx="4.167" ry="4.167" fill="#00f"/>
<ellipse cx="905.75" cy="126" rx="4.167" ry="4.167" fill="#f00"/>
<ellipse cx="1110.87" cy="180.73" rx="4.167" ry="4.167" fill="#00f"/>
<ellipse cx="994.1" cy="224.24" rx="4.167" ry="4.167" fill="#00f"/>
<ellipse cx="1007.31" cy="109.39" rx="4.167" ry="4.167" fill="#00f"/>
<ellipse cx="1018.57" cy="310.94" rx="4.167" ry="4.167" fill="#f00"/>
<ellipse cx="878.84" cy="215.91" rx="4.167" ry="4.167" fill="#f00"/>
<ellipse cx="1046.32" cy="158.95" rx="4.167" ry="4.167" fill="#00f"/>
</g>
</g>
<g fill="#000">
<rect x="917.944" y="342.5" width="1.111" height="5"/>
<rect x="978.944" y="342.5" width="1.111" height="5"/>
<rect x="1038.944" y="342.5" width="1.111" height="5"/>
<rect x="1099.944" y="342.5" width="1.111" height="5"/>
<rect x="1160.944" y="342.5" width="1.111" height="5"/>
<rect x="859.5" y="317.944" width="5" height="1.111"/>
<rect x="859.5" y="256.944" width="5" height="1.111"/>
<rect x="859.5" y="195.944" width="5" height="1.111"/>
<rect x="859.5" y="134.944" width="5" height="1.111"/>
<rect x="859.5" y="73.944" width="5" height="1.111"/>
<rect x="863.944" y="36.944" width="1.111" height="306.111"/>
<rect x="1184.944" y="36.944" width="1.111" height="306.111"/>
<rect x="863.944" y="36.944" width="322.111" height="1.111"/>
<rect x="863.944" y="341.944" width="322.111" height="1.111"/>
</g>
<g font-family="'DejaVu Sans', 'Liberation Sans', sans-serif" fill="#000">
<text x="74 84.625" y="362" font-size="13.889">−2</text>
<text x="159 169.625" y="362" font-size="13.889">−1</text>
<text x="250" y="362" font-size="13.889">0</text>
<text x="334" y="362" font-size="13.889">1</text>
<text x="35 45.625" y="305" font-size="13.889">−2</text>
<text x="35 45.625" y="254" font-size="13.889">−1</text>
<text x="47" y="204" font-size="13.889">0</text>
<text x="47" y="153" font-size="13.889">1</text>
<text x="46" y="102" font-size="13.889">2</text>
<text x="46" y="52" font-size="13.889">3</text>
<text transform="translate(0 29) scale(1 1.07)" x="92 101.25 105.875 116.375 126.625 136.75 143.625 148.25 158.125 163.375 173.875 184.125 194.625 204.75 211.625 221.75 232.25 236.875 247.125 252.875 258.125 268.625 273.875 284.375 294.875 305.5 311.125 321.625 326.875 337.375 347.875" y="0" font-size="16.667">Linearly Separable: 0.963/0.900</text>
<text x="217 224.25" y="382" font-size="13.889">x1</text>
<text transform="translate(25 199) rotate(-90)" x="0 7.25" y="0" font-size="13.889">x2</text>
<text x="496 506.625" y="362" font-size="13.889">−1</text>
<text x="578" y="362" font-size="13.889">0</text>
<text x="654" y="362" font-size="13.889">1</text>
<text x="729" y="362" font-size="13.889">2</text>
<text x="421 431.625 440.375 444.75" y="290" font-size="13.889">−0.5</text>
<text x="433 440.75 445.125" y="227" font-size="13.889">0.0</text>
<text x="433 440.75 445.125" y="163" font-size="13.889">0.5</text>
<text x="433 440.875 445.25" y="100" font-size="13.889">1.0</text>
<text transform="translate(0 29) scale(1 1.07)" x="542 556.375 566.5 576.625 587.125 595.875 601.625 606.875 617.375 622.625 633.125 643.625 654.25 659.875 670.375 675.625 686.125 696.625" y="0" font-size="16.667">Moons: 0.863/0.800</text>
<text x="617 624.25" y="382" font-size="13.889">x1</text>
<text transform="translate(412 199) rotate(-90)" x="0 7.25" y="0" font-size="13.889">x2</text>
<text x="901.75 912.375 921.25 925.625" y="362" font-size="13.889">−1.0</text>
<text x="963 973.625 982.375 986.75" y="362" font-size="13.889">−0.5</text>
<text x="1029 1036.75 1041.125" y="362" font-size="13.889">0.0</text>
<text x="1090 1097.75 1102.125" y="362" font-size="13.889">0.5</text>
<text x="1150 1157.875 1162.25" y="362" font-size="13.889">1.0</text>
<text x="820.75 831.375 840.25 844.625" y="324" font-size="13.889">−1.0</text>
<text x="821 831.625 840.375 844.75" y="263" font-size="13.889">−0.5</text>
<text x="833 840.75 845.125" y="202" font-size="13.889">0.0</text>
<text x="833 840.75 845.125" y="141" font-size="13.889">0.5</text>
<text x="832 839.875 844.25" y="80" font-size="13.889">1.0</text>
<text transform="translate(0 29) scale(1 1.07)" x="941 952.5 957.125 963.625 972.75 977.375 987.625 996.375 1002.125 1007.375 1017.875 1023.125 1033.625 1044.125 1054.625 1060.25 1070.75 1076 1086.5 1097" y="0" font-size="16.667">Circles: 0.850/0.900</text>
<text x="1016 1023.25" y="382" font-size="13.889">x1</text>
<text transform="translate(811 199) rotate(-90)" x="0 7.25" y="0" font-size="13.889">x2</text>
</g>
</svg>
</body>
</html>
